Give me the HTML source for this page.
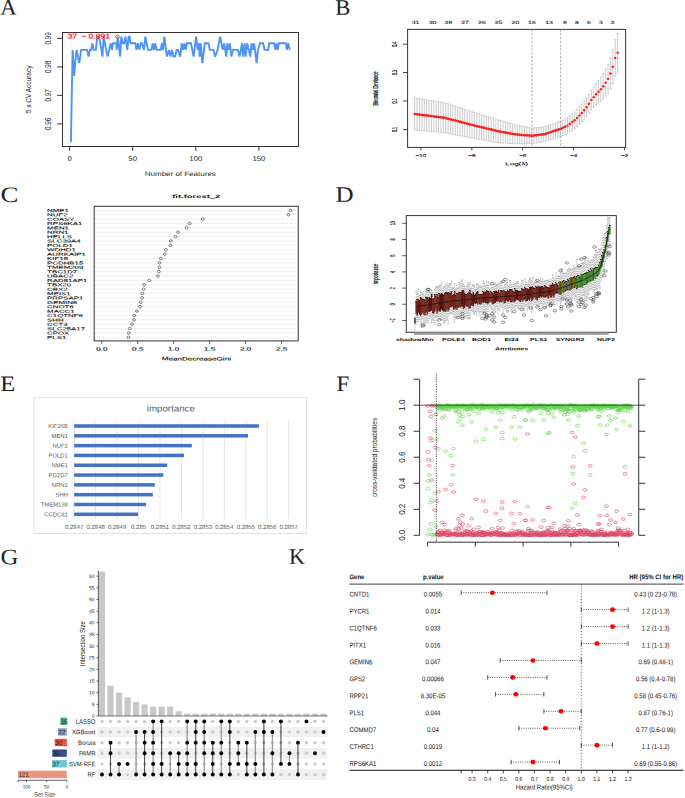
<!DOCTYPE html>
<html><head><meta charset="utf-8"><style>
html,body{margin:0;padding:0;background:#fff;}
svg{display:block;font-family:"Liberation Sans", sans-serif;}
</style></head><body>
<svg width="685" height="798" viewBox="0 0 685 798">
<rect width="685" height="798" fill="#fff"/>
<text transform="translate(0.2,14.6) rotate(0.05) scale(1.03,1)" font-family='"Liberation Serif", serif' font-size="22" fill="#222">A</text>
<text transform="translate(335.3,14.7) rotate(0.05) scale(1.03,1)" font-family='"Liberation Serif", serif' font-size="22" fill="#222">B</text>
<text transform="translate(0.6,202) rotate(0.05) scale(1.22,1)" font-family='"Liberation Serif", serif' font-size="22" fill="#222">C</text>
<text transform="translate(335.5,201.7) rotate(0.05) scale(1.14,1)" font-family='"Liberation Serif", serif' font-size="22" fill="#222">D</text>
<text transform="translate(0.3,391) rotate(0.05) scale(1.12,1)" font-family='"Liberation Serif", serif' font-size="22" fill="#222">E</text>
<text transform="translate(336.6,391.1) rotate(0.05) scale(1.05,1)" font-family='"Liberation Serif", serif' font-size="22" fill="#222">F</text>
<text transform="translate(0.5,564.3) rotate(0.05) scale(1.13,1)" font-family='"Liberation Serif", serif' font-size="22" fill="#222">G</text>
<text transform="translate(289,563.8) rotate(0.05) scale(1,1)" font-family='"Liberation Serif", serif' font-size="22" fill="#222">K</text>
<rect x="62.5" y="32.5" width="236" height="114" fill="none" stroke="#333" stroke-width="1"/>
<line x1="57.2" y1="38.4" x2="62.5" y2="38.4" stroke="#333" stroke-width="1"/>
<text transform="translate(51.1,38.4) rotate(-90) scale(1,1.55)" font-size="6.4" text-anchor="middle" fill="#222">0.99</text>
<line x1="57.2" y1="66.9" x2="62.5" y2="66.9" stroke="#333" stroke-width="1"/>
<text transform="translate(51.1,66.9) rotate(-90) scale(1,1.55)" font-size="6.4" text-anchor="middle" fill="#222">0.98</text>
<line x1="57.2" y1="95.4" x2="62.5" y2="95.4" stroke="#333" stroke-width="1"/>
<text transform="translate(51.1,95.4) rotate(-90) scale(1,1.55)" font-size="6.4" text-anchor="middle" fill="#222">0.97</text>
<line x1="57.2" y1="123.9" x2="62.5" y2="123.9" stroke="#333" stroke-width="1"/>
<text transform="translate(51.1,123.9) rotate(-90) scale(1,1.55)" font-size="6.4" text-anchor="middle" fill="#222">0.96</text>
<line x1="69.6" y1="146.5" x2="69.6" y2="150.8" stroke="#333" stroke-width="1"/>
<text transform="translate(69.6,160.7) rotate(0.05) scale(1.22,1)" font-size="6.4" text-anchor="middle" fill="#222">0</text>
<line x1="132.7" y1="146.5" x2="132.7" y2="150.8" stroke="#333" stroke-width="1"/>
<text transform="translate(132.7,160.7) rotate(0.05) scale(1.22,1)" font-size="6.4" text-anchor="middle" fill="#222">50</text>
<line x1="195.8" y1="146.5" x2="195.8" y2="150.8" stroke="#333" stroke-width="1"/>
<text transform="translate(195.8,160.7) rotate(0.05) scale(1.22,1)" font-size="6.4" text-anchor="middle" fill="#222">100</text>
<line x1="258.9" y1="146.5" x2="258.9" y2="150.8" stroke="#333" stroke-width="1"/>
<text transform="translate(258.9,160.7) rotate(0.05) scale(1.22,1)" font-size="6.4" text-anchor="middle" fill="#222">150</text>
<text transform="translate(180.3,175.9) rotate(0.05) scale(1.27,1)" font-size="6.3" text-anchor="middle" fill="#222">Number of Features</text>
<text transform="translate(31.4,89.4) rotate(-90) scale(1,1.25)" font-size="6.5" text-anchor="middle" fill="#222">5 x CV Accuracy</text>
<polyline points="70.9,142 72.6,49.9 74.2,76 75.3,62 76.6,49.9 79.2,63 81.2,49.9 87,49.9 88.6,56.6 89.8,49.9 91.1,49.9 92.3,43.3 93.7,49.9 95.9,49.9 97.3,36.6 98.8,36.6 100.3,43.3 102.4,56.6 103.7,36.6 104.9,43.3 107.5,56.6 109.2,49.9 110.5,43.3 112,49.9 113,43.3 116.2,43.3 116.7,49.9 117.7,36.6 120.2,56.6 121.3,36.6 122.8,43.3 124.1,43.3 125.4,36.6 127.3,49.9 128.6,36.6 129.6,36.6 130.6,43.3 135.2,43.3 136.4,49.9 137.8,43.3 139.3,49.9 140.8,43.3 141.9,43.3 143.9,49.9 145.4,36.6 148,49.9 151.6,49.9 152.6,43.3 154.1,49.9 155.1,43.3 156.7,49.9 160.8,49.9 161.8,43.3 163,49.9 164.3,36.6 166.9,56.6 168.9,49.9 170.5,56.6 172,49.9 173.5,56.6 175.1,56.6 176.6,49.9 178.1,49.9 180.2,56.6 181.7,43.3 183.2,49.9 184.3,43.3 185.8,49.9 186.8,43.3 190.4,43.3 191,43.3 193.6,56.6 196.1,36.6 197.7,49.9 198.7,43.3 199.7,56.6 200.7,43.3 202.3,63.2 204.8,43.3 208.4,43.3 209.9,49.9 213.5,49.9 215,56.6 217.6,49.9 220.1,36.6 222.7,49.9 224.2,43.3 226.3,56.6 227.3,43.3 228.8,49.9 229.9,43.3 231.4,56.6 232.9,49.9 238,49.9 239.6,56.6 242.1,43.3 243.1,56.6 244.7,43.3 245.7,56.6 247.2,43.3 248.8,49.9 250.3,56.6 251.5,43.3 252.9,49.9 254,43.3 255.1,49.9 256.6,63.2 258,49.9 259.9,43.3 263.1,43.3 264.6,49.9 268.2,49.9 269.3,43.3 274.1,43.3 275.5,49.9 276.6,43.3 277.7,49.9 278.8,43.3 284.3,43.3 285.8,43.3 286.9,49.9 288,43.3 289.8,49.9" fill="none" stroke="#4d94f5" stroke-width="1.9" stroke-linejoin="miter" stroke-miterlimit="3"/>
<text transform="translate(67.5,38.4) rotate(0.05) scale(1.25,1)" font-size="6.9" text-anchor="start" fill="#f22" stroke="#f22" stroke-width="0.25">37</text>
<text transform="translate(81.2,38.4) rotate(0.05) scale(1.25,1)" font-size="6.9" text-anchor="start" fill="#f22" stroke="#f22" stroke-width="0.25">&#8722;</text>
<text transform="translate(88.5,38.4) rotate(0.05) scale(1.25,1)" font-size="6.9" text-anchor="start" fill="#f22" stroke="#f22" stroke-width="0.25">0.991</text>
<ellipse cx="117.5" cy="36.6" rx="1.9" ry="1.6" fill="none" stroke="#f22" stroke-width="0.8"/>
<rect x="407.6" y="29.4" width="218" height="118" fill="none" stroke="#333" stroke-width="1"/>
<line x1="403" y1="129.6" x2="407.6" y2="129.6" stroke="#333" stroke-width="0.9"/>
<text transform="translate(396.9,129.6) rotate(-90) scale(1,2)" font-size="3.6" text-anchor="middle" fill="#111" stroke="#111" stroke-width="0.1">0.1</text>
<line x1="403" y1="101" x2="407.6" y2="101" stroke="#333" stroke-width="0.9"/>
<text transform="translate(396.9,101) rotate(-90) scale(1,2)" font-size="3.6" text-anchor="middle" fill="#111" stroke="#111" stroke-width="0.1">0.2</text>
<line x1="403" y1="72.5" x2="407.6" y2="72.5" stroke="#333" stroke-width="0.9"/>
<text transform="translate(396.9,72.5) rotate(-90) scale(1,2)" font-size="3.6" text-anchor="middle" fill="#111" stroke="#111" stroke-width="0.1">0.3</text>
<line x1="403" y1="44.2" x2="407.6" y2="44.2" stroke="#333" stroke-width="0.9"/>
<text transform="translate(396.9,44.2) rotate(-90) scale(1,2)" font-size="3.6" text-anchor="middle" fill="#111" stroke="#111" stroke-width="0.1">0.4</text>
<line x1="420.9" y1="147.4" x2="420.9" y2="150.4" stroke="#333" stroke-width="0.9"/>
<text transform="translate(420.9,156.8) rotate(0.05) scale(1.65,1)" font-size="3.8" text-anchor="middle" fill="#111" stroke="#111" stroke-width="0.12">&#8722;10</text>
<line x1="471.82" y1="147.4" x2="471.82" y2="150.4" stroke="#333" stroke-width="0.9"/>
<text transform="translate(471.82,156.8) rotate(0.05) scale(1.65,1)" font-size="3.8" text-anchor="middle" fill="#111" stroke="#111" stroke-width="0.12">&#8722;8</text>
<line x1="522.74" y1="147.4" x2="522.74" y2="150.4" stroke="#333" stroke-width="0.9"/>
<text transform="translate(522.74,156.8) rotate(0.05) scale(1.65,1)" font-size="3.8" text-anchor="middle" fill="#111" stroke="#111" stroke-width="0.12">&#8722;6</text>
<line x1="573.66" y1="147.4" x2="573.66" y2="150.4" stroke="#333" stroke-width="0.9"/>
<text transform="translate(573.66,156.8) rotate(0.05) scale(1.65,1)" font-size="3.8" text-anchor="middle" fill="#111" stroke="#111" stroke-width="0.12">&#8722;4</text>
<line x1="624.58" y1="147.4" x2="624.58" y2="150.4" stroke="#333" stroke-width="0.9"/>
<text transform="translate(624.58,156.8) rotate(0.05) scale(1.65,1)" font-size="3.8" text-anchor="middle" fill="#111" stroke="#111" stroke-width="0.12">&#8722;2</text>
<text transform="translate(516.6,165.3) rotate(0.05) scale(1.88,1)" font-size="4.3" text-anchor="middle" fill="#111" stroke="#111" stroke-width="0.12">Log(&#955;)</text>
<text transform="translate(377.5,88.5) rotate(-90) scale(1,1.6)" font-size="4.13" text-anchor="middle" fill="#111" stroke="#111" stroke-width="0.15">Binomial Deviance</text>
<text transform="translate(415.6,23.9) rotate(0.05) scale(1.5,1)" font-size="4.6" text-anchor="middle" fill="#222" stroke="#222" stroke-width="0.08">31</text>
<text transform="translate(432.5,23.9) rotate(0.05) scale(1.5,1)" font-size="4.6" text-anchor="middle" fill="#222" stroke="#222" stroke-width="0.08">30</text>
<text transform="translate(448.6,23.9) rotate(0.05) scale(1.5,1)" font-size="4.6" text-anchor="middle" fill="#222" stroke="#222" stroke-width="0.08">29</text>
<text transform="translate(465,23.9) rotate(0.05) scale(1.5,1)" font-size="4.6" text-anchor="middle" fill="#222" stroke="#222" stroke-width="0.08">27</text>
<text transform="translate(481.9,23.9) rotate(0.05) scale(1.5,1)" font-size="4.6" text-anchor="middle" fill="#222" stroke="#222" stroke-width="0.08">26</text>
<text transform="translate(498.5,23.9) rotate(0.05) scale(1.5,1)" font-size="4.6" text-anchor="middle" fill="#222" stroke="#222" stroke-width="0.08">25</text>
<text transform="translate(515.4,23.9) rotate(0.05) scale(1.5,1)" font-size="4.6" text-anchor="middle" fill="#222" stroke="#222" stroke-width="0.08">20</text>
<text transform="translate(531.9,23.9) rotate(0.05) scale(1.5,1)" font-size="4.6" text-anchor="middle" fill="#222" stroke="#222" stroke-width="0.08">16</text>
<text transform="translate(549,23.9) rotate(0.05) scale(1.5,1)" font-size="4.6" text-anchor="middle" fill="#222" stroke="#222" stroke-width="0.08">13</text>
<text transform="translate(564.9,23.9) rotate(0.05) scale(1.5,1)" font-size="4.6" text-anchor="middle" fill="#222" stroke="#222" stroke-width="0.08">9</text>
<text transform="translate(577,23.9) rotate(0.05) scale(1.5,1)" font-size="4.6" text-anchor="middle" fill="#222" stroke="#222" stroke-width="0.08">8</text>
<text transform="translate(589,23.9) rotate(0.05) scale(1.5,1)" font-size="4.6" text-anchor="middle" fill="#222" stroke="#222" stroke-width="0.08">6</text>
<text transform="translate(600.8,23.9) rotate(0.05) scale(1.5,1)" font-size="4.6" text-anchor="middle" fill="#222" stroke="#222" stroke-width="0.08">3</text>
<text transform="translate(612.7,23.9) rotate(0.05) scale(1.5,1)" font-size="4.6" text-anchor="middle" fill="#222" stroke="#222" stroke-width="0.08">2</text>
<line x1="532" y1="29.4" x2="532" y2="147.4" stroke="#888" stroke-width="0.7" stroke-dasharray="2.2,1.6"/>
<line x1="560.6" y1="29.4" x2="560.6" y2="147.4" stroke="#888" stroke-width="0.7" stroke-dasharray="2.2,1.6"/>
<path d="M414.7 98V130 M413.7 98H415.7 M413.7 130H415.7 M417.09 98.38V130.22 M416.09 98.38H418.09 M416.09 130.22H418.09 M419.47 98.76V130.43 M418.47 98.76H420.47 M418.47 130.43H420.47 M421.86 99.13V130.65 M420.86 99.13H422.86 M420.86 130.65H422.86 M424.25 99.51V130.87 M423.25 99.51H425.25 M423.25 130.87H425.25 M426.64 99.89V131.09 M425.64 99.89H427.64 M425.64 131.09H427.64 M429.02 100.27V131.3 M428.02 100.27H430.02 M428.02 131.3H430.02 M431.41 100.64V131.52 M430.41 100.64H432.41 M430.41 131.52H432.41 M433.8 101.02V131.74 M432.8 101.02H434.8 M432.8 131.74H434.8 M436.18 101.4V131.95 M435.18 101.4H437.18 M435.18 131.95H437.18 M438.57 101.78V132.17 M437.57 101.78H439.57 M437.57 132.17H439.57 M440.96 102.16V132.39 M439.96 102.16H441.96 M439.96 132.39H441.96 M443.34 102.53V132.6 M442.34 102.53H444.34 M442.34 132.6H444.34 M445.73 103.14V132.96 M444.73 103.14H446.73 M444.73 132.96H446.73 M448.12 103.92V133.42 M447.12 103.92H449.12 M447.12 133.42H449.12 M450.51 104.7V133.88 M449.51 104.7H451.51 M449.51 133.88H451.51 M452.89 105.48V134.34 M451.89 105.48H453.89 M451.89 134.34H453.89 M455.28 106.27V134.8 M454.28 106.27H456.28 M454.28 134.8H456.28 M457.67 107.05V135.25 M456.67 107.05H458.67 M456.67 135.25H458.67 M460.05 107.83V135.71 M459.05 107.83H461.05 M459.05 135.71H461.05 M462.44 108.61V136.17 M461.44 108.61H463.44 M461.44 136.17H463.44 M464.83 109.39V136.63 M463.83 109.39H465.83 M463.83 136.63H465.83 M467.22 110.18V137.09 M466.22 110.18H468.22 M466.22 137.09H468.22 M469.6 110.96V137.55 M468.6 110.96H470.6 M468.6 137.55H470.6 M471.99 111.74V138.01 M470.99 111.74H472.99 M470.99 138.01H472.99 M474.38 112.51V138.47 M473.38 112.51H475.38 M473.38 138.47H475.38 M476.76 113.24V138.89 M475.76 113.24H477.76 M475.76 138.89H477.76 M479.15 113.97V139.31 M478.15 113.97H480.15 M478.15 139.31H480.15 M481.54 114.69V139.73 M480.54 114.69H482.54 M480.54 139.73H482.54 M483.92 115.42V140.15 M482.92 115.42H484.92 M482.92 140.15H484.92 M486.31 116.14V140.57 M485.31 116.14H487.31 M485.31 140.57H487.31 M488.7 116.87V140.99 M487.7 116.87H489.7 M487.7 140.99H489.7 M491.09 117.59V141.41 M490.09 117.59H492.09 M490.09 141.41H492.09 M493.47 118.32V141.83 M492.47 118.32H494.47 M492.47 141.83H494.47 M495.86 119.05V142.25 M494.86 119.05H496.86 M494.86 142.25H496.86 M498.25 119.77V142.67 M497.25 119.77H499.25 M497.25 142.67H499.25 M500.63 120.49V142.9 M499.63 120.49H501.63 M499.63 142.9H501.63 M503.02 121.21V143.05 M502.02 121.21H504.02 M502.02 143.05H504.02 M505.41 121.92V143.2 M504.41 121.92H506.41 M504.41 143.2H506.41 M507.8 122.64V143.35 M506.8 122.64H508.8 M506.8 143.35H508.8 M510.18 123.35V143.5 M509.18 123.35H511.18 M509.18 143.5H511.18 M512.57 124.07V143.65 M511.57 124.07H513.57 M511.57 143.65H513.57 M514.96 124.79V143.8 M513.96 124.79H515.96 M513.96 143.8H515.96 M517.34 125.27V143.74 M516.34 125.27H518.34 M516.34 143.74H518.34 M519.73 125.75V143.69 M518.73 125.75H520.73 M518.73 143.69H520.73 M522.12 126.22V143.63 M521.12 126.22H523.12 M521.12 143.63H523.12 M524.5 126.7V143.58 M523.5 126.7H525.5 M523.5 143.58H525.5 M526.89 127.18V143.52 M525.89 127.18H527.89 M525.89 143.52H527.89 M529.28 127.66V143.46 M528.28 127.66H530.28 M528.28 143.46H530.28 M531.67 128.13V143.41 M530.67 128.13H532.67 M530.67 143.41H532.67 M534.05 127.95V143.08 M533.05 127.95H535.05 M533.05 143.08H535.05 M536.44 127.65V142.72 M535.44 127.65H537.44 M535.44 142.72H537.44 M538.83 127.36V142.35 M537.83 127.36H539.83 M537.83 142.35H539.83 M541.21 127.07V141.98 M540.21 127.07H542.21 M540.21 141.98H542.21 M543.6 126.77V141.62 M542.6 126.77H544.6 M542.6 141.62H544.6 M545.99 126.26V141.08 M544.99 126.26H546.99 M544.99 141.08H546.99 M548.38 125.45V140.3 M547.38 125.45H549.38 M547.38 140.3H549.38 M550.76 124.64V139.52 M549.76 124.64H551.76 M549.76 139.52H551.76 M553.15 123.83V138.74 M552.15 123.83H554.15 M552.15 138.74H554.15 M555.54 123.02V137.96 M554.54 123.02H556.54 M554.54 137.96H556.54 M557.92 122.21V137.17 M556.92 122.21H558.92 M556.92 137.17H558.92 M560.31 121.4V136.39 M559.31 121.4H561.31 M559.31 136.39H561.31 M562.7 120.25V135.43 M561.7 120.25H563.7 M561.7 135.43H563.7 M565.08 119.06V134.44 M564.08 119.06H566.08 M564.08 134.44H566.08 M567.47 117.86V133.45 M566.47 117.86H568.47 M566.47 133.45H568.47 M569.86 115.93V131.82 M568.86 115.93H570.86 M568.86 131.82H570.86 M572.25 113.95V130.16 M571.25 113.95H573.25 M571.25 130.16H573.25 M574.63 111.97V128.5 M573.63 111.97H575.63 M573.63 128.5H575.63 M577.02 109.42V126.38 M576.02 109.42H578.02 M576.02 126.38H578.02 M579.41 106.69V124.13 M578.41 106.69H580.41 M578.41 124.13H580.41 M581.79 103.96V121.88 M580.79 103.96H582.79 M580.79 121.88H582.79 M584.18 100.98V119.31 M583.18 100.98H585.18 M583.18 119.31H585.18 M586.57 97.95V116.68 M585.57 97.95H587.57 M585.57 116.68H587.57 M588.96 94.18V113.33 M587.96 94.18H589.96 M587.96 113.33H589.96 M591.34 90.26V109.83 M590.34 90.26H592.34 M590.34 109.83H592.34 M593.73 86.87V107.42 M592.73 86.87H594.73 M592.73 107.42H594.73 M596.12 83.52V105.08 M595.12 83.52H597.12 M595.12 105.08H597.12 M598.5 80.38V103.13 M597.5 80.38H599.5 M597.5 103.13H599.5 M600.89 77.24V101.19 M599.89 77.24H601.89 M599.89 101.19H601.89 M603.28 73.49V99.01 M602.28 73.49H604.28 M602.28 99.01H604.28 M605.66 69.16V96.14 M604.66 69.16H606.66 M604.66 96.14H606.66 M608.05 64.4V93.28 M607.05 64.4H609.05 M607.05 93.28H609.05 M610.44 58.13V89 M609.44 58.13H611.44 M609.44 89H611.44 M612.83 49.76V83.67 M611.83 49.76H613.83 M611.83 83.67H613.83 M615.21 39.77V76.18 M614.21 39.77H616.21 M614.21 76.18H616.21 M617.6 33.5V72.1 M616.6 33.5H618.6 M616.6 72.1H618.6" stroke="#aaa" stroke-width="0.6" fill="none"/>
<polyline points="414.7,114 417.09,114.3 419.47,114.59 421.86,114.89 424.25,115.19 426.64,115.49 429.02,115.78 431.41,116.08 433.8,116.38 436.18,116.68 438.57,116.97 440.96,117.27 443.34,117.57 445.73,118.05 448.12,118.67 450.51,119.29 452.89,119.91 455.28,120.53 457.67,121.15 460.05,121.77 462.44,122.39 464.83,123.01 467.22,123.64 469.6,124.26 471.99,124.88 474.38,125.49 476.76,126.06 479.15,126.64 481.54,127.21 483.92,127.78 486.31,128.35 488.7,128.93 491.09,129.5 493.47,130.07 495.86,130.65 498.25,131.22 500.63,131.7 503.02,132.13 505.41,132.56 507.8,132.99 510.18,133.43 512.57,133.86 514.96,134.29 517.34,134.51 519.73,134.72 522.12,134.93 524.5,135.14 526.89,135.35 529.28,135.56 531.67,135.77 534.05,135.52 536.44,135.19 538.83,134.85 541.21,134.52 543.6,134.19 545.99,133.67 548.38,132.87 550.76,132.08 553.15,131.28 555.54,130.49 557.92,129.69 560.31,128.9 562.7,127.84 565.08,126.75" fill="none" stroke="#f22" stroke-width="2.0"/>
<ellipse cx="414.7" cy="114" rx="1.3" ry="1.2" fill="#f22"/>
<ellipse cx="417.09" cy="114.3" rx="1.3" ry="1.2" fill="#f22"/>
<ellipse cx="419.47" cy="114.59" rx="1.3" ry="1.2" fill="#f22"/>
<ellipse cx="421.86" cy="114.89" rx="1.3" ry="1.2" fill="#f22"/>
<ellipse cx="424.25" cy="115.19" rx="1.3" ry="1.2" fill="#f22"/>
<ellipse cx="426.64" cy="115.49" rx="1.3" ry="1.2" fill="#f22"/>
<ellipse cx="429.02" cy="115.78" rx="1.3" ry="1.2" fill="#f22"/>
<ellipse cx="431.41" cy="116.08" rx="1.3" ry="1.2" fill="#f22"/>
<ellipse cx="433.8" cy="116.38" rx="1.3" ry="1.2" fill="#f22"/>
<ellipse cx="436.18" cy="116.68" rx="1.3" ry="1.2" fill="#f22"/>
<ellipse cx="438.57" cy="116.97" rx="1.3" ry="1.2" fill="#f22"/>
<ellipse cx="440.96" cy="117.27" rx="1.3" ry="1.2" fill="#f22"/>
<ellipse cx="443.34" cy="117.57" rx="1.3" ry="1.2" fill="#f22"/>
<ellipse cx="445.73" cy="118.05" rx="1.3" ry="1.2" fill="#f22"/>
<ellipse cx="448.12" cy="118.67" rx="1.3" ry="1.2" fill="#f22"/>
<ellipse cx="450.51" cy="119.29" rx="1.3" ry="1.2" fill="#f22"/>
<ellipse cx="452.89" cy="119.91" rx="1.3" ry="1.2" fill="#f22"/>
<ellipse cx="455.28" cy="120.53" rx="1.3" ry="1.2" fill="#f22"/>
<ellipse cx="457.67" cy="121.15" rx="1.3" ry="1.2" fill="#f22"/>
<ellipse cx="460.05" cy="121.77" rx="1.3" ry="1.2" fill="#f22"/>
<ellipse cx="462.44" cy="122.39" rx="1.3" ry="1.2" fill="#f22"/>
<ellipse cx="464.83" cy="123.01" rx="1.3" ry="1.2" fill="#f22"/>
<ellipse cx="467.22" cy="123.64" rx="1.3" ry="1.2" fill="#f22"/>
<ellipse cx="469.6" cy="124.26" rx="1.3" ry="1.2" fill="#f22"/>
<ellipse cx="471.99" cy="124.88" rx="1.3" ry="1.2" fill="#f22"/>
<ellipse cx="474.38" cy="125.49" rx="1.3" ry="1.2" fill="#f22"/>
<ellipse cx="476.76" cy="126.06" rx="1.3" ry="1.2" fill="#f22"/>
<ellipse cx="479.15" cy="126.64" rx="1.3" ry="1.2" fill="#f22"/>
<ellipse cx="481.54" cy="127.21" rx="1.3" ry="1.2" fill="#f22"/>
<ellipse cx="483.92" cy="127.78" rx="1.3" ry="1.2" fill="#f22"/>
<ellipse cx="486.31" cy="128.35" rx="1.3" ry="1.2" fill="#f22"/>
<ellipse cx="488.7" cy="128.93" rx="1.3" ry="1.2" fill="#f22"/>
<ellipse cx="491.09" cy="129.5" rx="1.3" ry="1.2" fill="#f22"/>
<ellipse cx="493.47" cy="130.07" rx="1.3" ry="1.2" fill="#f22"/>
<ellipse cx="495.86" cy="130.65" rx="1.3" ry="1.2" fill="#f22"/>
<ellipse cx="498.25" cy="131.22" rx="1.3" ry="1.2" fill="#f22"/>
<ellipse cx="500.63" cy="131.7" rx="1.3" ry="1.2" fill="#f22"/>
<ellipse cx="503.02" cy="132.13" rx="1.3" ry="1.2" fill="#f22"/>
<ellipse cx="505.41" cy="132.56" rx="1.3" ry="1.2" fill="#f22"/>
<ellipse cx="507.8" cy="132.99" rx="1.3" ry="1.2" fill="#f22"/>
<ellipse cx="510.18" cy="133.43" rx="1.3" ry="1.2" fill="#f22"/>
<ellipse cx="512.57" cy="133.86" rx="1.3" ry="1.2" fill="#f22"/>
<ellipse cx="514.96" cy="134.29" rx="1.3" ry="1.2" fill="#f22"/>
<ellipse cx="517.34" cy="134.51" rx="1.3" ry="1.2" fill="#f22"/>
<ellipse cx="519.73" cy="134.72" rx="1.3" ry="1.2" fill="#f22"/>
<ellipse cx="522.12" cy="134.93" rx="1.3" ry="1.2" fill="#f22"/>
<ellipse cx="524.5" cy="135.14" rx="1.3" ry="1.2" fill="#f22"/>
<ellipse cx="526.89" cy="135.35" rx="1.3" ry="1.2" fill="#f22"/>
<ellipse cx="529.28" cy="135.56" rx="1.3" ry="1.2" fill="#f22"/>
<ellipse cx="531.67" cy="135.77" rx="1.3" ry="1.2" fill="#f22"/>
<ellipse cx="534.05" cy="135.52" rx="1.3" ry="1.2" fill="#f22"/>
<ellipse cx="536.44" cy="135.19" rx="1.3" ry="1.2" fill="#f22"/>
<ellipse cx="538.83" cy="134.85" rx="1.3" ry="1.2" fill="#f22"/>
<ellipse cx="541.21" cy="134.52" rx="1.3" ry="1.2" fill="#f22"/>
<ellipse cx="543.6" cy="134.19" rx="1.3" ry="1.2" fill="#f22"/>
<ellipse cx="545.99" cy="133.67" rx="1.3" ry="1.2" fill="#f22"/>
<ellipse cx="548.38" cy="132.87" rx="1.3" ry="1.2" fill="#f22"/>
<ellipse cx="550.76" cy="132.08" rx="1.3" ry="1.2" fill="#f22"/>
<ellipse cx="553.15" cy="131.28" rx="1.3" ry="1.2" fill="#f22"/>
<ellipse cx="555.54" cy="130.49" rx="1.3" ry="1.2" fill="#f22"/>
<ellipse cx="557.92" cy="129.69" rx="1.3" ry="1.2" fill="#f22"/>
<ellipse cx="560.31" cy="128.9" rx="1.3" ry="1.2" fill="#f22"/>
<ellipse cx="562.7" cy="127.84" rx="1.3" ry="1.2" fill="#f22"/>
<ellipse cx="565.08" cy="126.75" rx="1.3" ry="1.2" fill="#f22"/>
<ellipse cx="567.47" cy="125.66" rx="1.3" ry="1.2" fill="#f22"/>
<ellipse cx="569.86" cy="123.88" rx="1.3" ry="1.2" fill="#f22"/>
<ellipse cx="572.25" cy="122.05" rx="1.3" ry="1.2" fill="#f22"/>
<ellipse cx="574.63" cy="120.23" rx="1.3" ry="1.2" fill="#f22"/>
<ellipse cx="577.02" cy="117.9" rx="1.3" ry="1.2" fill="#f22"/>
<ellipse cx="579.41" cy="115.41" rx="1.3" ry="1.2" fill="#f22"/>
<ellipse cx="581.79" cy="112.92" rx="1.3" ry="1.2" fill="#f22"/>
<ellipse cx="584.18" cy="110.15" rx="1.3" ry="1.2" fill="#f22"/>
<ellipse cx="586.57" cy="107.31" rx="1.3" ry="1.2" fill="#f22"/>
<ellipse cx="588.96" cy="103.76" rx="1.3" ry="1.2" fill="#f22"/>
<ellipse cx="591.34" cy="100.05" rx="1.3" ry="1.2" fill="#f22"/>
<ellipse cx="593.73" cy="97.14" rx="1.3" ry="1.2" fill="#f22"/>
<ellipse cx="596.12" cy="94.3" rx="1.3" ry="1.2" fill="#f22"/>
<ellipse cx="598.5" cy="91.75" rx="1.3" ry="1.2" fill="#f22"/>
<ellipse cx="600.89" cy="89.22" rx="1.3" ry="1.2" fill="#f22"/>
<ellipse cx="603.28" cy="86.25" rx="1.3" ry="1.2" fill="#f22"/>
<ellipse cx="605.66" cy="82.65" rx="1.3" ry="1.2" fill="#f22"/>
<ellipse cx="608.05" cy="78.84" rx="1.3" ry="1.2" fill="#f22"/>
<ellipse cx="610.44" cy="73.56" rx="1.3" ry="1.2" fill="#f22"/>
<ellipse cx="612.83" cy="66.72" rx="1.3" ry="1.2" fill="#f22"/>
<ellipse cx="615.21" cy="57.97" rx="1.3" ry="1.2" fill="#f22"/>
<ellipse cx="617.6" cy="52.8" rx="1.3" ry="1.2" fill="#f22"/>
<rect x="94.2" y="206.3" width="204" height="134.6" fill="none" stroke="#333" stroke-width="1"/>
<text transform="translate(196.2,198) rotate(0.05) scale(1.96,1)" font-size="4.8" text-anchor="middle" fill="#111" font-weight="bold">fit.forest_2</text>
<line x1="209.8" y1="198.4" x2="215.2" y2="198.4" stroke="#111" stroke-width="0.6"/>
<path d="M95.5 210.3H297 M95.5 214.68H297 M95.5 219.06H297 M95.5 223.44H297 M95.5 227.82H297 M95.5 232.2H297 M95.5 236.58H297 M95.5 240.96H297 M95.5 245.34H297 M95.5 249.72H297 M95.5 254.1H297 M95.5 258.48H297 M95.5 262.86H297 M95.5 267.24H297 M95.5 271.62H297 M95.5 276H297 M95.5 280.38H297 M95.5 284.76H297 M95.5 289.14H297 M95.5 293.52H297 M95.5 297.9H297 M95.5 302.28H297 M95.5 306.66H297 M95.5 311.04H297 M95.5 315.42H297 M95.5 319.8H297 M95.5 324.18H297 M95.5 328.56H297 M95.5 332.94H297 M95.5 337.32H297" stroke="#999" stroke-width="0.5" stroke-dasharray="0.6,1.4" fill="none"/>
<text transform="translate(47.1,211.9) rotate(0.05) scale(1.83,1)" font-size="4.3" text-anchor="start" fill="#111" stroke="#111" stroke-width="0.1">NME1</text>
<ellipse cx="290.6" cy="210.3" rx="1.45" ry="1.25" fill="none" stroke="#222" stroke-width="0.55"/>
<text transform="translate(47.1,216.28) rotate(0.05) scale(1.83,1)" font-size="4.3" text-anchor="start" fill="#111" stroke="#111" stroke-width="0.1">NUF2</text>
<ellipse cx="288.4" cy="214.68" rx="1.45" ry="1.25" fill="none" stroke="#222" stroke-width="0.55"/>
<text transform="translate(47.1,220.66) rotate(0.05) scale(1.83,1)" font-size="4.3" text-anchor="start" fill="#111" stroke="#111" stroke-width="0.1">COASY</text>
<ellipse cx="202.8" cy="219.06" rx="1.45" ry="1.25" fill="none" stroke="#222" stroke-width="0.55"/>
<text transform="translate(47.1,225.04) rotate(0.05) scale(1.83,1)" font-size="4.3" text-anchor="start" fill="#111" stroke="#111" stroke-width="0.1">RPS6KA1</text>
<ellipse cx="189.6" cy="223.44" rx="1.45" ry="1.25" fill="none" stroke="#222" stroke-width="0.55"/>
<text transform="translate(47.1,229.42) rotate(0.05) scale(1.83,1)" font-size="4.3" text-anchor="start" fill="#111" stroke="#111" stroke-width="0.1">MEN1</text>
<ellipse cx="186.6" cy="227.82" rx="1.45" ry="1.25" fill="none" stroke="#222" stroke-width="0.55"/>
<text transform="translate(47.1,233.8) rotate(0.05) scale(1.83,1)" font-size="4.3" text-anchor="start" fill="#111" stroke="#111" stroke-width="0.1">NRN1</text>
<ellipse cx="178" cy="232.2" rx="1.45" ry="1.25" fill="none" stroke="#222" stroke-width="0.55"/>
<text transform="translate(47.1,238.18) rotate(0.05) scale(1.83,1)" font-size="4.3" text-anchor="start" fill="#111" stroke="#111" stroke-width="0.1">HELLS</text>
<ellipse cx="175.5" cy="236.58" rx="1.45" ry="1.25" fill="none" stroke="#222" stroke-width="0.55"/>
<text transform="translate(47.1,242.56) rotate(0.05) scale(1.83,1)" font-size="4.3" text-anchor="start" fill="#111" stroke="#111" stroke-width="0.1">SLC39A4</text>
<ellipse cx="170.8" cy="240.96" rx="1.45" ry="1.25" fill="none" stroke="#222" stroke-width="0.55"/>
<text transform="translate(47.1,246.94) rotate(0.05) scale(1.83,1)" font-size="4.3" text-anchor="start" fill="#111" stroke="#111" stroke-width="0.1">POLD1</text>
<ellipse cx="170.3" cy="245.34" rx="1.45" ry="1.25" fill="none" stroke="#222" stroke-width="0.55"/>
<text transform="translate(47.1,251.32) rotate(0.05) scale(1.83,1)" font-size="4.3" text-anchor="start" fill="#111" stroke="#111" stroke-width="0.1">WDHD1</text>
<ellipse cx="165.8" cy="249.72" rx="1.45" ry="1.25" fill="none" stroke="#222" stroke-width="0.55"/>
<text transform="translate(47.1,255.7) rotate(0.05) scale(1.83,1)" font-size="4.3" text-anchor="start" fill="#111" stroke="#111" stroke-width="0.1">AURKAIP1</text>
<ellipse cx="164.8" cy="254.1" rx="1.45" ry="1.25" fill="none" stroke="#222" stroke-width="0.55"/>
<text transform="translate(47.1,260.08) rotate(0.05) scale(1.83,1)" font-size="4.3" text-anchor="start" fill="#111" stroke="#111" stroke-width="0.1">KIF15</text>
<ellipse cx="160.8" cy="258.48" rx="1.45" ry="1.25" fill="none" stroke="#222" stroke-width="0.55"/>
<text transform="translate(47.1,264.46) rotate(0.05) scale(1.83,1)" font-size="4.3" text-anchor="start" fill="#111" stroke="#111" stroke-width="0.1">PCDHB15</text>
<ellipse cx="159.6" cy="262.86" rx="1.45" ry="1.25" fill="none" stroke="#222" stroke-width="0.55"/>
<text transform="translate(47.1,268.84) rotate(0.05) scale(1.83,1)" font-size="4.3" text-anchor="start" fill="#111" stroke="#111" stroke-width="0.1">TMEM209</text>
<ellipse cx="159.4" cy="267.24" rx="1.45" ry="1.25" fill="none" stroke="#222" stroke-width="0.55"/>
<text transform="translate(47.1,273.22) rotate(0.05) scale(1.83,1)" font-size="4.3" text-anchor="start" fill="#111" stroke="#111" stroke-width="0.1">TBC1D7</text>
<ellipse cx="158.9" cy="271.62" rx="1.45" ry="1.25" fill="none" stroke="#222" stroke-width="0.55"/>
<text transform="translate(47.1,277.6) rotate(0.05) scale(1.83,1)" font-size="4.3" text-anchor="start" fill="#111" stroke="#111" stroke-width="0.1">UBAC2</text>
<ellipse cx="157.9" cy="276" rx="1.45" ry="1.25" fill="none" stroke="#222" stroke-width="0.55"/>
<text transform="translate(47.1,281.98) rotate(0.05) scale(1.83,1)" font-size="4.3" text-anchor="start" fill="#111" stroke="#111" stroke-width="0.1">RAD51AP1</text>
<ellipse cx="149.3" cy="280.38" rx="1.45" ry="1.25" fill="none" stroke="#222" stroke-width="0.55"/>
<text transform="translate(47.1,286.36) rotate(0.05) scale(1.83,1)" font-size="4.3" text-anchor="start" fill="#111" stroke="#111" stroke-width="0.1">TBX20</text>
<ellipse cx="144" cy="284.76" rx="1.45" ry="1.25" fill="none" stroke="#222" stroke-width="0.55"/>
<text transform="translate(47.1,290.74) rotate(0.05) scale(1.83,1)" font-size="4.3" text-anchor="start" fill="#111" stroke="#111" stroke-width="0.1">CBX2</text>
<ellipse cx="143.6" cy="289.14" rx="1.45" ry="1.25" fill="none" stroke="#222" stroke-width="0.55"/>
<text transform="translate(47.1,295.12) rotate(0.05) scale(1.83,1)" font-size="4.3" text-anchor="start" fill="#111" stroke="#111" stroke-width="0.1">MEIS1</text>
<ellipse cx="142.3" cy="293.52" rx="1.45" ry="1.25" fill="none" stroke="#222" stroke-width="0.55"/>
<text transform="translate(47.1,299.5) rotate(0.05) scale(1.83,1)" font-size="4.3" text-anchor="start" fill="#111" stroke="#111" stroke-width="0.1">PRPSAP1</text>
<ellipse cx="142" cy="297.9" rx="1.45" ry="1.25" fill="none" stroke="#222" stroke-width="0.55"/>
<text transform="translate(47.1,303.88) rotate(0.05) scale(1.83,1)" font-size="4.3" text-anchor="start" fill="#111" stroke="#111" stroke-width="0.1">GEMIN6</text>
<ellipse cx="140.7" cy="302.28" rx="1.45" ry="1.25" fill="none" stroke="#222" stroke-width="0.55"/>
<text transform="translate(47.1,308.26) rotate(0.05) scale(1.83,1)" font-size="4.3" text-anchor="start" fill="#111" stroke="#111" stroke-width="0.1">CNOT6</text>
<ellipse cx="140.1" cy="306.66" rx="1.45" ry="1.25" fill="none" stroke="#222" stroke-width="0.55"/>
<text transform="translate(47.1,312.64) rotate(0.05) scale(1.83,1)" font-size="4.3" text-anchor="start" fill="#111" stroke="#111" stroke-width="0.1">MACC1</text>
<ellipse cx="136.9" cy="311.04" rx="1.45" ry="1.25" fill="none" stroke="#222" stroke-width="0.55"/>
<text transform="translate(47.1,317.02) rotate(0.05) scale(1.83,1)" font-size="4.3" text-anchor="start" fill="#111" stroke="#111" stroke-width="0.1">C1QTNF6</text>
<ellipse cx="134.3" cy="315.42" rx="1.45" ry="1.25" fill="none" stroke="#222" stroke-width="0.55"/>
<text transform="translate(47.1,321.4) rotate(0.05) scale(1.83,1)" font-size="4.3" text-anchor="start" fill="#111" stroke="#111" stroke-width="0.1">SHH</text>
<ellipse cx="134" cy="319.8" rx="1.45" ry="1.25" fill="none" stroke="#222" stroke-width="0.55"/>
<text transform="translate(47.1,325.78) rotate(0.05) scale(1.83,1)" font-size="4.3" text-anchor="start" fill="#111" stroke="#111" stroke-width="0.1">CCT3</text>
<ellipse cx="132" cy="324.18" rx="1.45" ry="1.25" fill="none" stroke="#222" stroke-width="0.55"/>
<text transform="translate(47.1,330.16) rotate(0.05) scale(1.83,1)" font-size="4.3" text-anchor="start" fill="#111" stroke="#111" stroke-width="0.1">SLC25A17</text>
<ellipse cx="129.8" cy="328.56" rx="1.45" ry="1.25" fill="none" stroke="#222" stroke-width="0.55"/>
<text transform="translate(47.1,334.54) rotate(0.05) scale(1.83,1)" font-size="4.3" text-anchor="start" fill="#111" stroke="#111" stroke-width="0.1">CPOX</text>
<ellipse cx="128.9" cy="332.94" rx="1.45" ry="1.25" fill="none" stroke="#222" stroke-width="0.55"/>
<text transform="translate(47.1,338.92) rotate(0.05) scale(1.83,1)" font-size="4.3" text-anchor="start" fill="#111" stroke="#111" stroke-width="0.1">PLS1</text>
<ellipse cx="128.5" cy="337.32" rx="1.45" ry="1.25" fill="none" stroke="#222" stroke-width="0.55"/>
<line x1="101.8" y1="340.9" x2="101.8" y2="343.8" stroke="#333" stroke-width="0.8"/>
<text transform="translate(101.8,350.6) rotate(0.05) scale(1.71,1)" font-size="4.75" text-anchor="middle" fill="#111" stroke="#111" stroke-width="0.12">0.0</text>
<line x1="137.75" y1="340.9" x2="137.75" y2="343.8" stroke="#333" stroke-width="0.8"/>
<text transform="translate(137.75,350.6) rotate(0.05) scale(1.71,1)" font-size="4.75" text-anchor="middle" fill="#111" stroke="#111" stroke-width="0.12">0.5</text>
<line x1="173.7" y1="340.9" x2="173.7" y2="343.8" stroke="#333" stroke-width="0.8"/>
<text transform="translate(173.7,350.6) rotate(0.05) scale(1.71,1)" font-size="4.75" text-anchor="middle" fill="#111" stroke="#111" stroke-width="0.12">1.0</text>
<line x1="209.65" y1="340.9" x2="209.65" y2="343.8" stroke="#333" stroke-width="0.8"/>
<text transform="translate(209.65,350.6) rotate(0.05) scale(1.71,1)" font-size="4.75" text-anchor="middle" fill="#111" stroke="#111" stroke-width="0.12">1.5</text>
<line x1="245.6" y1="340.9" x2="245.6" y2="343.8" stroke="#333" stroke-width="0.8"/>
<text transform="translate(245.6,350.6) rotate(0.05) scale(1.71,1)" font-size="4.75" text-anchor="middle" fill="#111" stroke="#111" stroke-width="0.12">2.0</text>
<line x1="281.55" y1="340.9" x2="281.55" y2="343.8" stroke="#333" stroke-width="0.8"/>
<text transform="translate(281.55,350.6) rotate(0.05) scale(1.71,1)" font-size="4.75" text-anchor="middle" fill="#111" stroke="#111" stroke-width="0.12">2.5</text>
<text transform="translate(196.3,360.4) rotate(0.05) scale(1.59,1)" font-size="5.1" text-anchor="middle" fill="#111" stroke="#111" stroke-width="0.12">MeanDecreaseGini</text>
<rect x="33.9" y="397.8" width="272.4" height="135.8" fill="#fff" stroke="#d9d9d9" stroke-width="0.8"/>
<text transform="translate(170.8,411.4) rotate(0.05) scale(1.08,1)" font-size="9" text-anchor="middle" fill="#595959">importance</text>
<path d="M74.2 420.8V519 M95.65 420.8V519 M117.1 420.8V519 M138.55 420.8V519 M160 420.8V519 M181.45 420.8V519 M202.9 420.8V519 M224.35 420.8V519 M245.8 420.8V519 M267.25 420.8V519 M288.7 420.8V519" stroke="#d9d9d9" stroke-width="0.7" fill="none"/>
<rect x="74.2" y="424.25" width="184.7" height="3.5" fill="#4472c4" stroke="none" stroke-width="1"/>
<text transform="translate(67.9,428.1) rotate(0.05)" font-size="5.9" text-anchor="end" fill="#595959">KIF26B</text>
<rect x="74.2" y="434.06" width="173.8" height="3.5" fill="#4472c4" stroke="none" stroke-width="1"/>
<text transform="translate(67.9,437.91) rotate(0.05)" font-size="5.9" text-anchor="end" fill="#595959">MEN1</text>
<rect x="74.2" y="443.87" width="117.6" height="3.5" fill="#4472c4" stroke="none" stroke-width="1"/>
<text transform="translate(67.9,447.72) rotate(0.05)" font-size="5.9" text-anchor="end" fill="#595959">NUF2</text>
<rect x="74.2" y="453.68" width="109.8" height="3.5" fill="#4472c4" stroke="none" stroke-width="1"/>
<text transform="translate(67.9,457.53) rotate(0.05)" font-size="5.9" text-anchor="end" fill="#595959">POLD1</text>
<rect x="74.2" y="463.49" width="93" height="3.5" fill="#4472c4" stroke="none" stroke-width="1"/>
<text transform="translate(67.9,467.34) rotate(0.05)" font-size="5.9" text-anchor="end" fill="#595959">NME1</text>
<rect x="74.2" y="473.3" width="89.1" height="3.5" fill="#4472c4" stroke="none" stroke-width="1"/>
<text transform="translate(67.9,477.15) rotate(0.05)" font-size="5.9" text-anchor="end" fill="#595959">PDZD7</text>
<rect x="74.2" y="483.11" width="80.6" height="3.5" fill="#4472c4" stroke="none" stroke-width="1"/>
<text transform="translate(67.9,486.96) rotate(0.05)" font-size="5.9" text-anchor="end" fill="#595959">NRN1</text>
<rect x="74.2" y="492.92" width="78.6" height="3.5" fill="#4472c4" stroke="none" stroke-width="1"/>
<text transform="translate(67.9,496.77) rotate(0.05)" font-size="5.9" text-anchor="end" fill="#595959">SHH</text>
<rect x="74.2" y="502.73" width="71.9" height="3.5" fill="#4472c4" stroke="none" stroke-width="1"/>
<text transform="translate(67.9,506.58) rotate(0.05)" font-size="5.9" text-anchor="end" fill="#595959">TMEM138</text>
<rect x="74.2" y="512.54" width="63.8" height="3.5" fill="#4472c4" stroke="none" stroke-width="1"/>
<text transform="translate(67.9,516.39) rotate(0.05)" font-size="5.9" text-anchor="end" fill="#595959">CCDC81</text>
<text transform="translate(74.2,529.1) rotate(0.05)" font-size="6" text-anchor="middle" fill="#595959">0.2847</text>
<text transform="translate(95.65,529.1) rotate(0.05)" font-size="6" text-anchor="middle" fill="#595959">0.2848</text>
<text transform="translate(117.1,529.1) rotate(0.05)" font-size="6" text-anchor="middle" fill="#595959">0.2849</text>
<text transform="translate(138.55,529.1) rotate(0.05)" font-size="6" text-anchor="middle" fill="#595959">0.285</text>
<text transform="translate(160,529.1) rotate(0.05)" font-size="6" text-anchor="middle" fill="#595959">0.2851</text>
<text transform="translate(181.45,529.1) rotate(0.05)" font-size="6" text-anchor="middle" fill="#595959">0.2852</text>
<text transform="translate(202.9,529.1) rotate(0.05)" font-size="6" text-anchor="middle" fill="#595959">0.2853</text>
<text transform="translate(224.35,529.1) rotate(0.05)" font-size="6" text-anchor="middle" fill="#595959">0.2854</text>
<text transform="translate(245.8,529.1) rotate(0.05)" font-size="6" text-anchor="middle" fill="#595959">0.2855</text>
<text transform="translate(267.25,529.1) rotate(0.05)" font-size="6" text-anchor="middle" fill="#595959">0.2856</text>
<text transform="translate(288.7,529.1) rotate(0.05)" font-size="6" text-anchor="middle" fill="#595959">0.2857</text>
<rect x="406.3" y="215.6" width="210" height="116.7" fill="none" stroke="#333" stroke-width="1"/>
<line x1="402.2" y1="223.3" x2="406.3" y2="223.3" stroke="#333" stroke-width="0.8"/>
<text transform="translate(395.1,223.3) rotate(-90) scale(1,1.85)" font-size="3.7" text-anchor="middle" fill="#111" stroke="#111" stroke-width="0.1">10</text>
<line x1="402.2" y1="239.5" x2="406.3" y2="239.5" stroke="#333" stroke-width="0.8"/>
<text transform="translate(395.1,239.5) rotate(-90) scale(1,1.85)" font-size="3.7" text-anchor="middle" fill="#111" stroke="#111" stroke-width="0.1">8</text>
<line x1="402.2" y1="255.7" x2="406.3" y2="255.7" stroke="#333" stroke-width="0.8"/>
<text transform="translate(395.1,255.7) rotate(-90) scale(1,1.85)" font-size="3.7" text-anchor="middle" fill="#111" stroke="#111" stroke-width="0.1">6</text>
<line x1="402.2" y1="271.9" x2="406.3" y2="271.9" stroke="#333" stroke-width="0.8"/>
<text transform="translate(395.1,271.9) rotate(-90) scale(1,1.85)" font-size="3.7" text-anchor="middle" fill="#111" stroke="#111" stroke-width="0.1">4</text>
<line x1="402.2" y1="288.1" x2="406.3" y2="288.1" stroke="#333" stroke-width="0.8"/>
<text transform="translate(395.1,288.1) rotate(-90) scale(1,1.85)" font-size="3.7" text-anchor="middle" fill="#111" stroke="#111" stroke-width="0.1">2</text>
<line x1="402.2" y1="304.3" x2="406.3" y2="304.3" stroke="#333" stroke-width="0.8"/>
<text transform="translate(395.1,304.3) rotate(-90) scale(1,1.85)" font-size="3.7" text-anchor="middle" fill="#111" stroke="#111" stroke-width="0.1">0</text>
<line x1="402.2" y1="320.5" x2="406.3" y2="320.5" stroke="#333" stroke-width="0.8"/>
<text transform="translate(395.1,320.5) rotate(-90) scale(1,1.85)" font-size="3.7" text-anchor="middle" fill="#111" stroke="#111" stroke-width="0.1">&#8722;2</text>
<text transform="translate(378.1,274) rotate(-90) scale(1,1.7)" font-size="4.08" text-anchor="middle" fill="#111" stroke="#111" stroke-width="0.12">Importance</text>
<rect x="414" y="332.6" width="194.5" height="2.4" fill="#b0b0b0"/>
<path d="M414.5 332.5V334.8 M416.7 332.5V334.8 M418.9 332.5V334.8 M421.1 332.5V334.8 M423.3 332.5V334.8 M425.5 332.5V334.8 M427.7 332.5V334.8 M429.9 332.5V334.8 M432.1 332.5V334.8 M434.3 332.5V334.8 M436.5 332.5V334.8 M438.7 332.5V334.8 M440.9 332.5V334.8 M443.1 332.5V334.8 M445.3 332.5V334.8 M447.5 332.5V334.8 M449.7 332.5V334.8 M451.9 332.5V334.8 M454.1 332.5V334.8 M456.3 332.5V334.8 M458.5 332.5V334.8 M460.7 332.5V334.8 M462.9 332.5V334.8 M465.1 332.5V334.8 M467.3 332.5V334.8 M469.5 332.5V334.8 M471.7 332.5V334.8 M473.9 332.5V334.8 M476.1 332.5V334.8 M478.3 332.5V334.8 M480.5 332.5V334.8 M482.7 332.5V334.8 M484.9 332.5V334.8 M487.1 332.5V334.8 M489.3 332.5V334.8 M491.5 332.5V334.8 M493.7 332.5V334.8 M495.9 332.5V334.8 M498.1 332.5V334.8 M500.3 332.5V334.8 M502.5 332.5V334.8 M504.7 332.5V334.8 M506.9 332.5V334.8 M509.1 332.5V334.8 M511.3 332.5V334.8 M513.5 332.5V334.8 M515.7 332.5V334.8 M517.9 332.5V334.8 M520.1 332.5V334.8 M522.3 332.5V334.8 M524.5 332.5V334.8 M526.7 332.5V334.8 M528.9 332.5V334.8 M531.1 332.5V334.8 M533.3 332.5V334.8 M535.5 332.5V334.8 M537.7 332.5V334.8 M539.9 332.5V334.8 M542.1 332.5V334.8 M544.3 332.5V334.8 M546.5 332.5V334.8 M548.7 332.5V334.8 M550.9 332.5V334.8 M553.1 332.5V334.8 M555.3 332.5V334.8 M557.5 332.5V334.8 M559.7 332.5V334.8 M561.9 332.5V334.8 M564.1 332.5V334.8 M566.3 332.5V334.8 M568.5 332.5V334.8 M570.7 332.5V334.8 M572.9 332.5V334.8 M575.1 332.5V334.8 M577.3 332.5V334.8 M579.5 332.5V334.8 M581.7 332.5V334.8 M583.9 332.5V334.8 M586.1 332.5V334.8 M588.3 332.5V334.8 M590.5 332.5V334.8 M592.7 332.5V334.8 M594.9 332.5V334.8 M597.1 332.5V334.8 M599.3 332.5V334.8 M601.5 332.5V334.8 M603.7 332.5V334.8 M605.9 332.5V334.8 M608.1 332.5V334.8" stroke="#777" stroke-width="0.5" fill="none"/>
<text transform="translate(414.8,341) rotate(0.05) scale(1.62,1)" font-size="4.3" text-anchor="middle" fill="#111" font-weight="bold">shadowMin</text>
<text transform="translate(453.4,341) rotate(0.05) scale(1.62,1)" font-size="4.3" text-anchor="middle" fill="#111" font-weight="bold">POLE4</text>
<text transform="translate(481.6,341) rotate(0.05) scale(1.62,1)" font-size="4.3" text-anchor="middle" fill="#111" font-weight="bold">BOD1</text>
<text transform="translate(511.6,341) rotate(0.05) scale(1.62,1)" font-size="4.3" text-anchor="middle" fill="#111" font-weight="bold">EI24</text>
<text transform="translate(538.7,341) rotate(0.05) scale(1.62,1)" font-size="4.3" text-anchor="middle" fill="#111" font-weight="bold">PLS1</text>
<text transform="translate(570,341) rotate(0.05) scale(1.62,1)" font-size="4.3" text-anchor="middle" fill="#111" font-weight="bold">SYNGR2</text>
<text transform="translate(606,341) rotate(0.05) scale(1.62,1)" font-size="4.3" text-anchor="middle" fill="#111" font-weight="bold">NUF2</text>
<text transform="translate(511.5,350.2) rotate(0.05) scale(1.64,1)" font-size="4.3" text-anchor="middle" fill="#111" font-weight="bold">Attributes</text>
<path d="M415.05 317V318.5 M415.05 323.5V330 M416.15 290.8V301.41 M416.15 313.88V324.07 M417.25 292.88V299.54 M417.25 315.74V321.56 M418.35 289.14V299.21 M418.35 312.16V320.28 M419.45 295.52V300.41 M419.45 314.19V319.21 M420.55 291.93V297.09 M420.55 315.76V322.09 M421.65 292.68V298.11 M421.65 314.19V326.72 M422.75 294V299.16 M422.75 312.46V318.63 M423.85 291.59V298.96 M423.85 314.6V322.13 M424.96 295.91V300.07 M424.96 315.23V326.23 M426.06 290.83V297.46 M426.06 312.3V324.03 M427.16 292.11V296.94 M427.16 314.83V321.8 M428.26 290.52V298.19 M428.26 311.68V322.89 M429.36 292.16V297.2 M429.36 311.57V318.78 M430.46 292.81V298.05 M430.46 311.2V316.82 M431.56 290.11V294.44 M431.56 310.24V323.13 M432.66 292.68V299.08 M432.66 312.94V319.95 M433.76 294.55V298.78 M433.76 313.63V322.58 M434.86 289.03V293.96 M434.86 311.69V323.86 M435.96 286.59V296.51 M435.96 309.43V316.78 M437.06 287.06V294.23 M437.06 313.37V322.28 M438.16 286.62V296.94 M438.16 310.66V316.56 M439.26 285.82V293.32 M439.26 311.25V318.96 M440.36 285.14V294.46 M440.36 311.25V319.16 M441.46 282.7V293.57 M441.46 309.07V319.8 M442.56 290.23V294.31 M442.56 310.46V319.84 M443.66 286.52V295.06 M443.66 311.45V322.83 M444.77 287.04V293.49 M444.77 311.32V323.07 M445.87 284.49V292.12 M445.87 311.78V321.01 M446.97 283.28V292.12 M446.97 309.2V319.95 M448.07 285.92V293.54 M448.07 311.3V323.79 M449.17 283.52V292.56 M449.17 309.62V314.84 M450.27 283.81V293.13 M450.27 307.15V313.6 M451.37 280.98V291.22 M451.37 306.95V312.83 M452.47 287.78V295.04 M452.47 306.19V314.23 M453.57 288.26V294.88 M453.57 309.49V317.29 M454.67 283.63V291.46 M454.67 309.23V321.95 M455.77 288.83V295.2 M455.77 308.4V318.05 M456.87 284.98V293.47 M456.87 309.63V317.59 M457.97 288.15V293.54 M457.97 307.84V313.91 M459.07 282.52V292.65 M459.07 306.97V316.49 M460.17 283.81V292.77 M460.17 307.64V315.71 M461.27 281.28V292.15 M461.27 306.43V315.4 M462.37 279.78V290.29 M462.37 306.56V312.7 M463.48 284.51V290.23 M463.48 308.82V315.96 M464.58 286.01V293.33 M464.58 307.84V318 M465.68 288.63V294.61 M465.68 305.32V315.98 M466.78 285.67V294.44 M466.78 306.33V317.83 M467.88 282.79V293.21 M467.88 306.75V318.85 M468.98 284.04V292.21 M468.98 308.39V318.91 M470.08 282.62V289.95 M470.08 308.45V318.91 M471.18 288.08V293.86 M471.18 305.47V310.21 M472.28 284.6V294.4 M472.28 305.44V311.24 M473.38 284.79V292.12 M473.38 306.02V313.95 M474.48 285.77V294.96 M474.48 303.24V313.93 M475.58 289.67V293.9 M475.58 303.84V311.62 M476.68 283.91V291.96 M476.68 302.98V314.89 M477.78 284.63V291.3 M477.78 304.62V310.72 M478.88 287.08V294.52 M478.88 302.73V312.44 M479.98 285.77V294.45 M479.98 303.93V315.28 M481.08 287.22V294.23 M481.08 304.23V311.62 M482.18 286.45V293.98 M482.18 302.74V312.58 M483.29 281.18V291.4 M483.29 302.62V313.44 M484.39 283.18V291.67 M484.39 302.17V311.83 M485.49 285.78V292.61 M485.49 302.85V314.84 M486.59 281.74V290.76 M486.59 302.91V313.29 M487.69 285.27V291.54 M487.69 304.15V314.33 M488.79 281.7V291.11 M488.79 302.76V311.39 M489.89 288.96V293.15 M489.89 301.77V306.77 M490.99 284.87V291.46 M490.99 302.3V309.29 M492.09 287.56V292.6 M492.09 302.63V312.28 M493.19 287.51V293.56 M493.19 304.11V314.51 M494.29 284.23V291.13 M494.29 303.23V315.09 M495.39 282.84V290.95 M495.39 302.79V312.18 M496.49 284.83V290.99 M496.49 301.31V306.53 M497.59 284.56V292.78 M497.59 301.43V313.25 M498.69 283.84V290.67 M498.69 301.46V309.6 M499.79 282.73V293.04 M499.79 302.38V311.02 M500.89 281.46V290.55 M500.89 301.18V306.59 M501.99 281.79V290.73 M501.99 302.04V307.12 M503.1 287.84V291.86 M503.1 300.35V312.41 M504.2 285.54V290.73 M504.2 303.17V308.02 M505.3 284.05V291.28 M505.3 302.77V308.49 M506.4 282.72V291.6 M506.4 300.24V311.15 M507.5 282.33V290.71 M507.5 301.54V312.3 M508.6 286.15V291.57 M508.6 301.54V311.57 M509.7 280.44V289.3 M509.7 299.95V307.53 M510.8 280.38V289.18 M510.8 301.96V311.02 M511.9 284.16V289.71 M511.9 302.05V312.9 M513 286.41V291.09 M513 300.55V309.03 M514.1 284.48V291.94 M514.1 302.12V307.04 M515.2 283.37V288.67 M515.2 301.49V309.45 M516.3 282.85V290.72 M516.3 299.8V305.75 M517.4 281.56V290.02 M517.4 299.74V307.83 M518.5 281.6V291.42 M518.5 300.19V308.39 M519.6 286.76V291.59 M519.6 301.37V309.67 M520.7 284.76V291.31 M520.7 301.81V306.93 M521.81 279.83V288.26 M521.81 299.58V306.98 M522.91 280.56V289.53 M522.91 301.34V308.83 M524.01 284.29V289.01 M524.01 299.88V310.88 M525.11 278.81V287.85 M525.11 299.01V306.18 M526.21 282.44V288.7 M526.21 301.03V305.82 M527.31 284.64V288.56 M527.31 300.93V310.77 M528.41 280.85V289.27 M528.41 299.57V307.3 M529.51 278.97V287.18 M529.51 300.2V308.97 M530.61 278.04V286.91 M530.61 297.63V303.91 M531.71 280.6V287.11 M531.71 300.8V312.83 M532.81 277.52V286.84 M532.81 299.74V310.04 M533.91 283.6V288.18 M533.91 297.45V304.75 M535.01 282V288.36 M535.01 296.98V303.05 M536.11 280.02V286.35 M536.11 299.03V304.58 M537.21 281.58V287 M537.21 300.22V305.7 M538.31 282.38V286.57 M538.31 297.34V306.33 M539.41 279.98V286.56 M539.41 297.89V306.6 M540.51 277.88V287.53 M540.51 296.54V303.76 M541.62 280.93V286.86 M541.62 297.65V303.15 M542.72 279.14V286.12 M542.72 296.17V307.19 M543.82 281.6V287.92 M543.82 297.48V309.01 M544.92 280.98V285.42 M544.92 297.37V303.55 M546.02 280.33V286.23 M546.02 297.09V307.62 M547.12 280.61V287.41 M547.12 296.71V306.56 M548.22 280.27V287.13 M548.22 298.6V303.36 M549.32 281.09V287.39 M549.32 295.08V302.38 M550.42 279.25V284.98 M550.42 297.51V303.12 M551.52 280.71V285.07 M551.52 297.34V302.89 M552.62 274.94V283.48 M552.62 295.2V301.02 M553.72 277.6V284.95 M553.72 297.41V305.05 M554.82 280.35V284.68 M554.82 293.98V304.87 M555.92 272.63V282.83 M555.92 293.44V299.62 M557.02 278.28V283.9 M557.02 293.1V305.03 M558.12 276.29V285.16 M558.12 293.01V301.51 M559.22 276.26V282.55 M559.22 294.39V300.58 M560.32 272.23V281.69 M560.32 294.6V307.79 M561.43 268.56V282.51 M561.43 294.69V302.43 M562.53 269.65V281.15 M562.53 291.65V297.94 M563.63 273.1V280.19 M563.63 292.87V300.76 M564.73 273.19V282.62 M564.73 291.27V299.4 M565.83 273.01V281.36 M565.83 291V304.17 M566.93 270.59V281.74 M566.93 290.34V299.34 M568.03 269.56V279.4 M568.03 290V301.65 M569.13 268.05V280.48 M569.13 290.11V298.02 M570.23 268.93V278.45 M570.23 290.45V297.27 M571.33 270.07V277.41 M571.33 289.28V302.73 M572.43 268.66V277.47 M572.43 288.37V298.33 M573.53 265.91V277.85 M573.53 287.68V294.61 M574.63 268.03V276.24 M574.63 287.93V300.2 M575.73 267.46V277.98 M575.73 286.81V296.47 M576.83 259.41V276.56 M576.83 288.97V305.33 M577.93 266.01V275.24 M577.93 287.01V299.57 M579.03 267.27V275.53 M579.03 287.5V299.61 M580.14 265.99V277.03 M580.14 287.3V300.55 M581.24 263.16V273.89 M581.24 286.8V298.85 M582.34 263.25V274.4 M582.34 287.2V301.31 M583.44 262.71V274.66 M583.44 285.53V295.49 M584.54 259.78V273.51 M584.54 284.92V302.04 M585.64 257.15V273 M585.64 284.24V300.6 M586.74 264.02V272.88 M586.74 284.47V300.6 M587.84 258.37V272.69 M587.84 282.01V298.45 M588.94 261.01V270.73 M588.94 282.69V294.04 M590.04 262.24V271.19 M590.04 281.41V290.05 M591.14 260.12V268.78 M591.14 281V289.69 M592.24 260.56V270.83 M592.24 280.39V288.66 M593.34 257.24V268.48 M593.34 280.48V292.1 M594.44 254.86V268.37 M594.44 278.5V296.23 M595.54 250.61V267.79 M595.54 278.84V290.1 M596.64 250.38V267.77 M596.64 276.35V289.01 M597.74 252.09V267.04 M597.74 276.05V291.34 M598.84 248.93V264.95 M598.84 274.24V287.05 M599.95 249.25V262.14 M599.95 271.75V288.49 M601.05 248.91V259.86 M601.05 268.35V280.05 M602.15 238.4V255.83 M602.15 266.23V277.36 M603.25 236.99V252.31 M603.25 262.32V275.37 M604.35 233.63V249.34 M604.35 257.81V274.18 M605.45 233.03V245.02 M605.45 252.69V261.71 M606.55 225.32V237.67 M606.55 247.63V258.69 M607.65 217.5V231.75 M607.65 241.37V258.29 M608.75 217.96V227.03 M608.75 234.35V246.93 M609.85 217.5V225.05 M609.85 234.16V245.56" stroke="#444" stroke-width="0.5" stroke-dasharray="0.8,0.9" fill="none"/>
<path d="M414.4 317H415.7 M414.4 330H415.7 M415.5 290.8H416.8 M415.5 324.07H416.8 M416.6 292.88H417.9 M416.6 321.56H417.9 M417.7 289.14H419 M417.7 320.28H419 M418.8 295.52H420.1 M418.8 319.21H420.1 M419.9 291.93H421.2 M419.9 322.09H421.2 M421 292.68H422.3 M421 326.72H422.3 M422.1 294H423.4 M422.1 318.63H423.4 M423.2 291.59H424.51 M423.2 322.13H424.51 M424.31 295.91H425.61 M424.31 326.23H425.61 M425.41 290.83H426.71 M425.41 324.03H426.71 M426.51 292.11H427.81 M426.51 321.8H427.81 M427.61 290.52H428.91 M427.61 322.89H428.91 M428.71 292.16H430.01 M428.71 318.78H430.01 M429.81 292.81H431.11 M429.81 316.82H431.11 M430.91 290.11H432.21 M430.91 323.13H432.21 M432.01 292.68H433.31 M432.01 319.95H433.31 M433.11 294.55H434.41 M433.11 322.58H434.41 M434.21 289.03H435.51 M434.21 323.86H435.51 M435.31 286.59H436.61 M435.31 316.78H436.61 M436.41 287.06H437.71 M436.41 322.28H437.71 M437.51 286.62H438.81 M437.51 316.56H438.81 M438.61 285.82H439.91 M438.61 318.96H439.91 M439.71 285.14H441.01 M439.71 319.16H441.01 M440.81 282.7H442.11 M440.81 319.8H442.11 M441.91 290.23H443.21 M441.91 319.84H443.21 M443.01 286.52H444.32 M443.01 322.83H444.32 M444.12 287.04H445.42 M444.12 323.07H445.42 M445.22 284.49H446.52 M445.22 321.01H446.52 M446.32 283.28H447.62 M446.32 319.95H447.62 M447.42 285.92H448.72 M447.42 323.79H448.72 M448.52 283.52H449.82 M448.52 314.84H449.82 M449.62 283.81H450.92 M449.62 313.6H450.92 M450.72 280.98H452.02 M450.72 312.83H452.02 M451.82 287.78H453.12 M451.82 314.23H453.12 M452.92 288.26H454.22 M452.92 317.29H454.22 M454.02 283.63H455.32 M454.02 321.95H455.32 M455.12 288.83H456.42 M455.12 318.05H456.42 M456.22 284.98H457.52 M456.22 317.59H457.52 M457.32 288.15H458.62 M457.32 313.91H458.62 M458.42 282.52H459.72 M458.42 316.49H459.72 M459.52 283.81H460.82 M459.52 315.71H460.82 M460.62 281.28H461.92 M460.62 315.4H461.92 M461.72 279.78H463.02 M461.72 312.7H463.02 M462.82 284.51H464.13 M462.82 315.96H464.13 M463.93 286.01H465.23 M463.93 318H465.23 M465.03 288.63H466.33 M465.03 315.98H466.33 M466.13 285.67H467.43 M466.13 317.83H467.43 M467.23 282.79H468.53 M467.23 318.85H468.53 M468.33 284.04H469.63 M468.33 318.91H469.63 M469.43 282.62H470.73 M469.43 318.91H470.73 M470.53 288.08H471.83 M470.53 310.21H471.83 M471.63 284.6H472.93 M471.63 311.24H472.93 M472.73 284.79H474.03 M472.73 313.95H474.03 M473.83 285.77H475.13 M473.83 313.93H475.13 M474.93 289.67H476.23 M474.93 311.62H476.23 M476.03 283.91H477.33 M476.03 314.89H477.33 M477.13 284.63H478.43 M477.13 310.72H478.43 M478.23 287.08H479.53 M478.23 312.44H479.53 M479.33 285.77H480.63 M479.33 315.28H480.63 M480.43 287.22H481.73 M480.43 311.62H481.73 M481.53 286.45H482.84 M481.53 312.58H482.84 M482.64 281.18H483.94 M482.64 313.44H483.94 M483.74 283.18H485.04 M483.74 311.83H485.04 M484.84 285.78H486.14 M484.84 314.84H486.14 M485.94 281.74H487.24 M485.94 313.29H487.24 M487.04 285.27H488.34 M487.04 314.33H488.34 M488.14 281.7H489.44 M488.14 311.39H489.44 M489.24 288.96H490.54 M489.24 306.77H490.54 M490.34 284.87H491.64 M490.34 309.29H491.64 M491.44 287.56H492.74 M491.44 312.28H492.74 M492.54 287.51H493.84 M492.54 314.51H493.84 M493.64 284.23H494.94 M493.64 315.09H494.94 M494.74 282.84H496.04 M494.74 312.18H496.04 M495.84 284.83H497.14 M495.84 306.53H497.14 M496.94 284.56H498.24 M496.94 313.25H498.24 M498.04 283.84H499.34 M498.04 309.6H499.34 M499.14 282.73H500.44 M499.14 311.02H500.44 M500.24 281.46H501.54 M500.24 306.59H501.54 M501.34 281.79H502.65 M501.34 307.12H502.65 M502.45 287.84H503.75 M502.45 312.41H503.75 M503.55 285.54H504.85 M503.55 308.02H504.85 M504.65 284.05H505.95 M504.65 308.49H505.95 M505.75 282.72H507.05 M505.75 311.15H507.05 M506.85 282.33H508.15 M506.85 312.3H508.15 M507.95 286.15H509.25 M507.95 311.57H509.25 M509.05 280.44H510.35 M509.05 307.53H510.35 M510.15 280.38H511.45 M510.15 311.02H511.45 M511.25 284.16H512.55 M511.25 312.9H512.55 M512.35 286.41H513.65 M512.35 309.03H513.65 M513.45 284.48H514.75 M513.45 307.04H514.75 M514.55 283.37H515.85 M514.55 309.45H515.85 M515.65 282.85H516.95 M515.65 305.75H516.95 M516.75 281.56H518.05 M516.75 307.83H518.05 M517.85 281.6H519.15 M517.85 308.39H519.15 M518.95 286.76H520.25 M518.95 309.67H520.25 M520.05 284.76H521.35 M520.05 306.93H521.35 M521.15 279.83H522.46 M521.15 306.98H522.46 M522.26 280.56H523.56 M522.26 308.83H523.56 M523.36 284.29H524.66 M523.36 310.88H524.66 M524.46 278.81H525.76 M524.46 306.18H525.76 M525.56 282.44H526.86 M525.56 305.82H526.86 M526.66 284.64H527.96 M526.66 310.77H527.96 M527.76 280.85H529.06 M527.76 307.3H529.06 M528.86 278.97H530.16 M528.86 308.97H530.16 M529.96 278.04H531.26 M529.96 303.91H531.26 M531.06 280.6H532.36 M531.06 312.83H532.36 M532.16 277.52H533.46 M532.16 310.04H533.46 M533.26 283.6H534.56 M533.26 304.75H534.56 M534.36 282H535.66 M534.36 303.05H535.66 M535.46 280.02H536.76 M535.46 304.58H536.76 M536.56 281.58H537.86 M536.56 305.7H537.86 M537.66 282.38H538.96 M537.66 306.33H538.96 M538.76 279.98H540.06 M538.76 306.6H540.06 M539.86 277.88H541.16 M539.86 303.76H541.16 M540.96 280.93H542.27 M540.96 303.15H542.27 M542.07 279.14H543.37 M542.07 307.19H543.37 M543.17 281.6H544.47 M543.17 309.01H544.47 M544.27 280.98H545.57 M544.27 303.55H545.57 M545.37 280.33H546.67 M545.37 307.62H546.67 M546.47 280.61H547.77 M546.47 306.56H547.77 M547.57 280.27H548.87 M547.57 303.36H548.87 M548.67 281.09H549.97 M548.67 302.38H549.97 M549.77 279.25H551.07 M549.77 303.12H551.07 M550.87 280.71H552.17 M550.87 302.89H552.17 M551.97 274.94H553.27 M551.97 301.02H553.27 M553.07 277.6H554.37 M553.07 305.05H554.37 M554.17 280.35H555.47 M554.17 304.87H555.47 M555.27 272.63H556.57 M555.27 299.62H556.57 M556.37 278.28H557.67 M556.37 305.03H557.67 M557.47 276.29H558.77 M557.47 301.51H558.77 M558.57 276.26H559.87 M558.57 300.58H559.87 M559.67 272.23H560.98 M559.67 307.79H560.98 M560.78 268.56H562.08 M560.78 302.43H562.08 M561.88 269.65H563.18 M561.88 297.94H563.18 M562.98 273.1H564.28 M562.98 300.76H564.28 M564.08 273.19H565.38 M564.08 299.4H565.38 M565.18 273.01H566.48 M565.18 304.17H566.48 M566.28 270.59H567.58 M566.28 299.34H567.58 M567.38 269.56H568.68 M567.38 301.65H568.68 M568.48 268.05H569.78 M568.48 298.02H569.78 M569.58 268.93H570.88 M569.58 297.27H570.88 M570.68 270.07H571.98 M570.68 302.73H571.98 M571.78 268.66H573.08 M571.78 298.33H573.08 M572.88 265.91H574.18 M572.88 294.61H574.18 M573.98 268.03H575.28 M573.98 300.2H575.28 M575.08 267.46H576.38 M575.08 296.47H576.38 M576.18 259.41H577.48 M576.18 305.33H577.48 M577.28 266.01H578.58 M577.28 299.57H578.58 M578.38 267.27H579.68 M578.38 299.61H579.68 M579.48 265.99H580.79 M579.48 300.55H580.79 M580.59 263.16H581.89 M580.59 298.85H581.89 M581.69 263.25H582.99 M581.69 301.31H582.99 M582.79 262.71H584.09 M582.79 295.49H584.09 M583.89 259.78H585.19 M583.89 302.04H585.19 M584.99 257.15H586.29 M584.99 300.6H586.29 M586.09 264.02H587.39 M586.09 300.6H587.39 M587.19 258.37H588.49 M587.19 298.45H588.49 M588.29 261.01H589.59 M588.29 294.04H589.59 M589.39 262.24H590.69 M589.39 290.05H590.69 M590.49 260.12H591.79 M590.49 289.69H591.79 M591.59 260.56H592.89 M591.59 288.66H592.89 M592.69 257.24H593.99 M592.69 292.1H593.99 M593.79 254.86H595.09 M593.79 296.23H595.09 M594.89 250.61H596.19 M594.89 290.1H596.19 M595.99 250.38H597.29 M595.99 289.01H597.29 M597.09 252.09H598.39 M597.09 291.34H598.39 M598.19 248.93H599.49 M598.19 287.05H599.49 M599.29 249.25H600.6 M599.29 288.49H600.6 M600.4 248.91H601.7 M600.4 280.05H601.7 M601.5 238.4H602.8 M601.5 277.36H602.8 M602.6 236.99H603.9 M602.6 275.37H603.9 M603.7 233.63H605 M603.7 274.18H605 M604.8 233.03H606.1 M604.8 261.71H606.1 M605.9 225.32H607.2 M605.9 258.69H607.2 M607 217.5H608.3 M607 258.29H608.3 M608.1 217.96H609.4 M608.1 246.93H609.4 M609.2 217.5H610.5 M609.2 245.56H610.5" stroke="#8a8a8a" stroke-width="0.5" fill="none"/>
<rect x="414.5" y="318.5" width="1.15" height="5" fill="#1a237e" stroke="#1a0502" stroke-width="0.22"/>
<rect x="415.6" y="301.41" width="1.15" height="12.47" fill="#84180f" stroke="#1a0502" stroke-width="0.22"/>
<rect x="416.7" y="299.54" width="1.15" height="16.2" fill="#7d1a12" stroke="#1a0502" stroke-width="0.22"/>
<rect x="417.8" y="299.21" width="1.15" height="12.95" fill="#8b1d14" stroke="#1a0502" stroke-width="0.22"/>
<rect x="418.9" y="300.41" width="1.15" height="13.78" fill="#7d1a12" stroke="#1a0502" stroke-width="0.22"/>
<rect x="420" y="297.09" width="1.15" height="18.67" fill="#8b1d14" stroke="#1a0502" stroke-width="0.22"/>
<rect x="421.1" y="298.11" width="1.15" height="16.09" fill="#8b1d14" stroke="#1a0502" stroke-width="0.22"/>
<rect x="422.2" y="299.16" width="1.15" height="13.3" fill="#9a2418" stroke="#1a0502" stroke-width="0.22"/>
<rect x="423.3" y="298.96" width="1.15" height="15.64" fill="#7d1a12" stroke="#1a0502" stroke-width="0.22"/>
<rect x="424.41" y="300.07" width="1.15" height="15.16" fill="#8b1d14" stroke="#1a0502" stroke-width="0.22"/>
<rect x="425.51" y="297.46" width="1.15" height="14.84" fill="#7d1a12" stroke="#1a0502" stroke-width="0.22"/>
<rect x="426.61" y="296.94" width="1.15" height="17.89" fill="#8b1d14" stroke="#1a0502" stroke-width="0.22"/>
<rect x="427.71" y="298.19" width="1.15" height="13.5" fill="#9a2418" stroke="#1a0502" stroke-width="0.22"/>
<rect x="428.81" y="297.2" width="1.15" height="14.38" fill="#6e120c" stroke="#1a0502" stroke-width="0.22"/>
<rect x="429.91" y="298.05" width="1.15" height="13.15" fill="#7d1a12" stroke="#1a0502" stroke-width="0.22"/>
<rect x="431.01" y="294.44" width="1.15" height="15.79" fill="#6e120c" stroke="#1a0502" stroke-width="0.22"/>
<rect x="432.11" y="299.08" width="1.15" height="13.86" fill="#9a2418" stroke="#1a0502" stroke-width="0.22"/>
<rect x="433.21" y="298.78" width="1.15" height="14.86" fill="#8b1d14" stroke="#1a0502" stroke-width="0.22"/>
<rect x="434.31" y="293.96" width="1.15" height="17.73" fill="#8b1d14" stroke="#1a0502" stroke-width="0.22"/>
<rect x="435.41" y="296.51" width="1.15" height="12.92" fill="#8b1d14" stroke="#1a0502" stroke-width="0.22"/>
<rect x="436.51" y="294.23" width="1.15" height="19.14" fill="#84180f" stroke="#1a0502" stroke-width="0.22"/>
<rect x="437.61" y="296.94" width="1.15" height="13.72" fill="#9a2418" stroke="#1a0502" stroke-width="0.22"/>
<rect x="438.71" y="293.32" width="1.15" height="17.93" fill="#84180f" stroke="#1a0502" stroke-width="0.22"/>
<rect x="439.81" y="294.46" width="1.15" height="16.79" fill="#6e120c" stroke="#1a0502" stroke-width="0.22"/>
<rect x="440.91" y="293.57" width="1.15" height="15.5" fill="#6e120c" stroke="#1a0502" stroke-width="0.22"/>
<rect x="442.01" y="294.31" width="1.15" height="16.15" fill="#6e120c" stroke="#1a0502" stroke-width="0.22"/>
<rect x="443.11" y="295.06" width="1.15" height="16.4" fill="#6e120c" stroke="#1a0502" stroke-width="0.22"/>
<rect x="444.22" y="293.49" width="1.15" height="17.83" fill="#6e120c" stroke="#1a0502" stroke-width="0.22"/>
<rect x="445.32" y="292.12" width="1.15" height="19.66" fill="#9a2418" stroke="#1a0502" stroke-width="0.22"/>
<rect x="446.42" y="292.12" width="1.15" height="17.07" fill="#6e120c" stroke="#1a0502" stroke-width="0.22"/>
<rect x="447.52" y="293.54" width="1.15" height="17.77" fill="#8b1d14" stroke="#1a0502" stroke-width="0.22"/>
<rect x="448.62" y="292.56" width="1.15" height="17.06" fill="#84180f" stroke="#1a0502" stroke-width="0.22"/>
<rect x="449.72" y="293.13" width="1.15" height="14.02" fill="#9a2418" stroke="#1a0502" stroke-width="0.22"/>
<rect x="450.82" y="291.22" width="1.15" height="15.73" fill="#9a2418" stroke="#1a0502" stroke-width="0.22"/>
<rect x="451.92" y="295.04" width="1.15" height="11.15" fill="#9a2418" stroke="#1a0502" stroke-width="0.22"/>
<rect x="453.02" y="294.88" width="1.15" height="14.61" fill="#84180f" stroke="#1a0502" stroke-width="0.22"/>
<rect x="454.12" y="291.46" width="1.15" height="17.78" fill="#9a2418" stroke="#1a0502" stroke-width="0.22"/>
<rect x="455.22" y="295.2" width="1.15" height="13.2" fill="#6e120c" stroke="#1a0502" stroke-width="0.22"/>
<rect x="456.32" y="293.47" width="1.15" height="16.16" fill="#8b1d14" stroke="#1a0502" stroke-width="0.22"/>
<rect x="457.42" y="293.54" width="1.15" height="14.3" fill="#84180f" stroke="#1a0502" stroke-width="0.22"/>
<rect x="458.52" y="292.65" width="1.15" height="14.32" fill="#84180f" stroke="#1a0502" stroke-width="0.22"/>
<rect x="459.62" y="292.77" width="1.15" height="14.86" fill="#8b1d14" stroke="#1a0502" stroke-width="0.22"/>
<rect x="460.72" y="292.15" width="1.15" height="14.28" fill="#8b1d14" stroke="#1a0502" stroke-width="0.22"/>
<rect x="461.82" y="290.29" width="1.15" height="16.26" fill="#6e120c" stroke="#1a0502" stroke-width="0.22"/>
<rect x="462.92" y="290.23" width="1.15" height="18.59" fill="#8b1d14" stroke="#1a0502" stroke-width="0.22"/>
<rect x="464.03" y="293.33" width="1.15" height="14.51" fill="#6e120c" stroke="#1a0502" stroke-width="0.22"/>
<rect x="465.13" y="294.61" width="1.15" height="10.71" fill="#7d1a12" stroke="#1a0502" stroke-width="0.22"/>
<rect x="466.23" y="294.44" width="1.15" height="11.88" fill="#84180f" stroke="#1a0502" stroke-width="0.22"/>
<rect x="467.33" y="293.21" width="1.15" height="13.54" fill="#7d1a12" stroke="#1a0502" stroke-width="0.22"/>
<rect x="468.43" y="292.21" width="1.15" height="16.19" fill="#7d1a12" stroke="#1a0502" stroke-width="0.22"/>
<rect x="469.53" y="289.95" width="1.15" height="18.5" fill="#9a2418" stroke="#1a0502" stroke-width="0.22"/>
<rect x="470.63" y="293.86" width="1.15" height="11.6" fill="#6e120c" stroke="#1a0502" stroke-width="0.22"/>
<rect x="471.73" y="294.4" width="1.15" height="11.04" fill="#84180f" stroke="#1a0502" stroke-width="0.22"/>
<rect x="472.83" y="292.12" width="1.15" height="13.9" fill="#84180f" stroke="#1a0502" stroke-width="0.22"/>
<rect x="473.93" y="294.96" width="1.15" height="8.27" fill="#7d1a12" stroke="#1a0502" stroke-width="0.22"/>
<rect x="475.03" y="293.9" width="1.15" height="9.94" fill="#7d1a12" stroke="#1a0502" stroke-width="0.22"/>
<rect x="476.13" y="291.96" width="1.15" height="11.02" fill="#7d1a12" stroke="#1a0502" stroke-width="0.22"/>
<rect x="477.23" y="291.3" width="1.15" height="13.32" fill="#8b1d14" stroke="#1a0502" stroke-width="0.22"/>
<rect x="478.33" y="294.52" width="1.15" height="8.21" fill="#8b1d14" stroke="#1a0502" stroke-width="0.22"/>
<rect x="479.43" y="294.45" width="1.15" height="9.48" fill="#6e120c" stroke="#1a0502" stroke-width="0.22"/>
<rect x="480.53" y="294.23" width="1.15" height="10" fill="#9a2418" stroke="#1a0502" stroke-width="0.22"/>
<rect x="481.63" y="293.98" width="1.15" height="8.76" fill="#7d1a12" stroke="#1a0502" stroke-width="0.22"/>
<rect x="482.74" y="291.4" width="1.15" height="11.22" fill="#6e120c" stroke="#1a0502" stroke-width="0.22"/>
<rect x="483.84" y="291.67" width="1.15" height="10.5" fill="#9a2418" stroke="#1a0502" stroke-width="0.22"/>
<rect x="484.94" y="292.61" width="1.15" height="10.24" fill="#84180f" stroke="#1a0502" stroke-width="0.22"/>
<rect x="486.04" y="290.76" width="1.15" height="12.15" fill="#8b1d14" stroke="#1a0502" stroke-width="0.22"/>
<rect x="487.14" y="291.54" width="1.15" height="12.6" fill="#84180f" stroke="#1a0502" stroke-width="0.22"/>
<rect x="488.24" y="291.11" width="1.15" height="11.66" fill="#6e120c" stroke="#1a0502" stroke-width="0.22"/>
<rect x="489.34" y="293.15" width="1.15" height="8.62" fill="#84180f" stroke="#1a0502" stroke-width="0.22"/>
<rect x="490.44" y="291.46" width="1.15" height="10.84" fill="#9a2418" stroke="#1a0502" stroke-width="0.22"/>
<rect x="491.54" y="292.6" width="1.15" height="10.03" fill="#9a2418" stroke="#1a0502" stroke-width="0.22"/>
<rect x="492.64" y="293.56" width="1.15" height="10.55" fill="#8b1d14" stroke="#1a0502" stroke-width="0.22"/>
<rect x="493.74" y="291.13" width="1.15" height="12.1" fill="#7d1a12" stroke="#1a0502" stroke-width="0.22"/>
<rect x="494.84" y="290.95" width="1.15" height="11.84" fill="#8b1d14" stroke="#1a0502" stroke-width="0.22"/>
<rect x="495.94" y="290.99" width="1.15" height="10.31" fill="#6e120c" stroke="#1a0502" stroke-width="0.22"/>
<rect x="497.04" y="292.78" width="1.15" height="8.65" fill="#9a2418" stroke="#1a0502" stroke-width="0.22"/>
<rect x="498.14" y="290.67" width="1.15" height="10.79" fill="#9a2418" stroke="#1a0502" stroke-width="0.22"/>
<rect x="499.24" y="293.04" width="1.15" height="9.34" fill="#8b1d14" stroke="#1a0502" stroke-width="0.22"/>
<rect x="500.34" y="290.55" width="1.15" height="10.63" fill="#7d1a12" stroke="#1a0502" stroke-width="0.22"/>
<rect x="501.44" y="290.73" width="1.15" height="11.31" fill="#8b1d14" stroke="#1a0502" stroke-width="0.22"/>
<rect x="502.55" y="291.86" width="1.15" height="8.49" fill="#9a2418" stroke="#1a0502" stroke-width="0.22"/>
<rect x="503.65" y="290.73" width="1.15" height="12.44" fill="#8b1d14" stroke="#1a0502" stroke-width="0.22"/>
<rect x="504.75" y="291.28" width="1.15" height="11.49" fill="#9a2418" stroke="#1a0502" stroke-width="0.22"/>
<rect x="505.85" y="291.6" width="1.15" height="8.64" fill="#8b1d14" stroke="#1a0502" stroke-width="0.22"/>
<rect x="506.95" y="290.71" width="1.15" height="10.83" fill="#8b1d14" stroke="#1a0502" stroke-width="0.22"/>
<rect x="508.05" y="291.57" width="1.15" height="9.97" fill="#8b1d14" stroke="#1a0502" stroke-width="0.22"/>
<rect x="509.15" y="289.3" width="1.15" height="10.65" fill="#6e120c" stroke="#1a0502" stroke-width="0.22"/>
<rect x="510.25" y="289.18" width="1.15" height="12.78" fill="#7d1a12" stroke="#1a0502" stroke-width="0.22"/>
<rect x="511.35" y="289.71" width="1.15" height="12.35" fill="#7d1a12" stroke="#1a0502" stroke-width="0.22"/>
<rect x="512.45" y="291.09" width="1.15" height="9.46" fill="#8b1d14" stroke="#1a0502" stroke-width="0.22"/>
<rect x="513.55" y="291.94" width="1.15" height="10.18" fill="#7d1a12" stroke="#1a0502" stroke-width="0.22"/>
<rect x="514.65" y="288.67" width="1.15" height="12.82" fill="#6e120c" stroke="#1a0502" stroke-width="0.22"/>
<rect x="515.75" y="290.72" width="1.15" height="9.08" fill="#6e120c" stroke="#1a0502" stroke-width="0.22"/>
<rect x="516.85" y="290.02" width="1.15" height="9.73" fill="#6e120c" stroke="#1a0502" stroke-width="0.22"/>
<rect x="517.95" y="291.42" width="1.15" height="8.77" fill="#9a2418" stroke="#1a0502" stroke-width="0.22"/>
<rect x="519.05" y="291.59" width="1.15" height="9.78" fill="#9a2418" stroke="#1a0502" stroke-width="0.22"/>
<rect x="520.15" y="291.31" width="1.15" height="10.5" fill="#7d1a12" stroke="#1a0502" stroke-width="0.22"/>
<rect x="521.25" y="288.26" width="1.15" height="11.32" fill="#7d1a12" stroke="#1a0502" stroke-width="0.22"/>
<rect x="522.36" y="289.53" width="1.15" height="11.81" fill="#84180f" stroke="#1a0502" stroke-width="0.22"/>
<rect x="523.46" y="289.01" width="1.15" height="10.87" fill="#7d1a12" stroke="#1a0502" stroke-width="0.22"/>
<rect x="524.56" y="287.85" width="1.15" height="11.16" fill="#6e120c" stroke="#1a0502" stroke-width="0.22"/>
<rect x="525.66" y="288.7" width="1.15" height="12.32" fill="#84180f" stroke="#1a0502" stroke-width="0.22"/>
<rect x="526.76" y="288.56" width="1.15" height="12.36" fill="#84180f" stroke="#1a0502" stroke-width="0.22"/>
<rect x="527.86" y="289.27" width="1.15" height="10.29" fill="#84180f" stroke="#1a0502" stroke-width="0.22"/>
<rect x="528.96" y="287.18" width="1.15" height="13.02" fill="#84180f" stroke="#1a0502" stroke-width="0.22"/>
<rect x="530.06" y="286.91" width="1.15" height="10.72" fill="#6e120c" stroke="#1a0502" stroke-width="0.22"/>
<rect x="531.16" y="287.11" width="1.15" height="13.69" fill="#84180f" stroke="#1a0502" stroke-width="0.22"/>
<rect x="532.26" y="286.84" width="1.15" height="12.91" fill="#6e120c" stroke="#1a0502" stroke-width="0.22"/>
<rect x="533.36" y="288.18" width="1.15" height="9.27" fill="#8b1d14" stroke="#1a0502" stroke-width="0.22"/>
<rect x="534.46" y="288.36" width="1.15" height="8.63" fill="#9a2418" stroke="#1a0502" stroke-width="0.22"/>
<rect x="535.56" y="286.35" width="1.15" height="12.69" fill="#8b1d14" stroke="#1a0502" stroke-width="0.22"/>
<rect x="536.66" y="287" width="1.15" height="13.22" fill="#84180f" stroke="#1a0502" stroke-width="0.22"/>
<rect x="537.76" y="286.57" width="1.15" height="10.77" fill="#9a2418" stroke="#1a0502" stroke-width="0.22"/>
<rect x="538.86" y="286.56" width="1.15" height="11.32" fill="#84180f" stroke="#1a0502" stroke-width="0.22"/>
<rect x="539.96" y="287.53" width="1.15" height="9.01" fill="#6e120c" stroke="#1a0502" stroke-width="0.22"/>
<rect x="541.06" y="286.86" width="1.15" height="10.79" fill="#84180f" stroke="#1a0502" stroke-width="0.22"/>
<rect x="542.17" y="286.12" width="1.15" height="10.05" fill="#6e120c" stroke="#1a0502" stroke-width="0.22"/>
<rect x="543.27" y="287.92" width="1.15" height="9.57" fill="#6e120c" stroke="#1a0502" stroke-width="0.22"/>
<rect x="544.37" y="285.42" width="1.15" height="11.94" fill="#84180f" stroke="#1a0502" stroke-width="0.22"/>
<rect x="545.47" y="286.23" width="1.15" height="10.86" fill="#7d1a12" stroke="#1a0502" stroke-width="0.22"/>
<rect x="546.57" y="287.41" width="1.15" height="9.29" fill="#8b1d14" stroke="#1a0502" stroke-width="0.22"/>
<rect x="547.67" y="287.13" width="1.15" height="11.47" fill="#7d1a12" stroke="#1a0502" stroke-width="0.22"/>
<rect x="548.77" y="287.39" width="1.15" height="7.69" fill="#6e120c" stroke="#1a0502" stroke-width="0.22"/>
<rect x="549.87" y="284.98" width="1.15" height="12.53" fill="#9a2418" stroke="#1a0502" stroke-width="0.22"/>
<rect x="550.97" y="285.07" width="1.15" height="12.27" fill="#9a2418" stroke="#1a0502" stroke-width="0.22"/>
<rect x="552.07" y="283.48" width="1.15" height="11.73" fill="#9a2418" stroke="#1a0502" stroke-width="0.22"/>
<rect x="553.17" y="284.95" width="1.15" height="12.46" fill="#84180f" stroke="#1a0502" stroke-width="0.22"/>
<rect x="554.27" y="284.68" width="1.15" height="9.29" fill="#7d1a12" stroke="#1a0502" stroke-width="0.22"/>
<rect x="555.37" y="282.83" width="1.15" height="10.61" fill="#9a2418" stroke="#1a0502" stroke-width="0.22"/>
<rect x="556.47" y="283.9" width="1.15" height="9.21" fill="#7d1a12" stroke="#1a0502" stroke-width="0.22"/>
<rect x="557.57" y="285.16" width="1.15" height="7.86" fill="#84180f" stroke="#1a0502" stroke-width="0.22"/>
<rect x="558.67" y="282.55" width="1.15" height="11.84" fill="#959522" stroke="#1a0502" stroke-width="0.22"/>
<rect x="559.77" y="281.69" width="1.15" height="12.91" fill="#7a7a10" stroke="#1a0502" stroke-width="0.22"/>
<rect x="560.88" y="282.51" width="1.15" height="12.18" fill="#86861a" stroke="#1a0502" stroke-width="0.22"/>
<rect x="561.98" y="281.15" width="1.15" height="10.5" fill="#86861a" stroke="#1a0502" stroke-width="0.22"/>
<rect x="563.08" y="280.19" width="1.15" height="12.68" fill="#7a7a10" stroke="#1a0502" stroke-width="0.22"/>
<rect x="564.18" y="282.62" width="1.15" height="8.65" fill="#959522" stroke="#1a0502" stroke-width="0.22"/>
<rect x="565.28" y="281.36" width="1.15" height="9.65" fill="#7a7a10" stroke="#1a0502" stroke-width="0.22"/>
<rect x="566.38" y="281.74" width="1.15" height="8.6" fill="#959522" stroke="#1a0502" stroke-width="0.22"/>
<rect x="567.48" y="279.4" width="1.15" height="10.6" fill="#86861a" stroke="#1a0502" stroke-width="0.22"/>
<rect x="568.58" y="280.48" width="1.15" height="9.63" fill="#959522" stroke="#1a0502" stroke-width="0.22"/>
<rect x="569.68" y="278.45" width="1.15" height="12" fill="#7a7a10" stroke="#1a0502" stroke-width="0.22"/>
<rect x="570.78" y="277.41" width="1.15" height="11.87" fill="#7a7a10" stroke="#1a0502" stroke-width="0.22"/>
<rect x="571.88" y="277.47" width="1.15" height="10.9" fill="#7a7a10" stroke="#1a0502" stroke-width="0.22"/>
<rect x="572.98" y="277.85" width="1.15" height="9.83" fill="#86861a" stroke="#1a0502" stroke-width="0.22"/>
<rect x="574.08" y="276.24" width="1.15" height="11.69" fill="#7a7a10" stroke="#1a0502" stroke-width="0.22"/>
<rect x="575.18" y="277.98" width="1.15" height="8.83" fill="#2e9420" stroke="#1a0502" stroke-width="0.22"/>
<rect x="576.28" y="276.56" width="1.15" height="12.4" fill="#2e9420" stroke="#1a0502" stroke-width="0.22"/>
<rect x="577.38" y="275.24" width="1.15" height="11.77" fill="#3aa82a" stroke="#1a0502" stroke-width="0.22"/>
<rect x="578.48" y="275.53" width="1.15" height="11.97" fill="#55c640" stroke="#1a0502" stroke-width="0.22"/>
<rect x="579.58" y="277.03" width="1.15" height="10.27" fill="#3aa82a" stroke="#1a0502" stroke-width="0.22"/>
<rect x="580.69" y="273.89" width="1.15" height="12.91" fill="#3aa82a" stroke="#1a0502" stroke-width="0.22"/>
<rect x="581.79" y="274.4" width="1.15" height="12.8" fill="#48bb35" stroke="#1a0502" stroke-width="0.22"/>
<rect x="582.89" y="274.66" width="1.15" height="10.87" fill="#55c640" stroke="#1a0502" stroke-width="0.22"/>
<rect x="583.99" y="273.51" width="1.15" height="11.4" fill="#48bb35" stroke="#1a0502" stroke-width="0.22"/>
<rect x="585.09" y="273" width="1.15" height="11.25" fill="#48bb35" stroke="#1a0502" stroke-width="0.22"/>
<rect x="586.19" y="272.88" width="1.15" height="11.59" fill="#2e9420" stroke="#1a0502" stroke-width="0.22"/>
<rect x="587.29" y="272.69" width="1.15" height="9.32" fill="#3aa82a" stroke="#1a0502" stroke-width="0.22"/>
<rect x="588.39" y="270.73" width="1.15" height="11.96" fill="#3aa82a" stroke="#1a0502" stroke-width="0.22"/>
<rect x="589.49" y="271.19" width="1.15" height="10.21" fill="#3aa82a" stroke="#1a0502" stroke-width="0.22"/>
<rect x="590.59" y="268.78" width="1.15" height="12.22" fill="#55c640" stroke="#1a0502" stroke-width="0.22"/>
<rect x="591.69" y="270.83" width="1.15" height="9.56" fill="#55c640" stroke="#1a0502" stroke-width="0.22"/>
<rect x="592.79" y="268.48" width="1.15" height="12" fill="#2e9420" stroke="#1a0502" stroke-width="0.22"/>
<rect x="593.89" y="268.37" width="1.15" height="10.13" fill="#55c640" stroke="#1a0502" stroke-width="0.22"/>
<rect x="594.99" y="267.79" width="1.15" height="11.05" fill="#48bb35" stroke="#1a0502" stroke-width="0.22"/>
<rect x="596.09" y="267.77" width="1.15" height="8.58" fill="#3aa82a" stroke="#1a0502" stroke-width="0.22"/>
<rect x="597.19" y="267.04" width="1.15" height="9.01" fill="#3aa82a" stroke="#1a0502" stroke-width="0.22"/>
<rect x="598.29" y="264.95" width="1.15" height="9.29" fill="#3aa82a" stroke="#1a0502" stroke-width="0.22"/>
<rect x="599.39" y="262.14" width="1.15" height="9.61" fill="#48bb35" stroke="#1a0502" stroke-width="0.22"/>
<rect x="600.5" y="259.86" width="1.15" height="8.49" fill="#2e9420" stroke="#1a0502" stroke-width="0.22"/>
<rect x="601.6" y="255.83" width="1.15" height="10.4" fill="#2e9420" stroke="#1a0502" stroke-width="0.22"/>
<rect x="602.7" y="252.31" width="1.15" height="10.01" fill="#2e9420" stroke="#1a0502" stroke-width="0.22"/>
<rect x="603.8" y="249.34" width="1.15" height="8.47" fill="#3aa82a" stroke="#1a0502" stroke-width="0.22"/>
<rect x="604.9" y="245.02" width="1.15" height="7.67" fill="#48bb35" stroke="#1a0502" stroke-width="0.22"/>
<rect x="606" y="237.67" width="1.15" height="9.96" fill="#48bb35" stroke="#1a0502" stroke-width="0.22"/>
<rect x="607.1" y="231.75" width="1.15" height="9.63" fill="#2e9420" stroke="#1a0502" stroke-width="0.22"/>
<rect x="608.2" y="227.03" width="1.15" height="7.32" fill="#3aa82a" stroke="#1a0502" stroke-width="0.22"/>
<rect x="609.3" y="225.05" width="1.15" height="9.11" fill="#48bb35" stroke="#1a0502" stroke-width="0.22"/>
<polyline points="416.15,306.55 417.25,306.4 418.35,306.25 419.45,306.1 420.55,305.95 421.65,305.81 422.75,305.66 423.85,305.51 424.96,305.36 426.06,305.21 427.16,305.06 428.26,304.91 429.36,304.76 430.46,304.61 431.56,304.43 432.66,304.24 433.76,304.05 434.86,303.87 435.96,303.68 437.06,303.49 438.16,303.31 439.26,303.12 440.36,302.93 441.46,302.74 442.56,302.56 443.66,302.37 444.77,302.18 445.87,302 446.97,301.81 448.07,301.62 449.17,301.44 450.27,301.25 451.37,301.12 452.47,301.01 453.57,300.9 454.67,300.79 455.77,300.68 456.87,300.57 457.97,300.46 459.07,300.35 460.17,300.24 461.27,300.13 462.37,300.02 463.48,299.91 464.58,299.8 465.68,299.69 466.78,299.58 467.88,299.47 468.98,299.36 470.08,299.25 471.18,299.14 472.28,299.03 473.38,298.92 474.48,298.81 475.58,298.7 476.68,298.59 477.78,298.48 478.88,298.37 479.98,298.26 481.08,298.16 482.18,298.08 483.29,298 484.39,297.92 485.49,297.84 486.59,297.76 487.69,297.68 488.79,297.6 489.89,297.52 490.99,297.44 492.09,297.36 493.19,297.28 494.29,297.2 495.39,297.12 496.49,297.04 497.59,296.96 498.69,296.88 499.79,296.8 500.89,296.73 501.99,296.65 503.1,296.57 504.2,296.49 505.3,296.41 506.4,296.33 507.5,296.25 508.6,296.17 509.7,296.09 510.8,296.01 511.9,295.93 513,295.85 514.1,295.77 515.2,295.69 516.3,295.61 517.4,295.53 518.5,295.45 519.6,295.37 520.7,295.28 521.81,295.13 522.91,294.99 524.01,294.84 525.11,294.69 526.21,294.55 527.31,294.4 528.41,294.25 529.51,294.11 530.61,293.96 531.71,293.81 532.81,293.67 533.91,293.52 535.01,293.37 536.11,293.23 537.21,293.08 538.31,292.93 539.41,292.78 540.51,292.64 541.62,292.49 542.72,292.34 543.82,292.2 544.92,292.05 546.02,291.9 547.12,291.76 548.22,291.61 549.32,291.46 550.42,291.32 551.52,290.98 552.62,290.63 553.72,290.27 554.82,289.91 555.92,289.55 557.02,289.2 558.12,288.84 559.22,288.48 560.32,288.13 561.43,287.78 562.53,287.42 563.63,287.07 564.73,286.71 565.83,286.36 566.93,286.01 568.03,285.6 569.13,285.19 570.23,284.78 571.33,284.37 572.43,283.96 573.53,283.55 574.63,283.14 575.73,282.73 576.83,282.34 577.93,281.95 579.03,281.55 580.14,281.16 581.24,280.76 582.34,280.37 583.44,279.97 584.54,279.58 585.64,278.98 586.74,278.34 587.84,277.7 588.94,277.06 590.04,276.42 591.14,275.78 592.24,275.14 593.34,274.43 594.44,273.69 595.54,272.94 596.64,272.19 597.74,271.45 598.84,270.18 599.95,267.49 601.05,264.8 602.15,260.9 603.25,256.78 604.35,253.15 605.45,248.85 606.55,242.75 607.65,236.57 608.75,230.8 609.85,228.5" fill="none" stroke="#111" stroke-width="0.8"/>
<path d="M566.4 283.4V288.7" stroke="#1a2fd0" stroke-width="1"/>
<path d="M420.95 324.7a1.8 1.2 0 1 0 3.6 0a1.8 1.2 0 1 0 -3.6 0 M420.95 325.85a1.8 1.2 0 1 0 3.6 0a1.8 1.2 0 1 0 -3.6 0 M426.46 289.74a1.8 1.2 0 1 0 3.6 0a1.8 1.2 0 1 0 -3.6 0 M426.46 289.33a1.8 1.2 0 1 0 3.6 0a1.8 1.2 0 1 0 -3.6 0 M437.46 324.67a1.8 1.2 0 1 0 3.6 0a1.8 1.2 0 1 0 -3.6 0 M437.46 320.06a1.8 1.2 0 1 0 3.6 0a1.8 1.2 0 1 0 -3.6 0 M456.17 317.5a1.8 1.2 0 1 0 3.6 0a1.8 1.2 0 1 0 -3.6 0 M460.57 313.58a1.8 1.2 0 1 0 3.6 0a1.8 1.2 0 1 0 -3.6 0 M460.57 316.93a1.8 1.2 0 1 0 3.6 0a1.8 1.2 0 1 0 -3.6 0 M460.57 318.52a1.8 1.2 0 1 0 3.6 0a1.8 1.2 0 1 0 -3.6 0 M480.38 318.32a1.8 1.2 0 1 0 3.6 0a1.8 1.2 0 1 0 -3.6 0 M482.59 313.52a1.8 1.2 0 1 0 3.6 0a1.8 1.2 0 1 0 -3.6 0 M483.69 318.99a1.8 1.2 0 1 0 3.6 0a1.8 1.2 0 1 0 -3.6 0 M484.79 315.12a1.8 1.2 0 1 0 3.6 0a1.8 1.2 0 1 0 -3.6 0 M484.79 317.15a1.8 1.2 0 1 0 3.6 0a1.8 1.2 0 1 0 -3.6 0 M484.79 316.95a1.8 1.2 0 1 0 3.6 0a1.8 1.2 0 1 0 -3.6 0 M488.09 315.72a1.8 1.2 0 1 0 3.6 0a1.8 1.2 0 1 0 -3.6 0 M490.29 283.54a1.8 1.2 0 1 0 3.6 0a1.8 1.2 0 1 0 -3.6 0 M490.29 313.83a1.8 1.2 0 1 0 3.6 0a1.8 1.2 0 1 0 -3.6 0 M490.29 319.91a1.8 1.2 0 1 0 3.6 0a1.8 1.2 0 1 0 -3.6 0 M492.49 322a1.8 1.2 0 1 0 3.6 0a1.8 1.2 0 1 0 -3.6 0 M492.49 317.14a1.8 1.2 0 1 0 3.6 0a1.8 1.2 0 1 0 -3.6 0 M501.3 315.13a1.8 1.2 0 1 0 3.6 0a1.8 1.2 0 1 0 -3.6 0 M501.3 281.41a1.8 1.2 0 1 0 3.6 0a1.8 1.2 0 1 0 -3.6 0 M501.3 322.27a1.8 1.2 0 1 0 3.6 0a1.8 1.2 0 1 0 -3.6 0 M503.5 317.46a1.8 1.2 0 1 0 3.6 0a1.8 1.2 0 1 0 -3.6 0 M503.5 279.4a1.8 1.2 0 1 0 3.6 0a1.8 1.2 0 1 0 -3.6 0 M512.3 311.69a1.8 1.2 0 1 0 3.6 0a1.8 1.2 0 1 0 -3.6 0 M520.01 309.39a1.8 1.2 0 1 0 3.6 0a1.8 1.2 0 1 0 -3.6 0 M522.21 315.15a1.8 1.2 0 1 0 3.6 0a1.8 1.2 0 1 0 -3.6 0 M528.81 307.79a1.8 1.2 0 1 0 3.6 0a1.8 1.2 0 1 0 -3.6 0 M529.91 320.49a1.8 1.2 0 1 0 3.6 0a1.8 1.2 0 1 0 -3.6 0 M535.41 306.94a1.8 1.2 0 1 0 3.6 0a1.8 1.2 0 1 0 -3.6 0 M535.41 280.5a1.8 1.2 0 1 0 3.6 0a1.8 1.2 0 1 0 -3.6 0 M538.71 309.6a1.8 1.2 0 1 0 3.6 0a1.8 1.2 0 1 0 -3.6 0 M543.12 307.54a1.8 1.2 0 1 0 3.6 0a1.8 1.2 0 1 0 -3.6 0 M544.22 315.86a1.8 1.2 0 1 0 3.6 0a1.8 1.2 0 1 0 -3.6 0 M548.62 305.47a1.8 1.2 0 1 0 3.6 0a1.8 1.2 0 1 0 -3.6 0 M548.62 304.96a1.8 1.2 0 1 0 3.6 0a1.8 1.2 0 1 0 -3.6 0 M549.72 303.87a1.8 1.2 0 1 0 3.6 0a1.8 1.2 0 1 0 -3.6 0 M553.02 310.72a1.8 1.2 0 1 0 3.6 0a1.8 1.2 0 1 0 -3.6 0 M558.52 270.62a1.8 1.2 0 1 0 3.6 0a1.8 1.2 0 1 0 -3.6 0 M559.63 306.38a1.8 1.2 0 1 0 3.6 0a1.8 1.2 0 1 0 -3.6 0 M559.63 308.94a1.8 1.2 0 1 0 3.6 0a1.8 1.2 0 1 0 -3.6 0 M560.73 298.62a1.8 1.2 0 1 0 3.6 0a1.8 1.2 0 1 0 -3.6 0 M565.13 304.05a1.8 1.2 0 1 0 3.6 0a1.8 1.2 0 1 0 -3.6 0 M565.13 262.85a1.8 1.2 0 1 0 3.6 0a1.8 1.2 0 1 0 -3.6 0 M565.13 300.01a1.8 1.2 0 1 0 3.6 0a1.8 1.2 0 1 0 -3.6 0 M566.23 306.94a1.8 1.2 0 1 0 3.6 0a1.8 1.2 0 1 0 -3.6 0 M568.43 300.39a1.8 1.2 0 1 0 3.6 0a1.8 1.2 0 1 0 -3.6 0 M568.43 303.42a1.8 1.2 0 1 0 3.6 0a1.8 1.2 0 1 0 -3.6 0 M569.53 305.25a1.8 1.2 0 1 0 3.6 0a1.8 1.2 0 1 0 -3.6 0 M569.53 304.17a1.8 1.2 0 1 0 3.6 0a1.8 1.2 0 1 0 -3.6 0 M569.53 311a1.8 1.2 0 1 0 3.6 0a1.8 1.2 0 1 0 -3.6 0 M577.23 302.22a1.8 1.2 0 1 0 3.6 0a1.8 1.2 0 1 0 -3.6 0 M577.23 265.94a1.8 1.2 0 1 0 3.6 0a1.8 1.2 0 1 0 -3.6 0 M577.23 306.61a1.8 1.2 0 1 0 3.6 0a1.8 1.2 0 1 0 -3.6 0 M579.44 299.37a1.8 1.2 0 1 0 3.6 0a1.8 1.2 0 1 0 -3.6 0 M579.44 304.25a1.8 1.2 0 1 0 3.6 0a1.8 1.2 0 1 0 -3.6 0 M579.44 259.17a1.8 1.2 0 1 0 3.6 0a1.8 1.2 0 1 0 -3.6 0 M580.54 302.56a1.8 1.2 0 1 0 3.6 0a1.8 1.2 0 1 0 -3.6 0 M582.74 307.31a1.8 1.2 0 1 0 3.6 0a1.8 1.2 0 1 0 -3.6 0 M582.74 257.66a1.8 1.2 0 1 0 3.6 0a1.8 1.2 0 1 0 -3.6 0 M583.84 305.14a1.8 1.2 0 1 0 3.6 0a1.8 1.2 0 1 0 -3.6 0 M589.34 298.71a1.8 1.2 0 1 0 3.6 0a1.8 1.2 0 1 0 -3.6 0 M591.54 299.9a1.8 1.2 0 1 0 3.6 0a1.8 1.2 0 1 0 -3.6 0 M591.54 297.7a1.8 1.2 0 1 0 3.6 0a1.8 1.2 0 1 0 -3.6 0 M591.54 301.98a1.8 1.2 0 1 0 3.6 0a1.8 1.2 0 1 0 -3.6 0 M592.64 247a1.8 1.2 0 1 0 3.6 0a1.8 1.2 0 1 0 -3.6 0 M594.84 296.58a1.8 1.2 0 1 0 3.6 0a1.8 1.2 0 1 0 -3.6 0 M594.84 293.98a1.8 1.2 0 1 0 3.6 0a1.8 1.2 0 1 0 -3.6 0 M595.94 293.44a1.8 1.2 0 1 0 3.6 0a1.8 1.2 0 1 0 -3.6 0 M597.04 294.18a1.8 1.2 0 1 0 3.6 0a1.8 1.2 0 1 0 -3.6 0 M597.04 292.83a1.8 1.2 0 1 0 3.6 0a1.8 1.2 0 1 0 -3.6 0 M602.55 275.82a1.8 1.2 0 1 0 3.6 0a1.8 1.2 0 1 0 -3.6 0 M603.65 270.95a1.8 1.2 0 1 0 3.6 0a1.8 1.2 0 1 0 -3.6 0 M606.95 252.39a1.8 1.2 0 1 0 3.6 0a1.8 1.2 0 1 0 -3.6 0 M606.95 254.98a1.8 1.2 0 1 0 3.6 0a1.8 1.2 0 1 0 -3.6 0 M606.95 253.35a1.8 1.2 0 1 0 3.6 0a1.8 1.2 0 1 0 -3.6 0 M608.05 246.37a1.8 1.2 0 1 0 3.6 0a1.8 1.2 0 1 0 -3.6 0" fill="none" stroke="#333" stroke-width="0.5"/>
<line x1="419.6" y1="379.4" x2="419.6" y2="535.3" stroke="#333" stroke-width="1"/>
<line x1="413.6" y1="535.3" x2="419.6" y2="535.3" stroke="#333" stroke-width="1"/>
<line x1="413.6" y1="509.28" x2="419.6" y2="509.28" stroke="#333" stroke-width="1"/>
<line x1="413.6" y1="483.26" x2="419.6" y2="483.26" stroke="#333" stroke-width="1"/>
<line x1="413.6" y1="457.24" x2="419.6" y2="457.24" stroke="#333" stroke-width="1"/>
<line x1="413.6" y1="431.22" x2="419.6" y2="431.22" stroke="#333" stroke-width="1"/>
<line x1="413.6" y1="405.2" x2="419.6" y2="405.2" stroke="#333" stroke-width="1"/>
<line x1="413.6" y1="379.18" x2="419.6" y2="379.18" stroke="#333" stroke-width="1"/>
<text transform="translate(405,535.3) rotate(-90) scale(1,1.12)" font-size="8" text-anchor="middle" fill="#222">0.0</text>
<text transform="translate(405,509.28) rotate(-90) scale(1,1.12)" font-size="8" text-anchor="middle" fill="#222">0.2</text>
<text transform="translate(405,483.26) rotate(-90) scale(1,1.12)" font-size="8" text-anchor="middle" fill="#222">0.4</text>
<text transform="translate(405,457.24) rotate(-90) scale(1,1.12)" font-size="8" text-anchor="middle" fill="#222">0.6</text>
<text transform="translate(405,431.22) rotate(-90) scale(1,1.12)" font-size="8" text-anchor="middle" fill="#222">0.8</text>
<text transform="translate(405,405.2) rotate(-90) scale(1,1.12)" font-size="8" text-anchor="middle" fill="#222">1.0</text>
<line x1="638.7" y1="379.4" x2="638.7" y2="535.3" stroke="#333" stroke-width="1"/>
<line x1="638.7" y1="535.3" x2="645.3" y2="535.3" stroke="#333" stroke-width="1"/>
<line x1="638.7" y1="509.28" x2="645.3" y2="509.28" stroke="#333" stroke-width="1"/>
<line x1="638.7" y1="483.26" x2="645.3" y2="483.26" stroke="#333" stroke-width="1"/>
<line x1="638.7" y1="457.24" x2="645.3" y2="457.24" stroke="#333" stroke-width="1"/>
<line x1="638.7" y1="431.22" x2="645.3" y2="431.22" stroke="#333" stroke-width="1"/>
<line x1="638.7" y1="405.2" x2="645.3" y2="405.2" stroke="#333" stroke-width="1"/>
<line x1="638.7" y1="379.18" x2="645.3" y2="379.18" stroke="#333" stroke-width="1"/>
<line x1="427.6" y1="542.2" x2="618.6" y2="542.2" stroke="#333" stroke-width="1"/>
<line x1="427.6" y1="542.2" x2="427.6" y2="546.5" stroke="#333" stroke-width="1"/>
<line x1="475.35" y1="542.2" x2="475.35" y2="546.5" stroke="#333" stroke-width="1"/>
<line x1="523.1" y1="542.2" x2="523.1" y2="546.5" stroke="#333" stroke-width="1"/>
<line x1="570.85" y1="542.2" x2="570.85" y2="546.5" stroke="#333" stroke-width="1"/>
<line x1="618.6" y1="542.2" x2="618.6" y2="546.5" stroke="#333" stroke-width="1"/>
<text transform="translate(377.3,457.5) rotate(-90) scale(0.99,1.13)" font-size="6.5" text-anchor="middle" fill="#222">cross-validated probabilities</text>
<path d="M438.15 530.5a2.05 1.3 0 1 0 4.1 0a2.05 1.3 0 1 0 -4.1 0 M442.35 524.6a2.05 1.3 0 1 0 4.1 0a2.05 1.3 0 1 0 -4.1 0 M439.85 522.4a2.05 1.3 0 1 0 4.1 0a2.05 1.3 0 1 0 -4.1 0 M454.05 528.8a2.05 1.3 0 1 0 4.1 0a2.05 1.3 0 1 0 -4.1 0 M456.55 528.8a2.05 1.3 0 1 0 4.1 0a2.05 1.3 0 1 0 -4.1 0 M459.15 528a2.05 1.3 0 1 0 4.1 0a2.05 1.3 0 1 0 -4.1 0 M457.45 525.5a2.05 1.3 0 1 0 4.1 0a2.05 1.3 0 1 0 -4.1 0 M460.75 524.1a2.05 1.3 0 1 0 4.1 0a2.05 1.3 0 1 0 -4.1 0 M458.25 522.1a2.05 1.3 0 1 0 4.1 0a2.05 1.3 0 1 0 -4.1 0 M456.25 518.7a2.05 1.3 0 1 0 4.1 0a2.05 1.3 0 1 0 -4.1 0 M460.25 515.4a2.05 1.3 0 1 0 4.1 0a2.05 1.3 0 1 0 -4.1 0 M466.65 525.8a2.05 1.3 0 1 0 4.1 0a2.05 1.3 0 1 0 -4.1 0 M469.65 518.7a2.05 1.3 0 1 0 4.1 0a2.05 1.3 0 1 0 -4.1 0 M471.75 529.3a2.05 1.3 0 1 0 4.1 0a2.05 1.3 0 1 0 -4.1 0 M476.45 527.5a2.05 1.3 0 1 0 4.1 0a2.05 1.3 0 1 0 -4.1 0 M490.15 528.8a2.05 1.3 0 1 0 4.1 0a2.05 1.3 0 1 0 -4.1 0 M496.05 527.5a2.05 1.3 0 1 0 4.1 0a2.05 1.3 0 1 0 -4.1 0 M500.55 528a2.05 1.3 0 1 0 4.1 0a2.05 1.3 0 1 0 -4.1 0 M498.25 520.4a2.05 1.3 0 1 0 4.1 0a2.05 1.3 0 1 0 -4.1 0 M511.95 523.8a2.05 1.3 0 1 0 4.1 0a2.05 1.3 0 1 0 -4.1 0 M522.95 520.4a2.05 1.3 0 1 0 4.1 0a2.05 1.3 0 1 0 -4.1 0 M483.75 511.2a2.05 1.3 0 1 0 4.1 0a2.05 1.3 0 1 0 -4.1 0 M493.85 513.4a2.05 1.3 0 1 0 4.1 0a2.05 1.3 0 1 0 -4.1 0 M509.45 513.4a2.05 1.3 0 1 0 4.1 0a2.05 1.3 0 1 0 -4.1 0 M517.85 513.7a2.05 1.3 0 1 0 4.1 0a2.05 1.3 0 1 0 -4.1 0 M499.95 508.2a2.05 1.3 0 1 0 4.1 0a2.05 1.3 0 1 0 -4.1 0 M432.75 510a2.05 1.3 0 1 0 4.1 0a2.05 1.3 0 1 0 -4.1 0 M434.75 501.1a2.05 1.3 0 1 0 4.1 0a2.05 1.3 0 1 0 -4.1 0 M481.45 501.1a2.05 1.3 0 1 0 4.1 0a2.05 1.3 0 1 0 -4.1 0 M473.75 499.4a2.05 1.3 0 1 0 4.1 0a2.05 1.3 0 1 0 -4.1 0 M500.25 502a2.05 1.3 0 1 0 4.1 0a2.05 1.3 0 1 0 -4.1 0 M512.85 501.6a2.05 1.3 0 1 0 4.1 0a2.05 1.3 0 1 0 -4.1 0 M436.15 491.9a2.05 1.3 0 1 0 4.1 0a2.05 1.3 0 1 0 -4.1 0 M443.65 489.4a2.05 1.3 0 1 0 4.1 0a2.05 1.3 0 1 0 -4.1 0 M451.55 491.9a2.05 1.3 0 1 0 4.1 0a2.05 1.3 0 1 0 -4.1 0 M449.05 484.8a2.05 1.3 0 1 0 4.1 0a2.05 1.3 0 1 0 -4.1 0 M429.75 480.1a2.05 1.3 0 1 0 4.1 0a2.05 1.3 0 1 0 -4.1 0 M429.75 405.6a2.05 1.3 0 1 0 4.1 0a2.05 1.3 0 1 0 -4.1 0 M425.55 406a2.05 1.3 0 1 0 4.1 0a2.05 1.3 0 1 0 -4.1 0 M428.05 411.4a2.05 1.3 0 1 0 4.1 0a2.05 1.3 0 1 0 -4.1 0 M428.95 416.6a2.05 1.3 0 1 0 4.1 0a2.05 1.3 0 1 0 -4.1 0 M433.95 414.4a2.05 1.3 0 1 0 4.1 0a2.05 1.3 0 1 0 -4.1 0 M428.35 437.9a2.05 1.3 0 1 0 4.1 0a2.05 1.3 0 1 0 -4.1 0 M429.75 440.4a2.05 1.3 0 1 0 4.1 0a2.05 1.3 0 1 0 -4.1 0 M433.05 447.5a2.05 1.3 0 1 0 4.1 0a2.05 1.3 0 1 0 -4.1 0 M426.05 451.8a2.05 1.3 0 1 0 4.1 0a2.05 1.3 0 1 0 -4.1 0 M426.35 459.7a2.05 1.3 0 1 0 4.1 0a2.05 1.3 0 1 0 -4.1 0 M427.25 465.6a2.05 1.3 0 1 0 4.1 0a2.05 1.3 0 1 0 -4.1 0 M450.75 465.6a2.05 1.3 0 1 0 4.1 0a2.05 1.3 0 1 0 -4.1 0 M525.45 434.1a2.05 1.3 0 1 0 4.1 0a2.05 1.3 0 1 0 -4.1 0 M526.35 528.8a2.05 1.3 0 1 0 4.1 0a2.05 1.3 0 1 0 -4.1 0 M538.95 527.1a2.05 1.3 0 1 0 4.1 0a2.05 1.3 0 1 0 -4.1 0 M546.45 527.5a2.05 1.3 0 1 0 4.1 0a2.05 1.3 0 1 0 -4.1 0 M549.85 527.5a2.05 1.3 0 1 0 4.1 0a2.05 1.3 0 1 0 -4.1 0 M558.25 529.1a2.05 1.3 0 1 0 4.1 0a2.05 1.3 0 1 0 -4.1 0 M563.25 528.8a2.05 1.3 0 1 0 4.1 0a2.05 1.3 0 1 0 -4.1 0 M567.45 528.8a2.05 1.3 0 1 0 4.1 0a2.05 1.3 0 1 0 -4.1 0 M571.65 528.8a2.05 1.3 0 1 0 4.1 0a2.05 1.3 0 1 0 -4.1 0 M562.35 525.8a2.05 1.3 0 1 0 4.1 0a2.05 1.3 0 1 0 -4.1 0 M565.75 526.3a2.05 1.3 0 1 0 4.1 0a2.05 1.3 0 1 0 -4.1 0 M582.55 529.6a2.05 1.3 0 1 0 4.1 0a2.05 1.3 0 1 0 -4.1 0 M599.35 529.3a2.05 1.3 0 1 0 4.1 0a2.05 1.3 0 1 0 -4.1 0 M616.15 528a2.05 1.3 0 1 0 4.1 0a2.05 1.3 0 1 0 -4.1 0 M625.65 529.3a2.05 1.3 0 1 0 4.1 0a2.05 1.3 0 1 0 -4.1 0 M523.75 520.4a2.05 1.3 0 1 0 4.1 0a2.05 1.3 0 1 0 -4.1 0 M530.55 519.9a2.05 1.3 0 1 0 4.1 0a2.05 1.3 0 1 0 -4.1 0 M541.75 520.4a2.05 1.3 0 1 0 4.1 0a2.05 1.3 0 1 0 -4.1 0 M551.85 523.3a2.05 1.3 0 1 0 4.1 0a2.05 1.3 0 1 0 -4.1 0 M566.25 520.8a2.05 1.3 0 1 0 4.1 0a2.05 1.3 0 1 0 -4.1 0 M576.95 524.6a2.05 1.3 0 1 0 4.1 0a2.05 1.3 0 1 0 -4.1 0 M595.95 523.8a2.05 1.3 0 1 0 4.1 0a2.05 1.3 0 1 0 -4.1 0 M597.15 524.1a2.05 1.3 0 1 0 4.1 0a2.05 1.3 0 1 0 -4.1 0 M607.25 524.6a2.05 1.3 0 1 0 4.1 0a2.05 1.3 0 1 0 -4.1 0 M613.55 522.4a2.05 1.3 0 1 0 4.1 0a2.05 1.3 0 1 0 -4.1 0 M608.55 520.1a2.05 1.3 0 1 0 4.1 0a2.05 1.3 0 1 0 -4.1 0 M621.15 519.1a2.05 1.3 0 1 0 4.1 0a2.05 1.3 0 1 0 -4.1 0 M575.35 514.9a2.05 1.3 0 1 0 4.1 0a2.05 1.3 0 1 0 -4.1 0 M598.15 515.7a2.05 1.3 0 1 0 4.1 0a2.05 1.3 0 1 0 -4.1 0 M604.85 515.4a2.05 1.3 0 1 0 4.1 0a2.05 1.3 0 1 0 -4.1 0 M627.85 514.5a2.05 1.3 0 1 0 4.1 0a2.05 1.3 0 1 0 -4.1 0 M614.45 511.2a2.05 1.3 0 1 0 4.1 0a2.05 1.3 0 1 0 -4.1 0 M545.65 507.3a2.05 1.3 0 1 0 4.1 0a2.05 1.3 0 1 0 -4.1 0 M547.25 507.8a2.05 1.3 0 1 0 4.1 0a2.05 1.3 0 1 0 -4.1 0 M604.35 506.2a2.05 1.3 0 1 0 4.1 0a2.05 1.3 0 1 0 -4.1 0 M581.35 497.4a2.05 1.3 0 1 0 4.1 0a2.05 1.3 0 1 0 -4.1 0 M583.05 489.9a2.05 1.3 0 1 0 4.1 0a2.05 1.3 0 1 0 -4.1 0 M571.65 484a2.05 1.3 0 1 0 4.1 0a2.05 1.3 0 1 0 -4.1 0 M622.85 473.8a2.05 1.3 0 1 0 4.1 0a2.05 1.3 0 1 0 -4.1 0 M569.95 432.4a2.05 1.3 0 1 0 4.1 0a2.05 1.3 0 1 0 -4.1 0 M573.35 437.1a2.05 1.3 0 1 0 4.1 0a2.05 1.3 0 1 0 -4.1 0 M570.75 466.9a2.05 1.3 0 1 0 4.1 0a2.05 1.3 0 1 0 -4.1 0 M588.05 465.9a2.05 1.3 0 1 0 4.1 0a2.05 1.3 0 1 0 -4.1 0 M430.55 405.9a2.05 1.3 0 1 0 4.1 0a2.05 1.3 0 1 0 -4.1 0 M433.05 405.6a2.05 1.3 0 1 0 4.1 0a2.05 1.3 0 1 0 -4.1 0 M434.9 534.07a2.05 1.3 0 1 0 4.1 0a2.05 1.3 0 1 0 -4.1 0 M435.24 533.74a2.05 1.3 0 1 0 4.1 0a2.05 1.3 0 1 0 -4.1 0 M435.79 532.33a2.05 1.3 0 1 0 4.1 0a2.05 1.3 0 1 0 -4.1 0 M436.08 534.95a2.05 1.3 0 1 0 4.1 0a2.05 1.3 0 1 0 -4.1 0 M436.34 532.34a2.05 1.3 0 1 0 4.1 0a2.05 1.3 0 1 0 -4.1 0 M436.87 535.12a2.05 1.3 0 1 0 4.1 0a2.05 1.3 0 1 0 -4.1 0 M437.38 534.15a2.05 1.3 0 1 0 4.1 0a2.05 1.3 0 1 0 -4.1 0 M437.86 535.29a2.05 1.3 0 1 0 4.1 0a2.05 1.3 0 1 0 -4.1 0 M438.03 534.79a2.05 1.3 0 1 0 4.1 0a2.05 1.3 0 1 0 -4.1 0 M438.77 534.32a2.05 1.3 0 1 0 4.1 0a2.05 1.3 0 1 0 -4.1 0 M439.32 533.28a2.05 1.3 0 1 0 4.1 0a2.05 1.3 0 1 0 -4.1 0 M439.6 532.67a2.05 1.3 0 1 0 4.1 0a2.05 1.3 0 1 0 -4.1 0 M439.93 531.83a2.05 1.3 0 1 0 4.1 0a2.05 1.3 0 1 0 -4.1 0 M440.74 534.99a2.05 1.3 0 1 0 4.1 0a2.05 1.3 0 1 0 -4.1 0 M440.6 534.43a2.05 1.3 0 1 0 4.1 0a2.05 1.3 0 1 0 -4.1 0 M440.98 534.2a2.05 1.3 0 1 0 4.1 0a2.05 1.3 0 1 0 -4.1 0 M441.52 533.91a2.05 1.3 0 1 0 4.1 0a2.05 1.3 0 1 0 -4.1 0 M442.13 533.46a2.05 1.3 0 1 0 4.1 0a2.05 1.3 0 1 0 -4.1 0 M442.49 530.46a2.05 1.3 0 1 0 4.1 0a2.05 1.3 0 1 0 -4.1 0 M443.07 532.07a2.05 1.3 0 1 0 4.1 0a2.05 1.3 0 1 0 -4.1 0 M443.44 533.98a2.05 1.3 0 1 0 4.1 0a2.05 1.3 0 1 0 -4.1 0 M443.85 532.39a2.05 1.3 0 1 0 4.1 0a2.05 1.3 0 1 0 -4.1 0 M444.43 535.29a2.05 1.3 0 1 0 4.1 0a2.05 1.3 0 1 0 -4.1 0 M444.88 535.24a2.05 1.3 0 1 0 4.1 0a2.05 1.3 0 1 0 -4.1 0 M445.14 535.12a2.05 1.3 0 1 0 4.1 0a2.05 1.3 0 1 0 -4.1 0 M445.51 531.91a2.05 1.3 0 1 0 4.1 0a2.05 1.3 0 1 0 -4.1 0 M446.25 535.32a2.05 1.3 0 1 0 4.1 0a2.05 1.3 0 1 0 -4.1 0 M446.82 531.8a2.05 1.3 0 1 0 4.1 0a2.05 1.3 0 1 0 -4.1 0 M447.02 530.46a2.05 1.3 0 1 0 4.1 0a2.05 1.3 0 1 0 -4.1 0 M447.37 533.85a2.05 1.3 0 1 0 4.1 0a2.05 1.3 0 1 0 -4.1 0 M447.52 535.03a2.05 1.3 0 1 0 4.1 0a2.05 1.3 0 1 0 -4.1 0 M447.84 535.11a2.05 1.3 0 1 0 4.1 0a2.05 1.3 0 1 0 -4.1 0 M448.68 534.76a2.05 1.3 0 1 0 4.1 0a2.05 1.3 0 1 0 -4.1 0 M448.94 534.6a2.05 1.3 0 1 0 4.1 0a2.05 1.3 0 1 0 -4.1 0 M449.47 533.65a2.05 1.3 0 1 0 4.1 0a2.05 1.3 0 1 0 -4.1 0 M450.07 533.76a2.05 1.3 0 1 0 4.1 0a2.05 1.3 0 1 0 -4.1 0 M450.45 534.45a2.05 1.3 0 1 0 4.1 0a2.05 1.3 0 1 0 -4.1 0 M451.02 534.79a2.05 1.3 0 1 0 4.1 0a2.05 1.3 0 1 0 -4.1 0 M451.1 534.06a2.05 1.3 0 1 0 4.1 0a2.05 1.3 0 1 0 -4.1 0 M451.57 533.93a2.05 1.3 0 1 0 4.1 0a2.05 1.3 0 1 0 -4.1 0 M452.05 533.71a2.05 1.3 0 1 0 4.1 0a2.05 1.3 0 1 0 -4.1 0 M452.77 534.34a2.05 1.3 0 1 0 4.1 0a2.05 1.3 0 1 0 -4.1 0 M453.26 533.32a2.05 1.3 0 1 0 4.1 0a2.05 1.3 0 1 0 -4.1 0 M453.7 535.29a2.05 1.3 0 1 0 4.1 0a2.05 1.3 0 1 0 -4.1 0 M453.53 530.46a2.05 1.3 0 1 0 4.1 0a2.05 1.3 0 1 0 -4.1 0 M454.03 533.88a2.05 1.3 0 1 0 4.1 0a2.05 1.3 0 1 0 -4.1 0 M454.51 534.77a2.05 1.3 0 1 0 4.1 0a2.05 1.3 0 1 0 -4.1 0 M454.98 534.8a2.05 1.3 0 1 0 4.1 0a2.05 1.3 0 1 0 -4.1 0 M455.53 535.35a2.05 1.3 0 1 0 4.1 0a2.05 1.3 0 1 0 -4.1 0 M455.85 534.77a2.05 1.3 0 1 0 4.1 0a2.05 1.3 0 1 0 -4.1 0 M456.31 534.94a2.05 1.3 0 1 0 4.1 0a2.05 1.3 0 1 0 -4.1 0 M456.74 533.37a2.05 1.3 0 1 0 4.1 0a2.05 1.3 0 1 0 -4.1 0 M457.5 534.71a2.05 1.3 0 1 0 4.1 0a2.05 1.3 0 1 0 -4.1 0 M457.7 532.13a2.05 1.3 0 1 0 4.1 0a2.05 1.3 0 1 0 -4.1 0 M458.45 533.62a2.05 1.3 0 1 0 4.1 0a2.05 1.3 0 1 0 -4.1 0 M458.62 534.97a2.05 1.3 0 1 0 4.1 0a2.05 1.3 0 1 0 -4.1 0 M459.36 535.04a2.05 1.3 0 1 0 4.1 0a2.05 1.3 0 1 0 -4.1 0 M459.61 535.06a2.05 1.3 0 1 0 4.1 0a2.05 1.3 0 1 0 -4.1 0 M460.29 533.66a2.05 1.3 0 1 0 4.1 0a2.05 1.3 0 1 0 -4.1 0 M460.55 535.17a2.05 1.3 0 1 0 4.1 0a2.05 1.3 0 1 0 -4.1 0 M461.04 534.87a2.05 1.3 0 1 0 4.1 0a2.05 1.3 0 1 0 -4.1 0 M461.53 534.48a2.05 1.3 0 1 0 4.1 0a2.05 1.3 0 1 0 -4.1 0 M461.84 535.11a2.05 1.3 0 1 0 4.1 0a2.05 1.3 0 1 0 -4.1 0 M462.7 531.81a2.05 1.3 0 1 0 4.1 0a2.05 1.3 0 1 0 -4.1 0 M463.14 530.46a2.05 1.3 0 1 0 4.1 0a2.05 1.3 0 1 0 -4.1 0 M463.57 533.09a2.05 1.3 0 1 0 4.1 0a2.05 1.3 0 1 0 -4.1 0 M463.82 534.16a2.05 1.3 0 1 0 4.1 0a2.05 1.3 0 1 0 -4.1 0 M464.2 534.96a2.05 1.3 0 1 0 4.1 0a2.05 1.3 0 1 0 -4.1 0 M464.96 534.83a2.05 1.3 0 1 0 4.1 0a2.05 1.3 0 1 0 -4.1 0 M465.38 531.44a2.05 1.3 0 1 0 4.1 0a2.05 1.3 0 1 0 -4.1 0 M465.46 531.04a2.05 1.3 0 1 0 4.1 0a2.05 1.3 0 1 0 -4.1 0 M465.58 533.95a2.05 1.3 0 1 0 4.1 0a2.05 1.3 0 1 0 -4.1 0 M466.16 535.08a2.05 1.3 0 1 0 4.1 0a2.05 1.3 0 1 0 -4.1 0 M466.67 534.14a2.05 1.3 0 1 0 4.1 0a2.05 1.3 0 1 0 -4.1 0 M467.11 533.8a2.05 1.3 0 1 0 4.1 0a2.05 1.3 0 1 0 -4.1 0 M467.63 532.05a2.05 1.3 0 1 0 4.1 0a2.05 1.3 0 1 0 -4.1 0 M467.99 534.67a2.05 1.3 0 1 0 4.1 0a2.05 1.3 0 1 0 -4.1 0 M468.44 532.53a2.05 1.3 0 1 0 4.1 0a2.05 1.3 0 1 0 -4.1 0 M469.16 531.09a2.05 1.3 0 1 0 4.1 0a2.05 1.3 0 1 0 -4.1 0 M469.56 535.39a2.05 1.3 0 1 0 4.1 0a2.05 1.3 0 1 0 -4.1 0 M469.88 535.31a2.05 1.3 0 1 0 4.1 0a2.05 1.3 0 1 0 -4.1 0 M470.41 534.13a2.05 1.3 0 1 0 4.1 0a2.05 1.3 0 1 0 -4.1 0 M470.71 532.87a2.05 1.3 0 1 0 4.1 0a2.05 1.3 0 1 0 -4.1 0 M471.23 535.17a2.05 1.3 0 1 0 4.1 0a2.05 1.3 0 1 0 -4.1 0 M471.57 535.28a2.05 1.3 0 1 0 4.1 0a2.05 1.3 0 1 0 -4.1 0 M471.84 535.25a2.05 1.3 0 1 0 4.1 0a2.05 1.3 0 1 0 -4.1 0 M472.25 534.76a2.05 1.3 0 1 0 4.1 0a2.05 1.3 0 1 0 -4.1 0 M472.72 533.91a2.05 1.3 0 1 0 4.1 0a2.05 1.3 0 1 0 -4.1 0 M473.09 534.73a2.05 1.3 0 1 0 4.1 0a2.05 1.3 0 1 0 -4.1 0 M473.66 533.27a2.05 1.3 0 1 0 4.1 0a2.05 1.3 0 1 0 -4.1 0 M474.13 535.07a2.05 1.3 0 1 0 4.1 0a2.05 1.3 0 1 0 -4.1 0 M474.29 533.83a2.05 1.3 0 1 0 4.1 0a2.05 1.3 0 1 0 -4.1 0 M474.69 532.67a2.05 1.3 0 1 0 4.1 0a2.05 1.3 0 1 0 -4.1 0 M475.11 534.61a2.05 1.3 0 1 0 4.1 0a2.05 1.3 0 1 0 -4.1 0 M475.66 534.48a2.05 1.3 0 1 0 4.1 0a2.05 1.3 0 1 0 -4.1 0 M476.06 534.92a2.05 1.3 0 1 0 4.1 0a2.05 1.3 0 1 0 -4.1 0 M476.48 535.27a2.05 1.3 0 1 0 4.1 0a2.05 1.3 0 1 0 -4.1 0 M477.15 531.82a2.05 1.3 0 1 0 4.1 0a2.05 1.3 0 1 0 -4.1 0 M477.56 531.54a2.05 1.3 0 1 0 4.1 0a2.05 1.3 0 1 0 -4.1 0 M477.76 534.34a2.05 1.3 0 1 0 4.1 0a2.05 1.3 0 1 0 -4.1 0 M478.54 533.56a2.05 1.3 0 1 0 4.1 0a2.05 1.3 0 1 0 -4.1 0 M478.94 533.54a2.05 1.3 0 1 0 4.1 0a2.05 1.3 0 1 0 -4.1 0 M479.35 535.22a2.05 1.3 0 1 0 4.1 0a2.05 1.3 0 1 0 -4.1 0 M479.89 535.14a2.05 1.3 0 1 0 4.1 0a2.05 1.3 0 1 0 -4.1 0 M479.62 535.32a2.05 1.3 0 1 0 4.1 0a2.05 1.3 0 1 0 -4.1 0 M480.12 531.81a2.05 1.3 0 1 0 4.1 0a2.05 1.3 0 1 0 -4.1 0 M480.39 535.36a2.05 1.3 0 1 0 4.1 0a2.05 1.3 0 1 0 -4.1 0 M480.79 532.26a2.05 1.3 0 1 0 4.1 0a2.05 1.3 0 1 0 -4.1 0 M480.9 532.34a2.05 1.3 0 1 0 4.1 0a2.05 1.3 0 1 0 -4.1 0 M481 532.69a2.05 1.3 0 1 0 4.1 0a2.05 1.3 0 1 0 -4.1 0 M481.74 534.19a2.05 1.3 0 1 0 4.1 0a2.05 1.3 0 1 0 -4.1 0 M482.29 533.06a2.05 1.3 0 1 0 4.1 0a2.05 1.3 0 1 0 -4.1 0 M482.05 535.29a2.05 1.3 0 1 0 4.1 0a2.05 1.3 0 1 0 -4.1 0 M482.48 532.42a2.05 1.3 0 1 0 4.1 0a2.05 1.3 0 1 0 -4.1 0 M483.1 534.91a2.05 1.3 0 1 0 4.1 0a2.05 1.3 0 1 0 -4.1 0 M483.46 534.55a2.05 1.3 0 1 0 4.1 0a2.05 1.3 0 1 0 -4.1 0 M483.95 534.67a2.05 1.3 0 1 0 4.1 0a2.05 1.3 0 1 0 -4.1 0 M484.64 534.23a2.05 1.3 0 1 0 4.1 0a2.05 1.3 0 1 0 -4.1 0 M484.55 534.5a2.05 1.3 0 1 0 4.1 0a2.05 1.3 0 1 0 -4.1 0 M485.02 533.41a2.05 1.3 0 1 0 4.1 0a2.05 1.3 0 1 0 -4.1 0 M485.38 534.17a2.05 1.3 0 1 0 4.1 0a2.05 1.3 0 1 0 -4.1 0 M485.71 531.55a2.05 1.3 0 1 0 4.1 0a2.05 1.3 0 1 0 -4.1 0 M486.49 533.07a2.05 1.3 0 1 0 4.1 0a2.05 1.3 0 1 0 -4.1 0 M486.3 534.17a2.05 1.3 0 1 0 4.1 0a2.05 1.3 0 1 0 -4.1 0 M486.69 535.05a2.05 1.3 0 1 0 4.1 0a2.05 1.3 0 1 0 -4.1 0 M487.18 533.91a2.05 1.3 0 1 0 4.1 0a2.05 1.3 0 1 0 -4.1 0 M487.9 533.41a2.05 1.3 0 1 0 4.1 0a2.05 1.3 0 1 0 -4.1 0 M488.15 533.33a2.05 1.3 0 1 0 4.1 0a2.05 1.3 0 1 0 -4.1 0 M488.56 533.91a2.05 1.3 0 1 0 4.1 0a2.05 1.3 0 1 0 -4.1 0 M489.11 535.36a2.05 1.3 0 1 0 4.1 0a2.05 1.3 0 1 0 -4.1 0 M489.53 535.08a2.05 1.3 0 1 0 4.1 0a2.05 1.3 0 1 0 -4.1 0 M489.91 532.88a2.05 1.3 0 1 0 4.1 0a2.05 1.3 0 1 0 -4.1 0 M490.56 534.3a2.05 1.3 0 1 0 4.1 0a2.05 1.3 0 1 0 -4.1 0 M491.12 532.36a2.05 1.3 0 1 0 4.1 0a2.05 1.3 0 1 0 -4.1 0 M491.55 534.29a2.05 1.3 0 1 0 4.1 0a2.05 1.3 0 1 0 -4.1 0 M492.02 534.54a2.05 1.3 0 1 0 4.1 0a2.05 1.3 0 1 0 -4.1 0 M492.28 534.33a2.05 1.3 0 1 0 4.1 0a2.05 1.3 0 1 0 -4.1 0 M492.93 533.26a2.05 1.3 0 1 0 4.1 0a2.05 1.3 0 1 0 -4.1 0 M493.22 532.15a2.05 1.3 0 1 0 4.1 0a2.05 1.3 0 1 0 -4.1 0 M493.67 534.89a2.05 1.3 0 1 0 4.1 0a2.05 1.3 0 1 0 -4.1 0 M494.42 532.09a2.05 1.3 0 1 0 4.1 0a2.05 1.3 0 1 0 -4.1 0 M494.65 532.01a2.05 1.3 0 1 0 4.1 0a2.05 1.3 0 1 0 -4.1 0 M495.03 533.19a2.05 1.3 0 1 0 4.1 0a2.05 1.3 0 1 0 -4.1 0 M495.58 532.36a2.05 1.3 0 1 0 4.1 0a2.05 1.3 0 1 0 -4.1 0 M495.69 534.65a2.05 1.3 0 1 0 4.1 0a2.05 1.3 0 1 0 -4.1 0 M496.06 535.39a2.05 1.3 0 1 0 4.1 0a2.05 1.3 0 1 0 -4.1 0 M496.48 534.27a2.05 1.3 0 1 0 4.1 0a2.05 1.3 0 1 0 -4.1 0 M497.02 530.46a2.05 1.3 0 1 0 4.1 0a2.05 1.3 0 1 0 -4.1 0 M497.44 535.19a2.05 1.3 0 1 0 4.1 0a2.05 1.3 0 1 0 -4.1 0 M498.15 535.2a2.05 1.3 0 1 0 4.1 0a2.05 1.3 0 1 0 -4.1 0 M498.64 535.23a2.05 1.3 0 1 0 4.1 0a2.05 1.3 0 1 0 -4.1 0 M499.03 532.9a2.05 1.3 0 1 0 4.1 0a2.05 1.3 0 1 0 -4.1 0 M499.46 533.49a2.05 1.3 0 1 0 4.1 0a2.05 1.3 0 1 0 -4.1 0 M499.96 534.88a2.05 1.3 0 1 0 4.1 0a2.05 1.3 0 1 0 -4.1 0 M500.34 533.51a2.05 1.3 0 1 0 4.1 0a2.05 1.3 0 1 0 -4.1 0 M500.74 534.25a2.05 1.3 0 1 0 4.1 0a2.05 1.3 0 1 0 -4.1 0 M500.87 533.26a2.05 1.3 0 1 0 4.1 0a2.05 1.3 0 1 0 -4.1 0 M501.32 535.06a2.05 1.3 0 1 0 4.1 0a2.05 1.3 0 1 0 -4.1 0 M501.89 535.07a2.05 1.3 0 1 0 4.1 0a2.05 1.3 0 1 0 -4.1 0 M502.37 535.18a2.05 1.3 0 1 0 4.1 0a2.05 1.3 0 1 0 -4.1 0 M502.75 534.72a2.05 1.3 0 1 0 4.1 0a2.05 1.3 0 1 0 -4.1 0 M502.69 533.86a2.05 1.3 0 1 0 4.1 0a2.05 1.3 0 1 0 -4.1 0 M503.06 534.37a2.05 1.3 0 1 0 4.1 0a2.05 1.3 0 1 0 -4.1 0 M503.69 535.28a2.05 1.3 0 1 0 4.1 0a2.05 1.3 0 1 0 -4.1 0 M504.16 534.08a2.05 1.3 0 1 0 4.1 0a2.05 1.3 0 1 0 -4.1 0 M504.49 534.88a2.05 1.3 0 1 0 4.1 0a2.05 1.3 0 1 0 -4.1 0 M505 535.33a2.05 1.3 0 1 0 4.1 0a2.05 1.3 0 1 0 -4.1 0 M505.41 532.92a2.05 1.3 0 1 0 4.1 0a2.05 1.3 0 1 0 -4.1 0 M505.95 534.53a2.05 1.3 0 1 0 4.1 0a2.05 1.3 0 1 0 -4.1 0 M506.54 534.66a2.05 1.3 0 1 0 4.1 0a2.05 1.3 0 1 0 -4.1 0 M506.71 534.87a2.05 1.3 0 1 0 4.1 0a2.05 1.3 0 1 0 -4.1 0 M506.98 535.2a2.05 1.3 0 1 0 4.1 0a2.05 1.3 0 1 0 -4.1 0 M507.21 535.05a2.05 1.3 0 1 0 4.1 0a2.05 1.3 0 1 0 -4.1 0 M507.93 533.1a2.05 1.3 0 1 0 4.1 0a2.05 1.3 0 1 0 -4.1 0 M508.13 533.88a2.05 1.3 0 1 0 4.1 0a2.05 1.3 0 1 0 -4.1 0 M508.75 535.04a2.05 1.3 0 1 0 4.1 0a2.05 1.3 0 1 0 -4.1 0 M509.1 535.02a2.05 1.3 0 1 0 4.1 0a2.05 1.3 0 1 0 -4.1 0 M509.79 535.35a2.05 1.3 0 1 0 4.1 0a2.05 1.3 0 1 0 -4.1 0 M510.09 530.46a2.05 1.3 0 1 0 4.1 0a2.05 1.3 0 1 0 -4.1 0 M510.66 533.92a2.05 1.3 0 1 0 4.1 0a2.05 1.3 0 1 0 -4.1 0 M510.99 533.44a2.05 1.3 0 1 0 4.1 0a2.05 1.3 0 1 0 -4.1 0 M511.58 534.28a2.05 1.3 0 1 0 4.1 0a2.05 1.3 0 1 0 -4.1 0 M512.11 535.4a2.05 1.3 0 1 0 4.1 0a2.05 1.3 0 1 0 -4.1 0 M512.48 534.25a2.05 1.3 0 1 0 4.1 0a2.05 1.3 0 1 0 -4.1 0 M512.95 535.04a2.05 1.3 0 1 0 4.1 0a2.05 1.3 0 1 0 -4.1 0 M513.46 534.23a2.05 1.3 0 1 0 4.1 0a2.05 1.3 0 1 0 -4.1 0 M513.43 534.41a2.05 1.3 0 1 0 4.1 0a2.05 1.3 0 1 0 -4.1 0 M513.73 531.64a2.05 1.3 0 1 0 4.1 0a2.05 1.3 0 1 0 -4.1 0 M514.16 533.75a2.05 1.3 0 1 0 4.1 0a2.05 1.3 0 1 0 -4.1 0 M514.64 534.95a2.05 1.3 0 1 0 4.1 0a2.05 1.3 0 1 0 -4.1 0 M515.2 530.91a2.05 1.3 0 1 0 4.1 0a2.05 1.3 0 1 0 -4.1 0 M515.59 533.39a2.05 1.3 0 1 0 4.1 0a2.05 1.3 0 1 0 -4.1 0 M516.38 533.85a2.05 1.3 0 1 0 4.1 0a2.05 1.3 0 1 0 -4.1 0 M516.61 533.12a2.05 1.3 0 1 0 4.1 0a2.05 1.3 0 1 0 -4.1 0 M517.29 530.86a2.05 1.3 0 1 0 4.1 0a2.05 1.3 0 1 0 -4.1 0 M517.6 533.01a2.05 1.3 0 1 0 4.1 0a2.05 1.3 0 1 0 -4.1 0 M517.91 535.33a2.05 1.3 0 1 0 4.1 0a2.05 1.3 0 1 0 -4.1 0 M517.94 535.02a2.05 1.3 0 1 0 4.1 0a2.05 1.3 0 1 0 -4.1 0 M518.56 533.37a2.05 1.3 0 1 0 4.1 0a2.05 1.3 0 1 0 -4.1 0 M518.93 533.63a2.05 1.3 0 1 0 4.1 0a2.05 1.3 0 1 0 -4.1 0 M519.44 533.01a2.05 1.3 0 1 0 4.1 0a2.05 1.3 0 1 0 -4.1 0 M520.03 531.52a2.05 1.3 0 1 0 4.1 0a2.05 1.3 0 1 0 -4.1 0 M520.42 534.62a2.05 1.3 0 1 0 4.1 0a2.05 1.3 0 1 0 -4.1 0 M520.68 534.97a2.05 1.3 0 1 0 4.1 0a2.05 1.3 0 1 0 -4.1 0 M521.2 532.81a2.05 1.3 0 1 0 4.1 0a2.05 1.3 0 1 0 -4.1 0 M521.7 535.03a2.05 1.3 0 1 0 4.1 0a2.05 1.3 0 1 0 -4.1 0 M522.15 534.53a2.05 1.3 0 1 0 4.1 0a2.05 1.3 0 1 0 -4.1 0 M522.61 535.2a2.05 1.3 0 1 0 4.1 0a2.05 1.3 0 1 0 -4.1 0 M522.57 534.26a2.05 1.3 0 1 0 4.1 0a2.05 1.3 0 1 0 -4.1 0 M523.18 534.39a2.05 1.3 0 1 0 4.1 0a2.05 1.3 0 1 0 -4.1 0 M523.03 533.34a2.05 1.3 0 1 0 4.1 0a2.05 1.3 0 1 0 -4.1 0 M523.49 534.55a2.05 1.3 0 1 0 4.1 0a2.05 1.3 0 1 0 -4.1 0 M523.98 534.98a2.05 1.3 0 1 0 4.1 0a2.05 1.3 0 1 0 -4.1 0 M524.66 535.1a2.05 1.3 0 1 0 4.1 0a2.05 1.3 0 1 0 -4.1 0 M524.9 535.18a2.05 1.3 0 1 0 4.1 0a2.05 1.3 0 1 0 -4.1 0 M525.66 534.86a2.05 1.3 0 1 0 4.1 0a2.05 1.3 0 1 0 -4.1 0 M525.94 530.83a2.05 1.3 0 1 0 4.1 0a2.05 1.3 0 1 0 -4.1 0 M526.61 534.88a2.05 1.3 0 1 0 4.1 0a2.05 1.3 0 1 0 -4.1 0 M526.79 534.69a2.05 1.3 0 1 0 4.1 0a2.05 1.3 0 1 0 -4.1 0 M527.45 530.46a2.05 1.3 0 1 0 4.1 0a2.05 1.3 0 1 0 -4.1 0 M527.72 535.35a2.05 1.3 0 1 0 4.1 0a2.05 1.3 0 1 0 -4.1 0 M527.7 535.08a2.05 1.3 0 1 0 4.1 0a2.05 1.3 0 1 0 -4.1 0 M528.51 533.6a2.05 1.3 0 1 0 4.1 0a2.05 1.3 0 1 0 -4.1 0 M528.54 535.02a2.05 1.3 0 1 0 4.1 0a2.05 1.3 0 1 0 -4.1 0 M528.98 532.65a2.05 1.3 0 1 0 4.1 0a2.05 1.3 0 1 0 -4.1 0 M529.21 535.34a2.05 1.3 0 1 0 4.1 0a2.05 1.3 0 1 0 -4.1 0 M529.59 530.46a2.05 1.3 0 1 0 4.1 0a2.05 1.3 0 1 0 -4.1 0 M530.06 532.19a2.05 1.3 0 1 0 4.1 0a2.05 1.3 0 1 0 -4.1 0 M530.76 534.71a2.05 1.3 0 1 0 4.1 0a2.05 1.3 0 1 0 -4.1 0 M531.25 535.08a2.05 1.3 0 1 0 4.1 0a2.05 1.3 0 1 0 -4.1 0 M531.64 532.35a2.05 1.3 0 1 0 4.1 0a2.05 1.3 0 1 0 -4.1 0 M532.05 534.64a2.05 1.3 0 1 0 4.1 0a2.05 1.3 0 1 0 -4.1 0 M532.55 532.84a2.05 1.3 0 1 0 4.1 0a2.05 1.3 0 1 0 -4.1 0 M533.11 535.09a2.05 1.3 0 1 0 4.1 0a2.05 1.3 0 1 0 -4.1 0 M533.44 533.3a2.05 1.3 0 1 0 4.1 0a2.05 1.3 0 1 0 -4.1 0 M534.04 535.12a2.05 1.3 0 1 0 4.1 0a2.05 1.3 0 1 0 -4.1 0 M534.52 534.34a2.05 1.3 0 1 0 4.1 0a2.05 1.3 0 1 0 -4.1 0 M534.26 533.49a2.05 1.3 0 1 0 4.1 0a2.05 1.3 0 1 0 -4.1 0 M534.94 532.26a2.05 1.3 0 1 0 4.1 0a2.05 1.3 0 1 0 -4.1 0 M535.33 531.92a2.05 1.3 0 1 0 4.1 0a2.05 1.3 0 1 0 -4.1 0 M535.76 533.17a2.05 1.3 0 1 0 4.1 0a2.05 1.3 0 1 0 -4.1 0 M536.25 535.27a2.05 1.3 0 1 0 4.1 0a2.05 1.3 0 1 0 -4.1 0 M536.78 535.21a2.05 1.3 0 1 0 4.1 0a2.05 1.3 0 1 0 -4.1 0 M537.28 535.26a2.05 1.3 0 1 0 4.1 0a2.05 1.3 0 1 0 -4.1 0 M537.04 534.93a2.05 1.3 0 1 0 4.1 0a2.05 1.3 0 1 0 -4.1 0 M537.72 533.65a2.05 1.3 0 1 0 4.1 0a2.05 1.3 0 1 0 -4.1 0 M538.34 534.96a2.05 1.3 0 1 0 4.1 0a2.05 1.3 0 1 0 -4.1 0 M538.18 534.98a2.05 1.3 0 1 0 4.1 0a2.05 1.3 0 1 0 -4.1 0 M538.67 532.83a2.05 1.3 0 1 0 4.1 0a2.05 1.3 0 1 0 -4.1 0 M538.97 534.1a2.05 1.3 0 1 0 4.1 0a2.05 1.3 0 1 0 -4.1 0 M539.69 535.26a2.05 1.3 0 1 0 4.1 0a2.05 1.3 0 1 0 -4.1 0 M540.21 535.36a2.05 1.3 0 1 0 4.1 0a2.05 1.3 0 1 0 -4.1 0 M540.18 535.02a2.05 1.3 0 1 0 4.1 0a2.05 1.3 0 1 0 -4.1 0 M540.38 534.34a2.05 1.3 0 1 0 4.1 0a2.05 1.3 0 1 0 -4.1 0 M540.54 532.41a2.05 1.3 0 1 0 4.1 0a2.05 1.3 0 1 0 -4.1 0 M541.11 532.98a2.05 1.3 0 1 0 4.1 0a2.05 1.3 0 1 0 -4.1 0 M541.4 533.84a2.05 1.3 0 1 0 4.1 0a2.05 1.3 0 1 0 -4.1 0 M541.93 532.35a2.05 1.3 0 1 0 4.1 0a2.05 1.3 0 1 0 -4.1 0 M541.78 532.55a2.05 1.3 0 1 0 4.1 0a2.05 1.3 0 1 0 -4.1 0 M542.45 534.34a2.05 1.3 0 1 0 4.1 0a2.05 1.3 0 1 0 -4.1 0 M542.82 534.68a2.05 1.3 0 1 0 4.1 0a2.05 1.3 0 1 0 -4.1 0 M542.85 535.27a2.05 1.3 0 1 0 4.1 0a2.05 1.3 0 1 0 -4.1 0 M543.35 534.47a2.05 1.3 0 1 0 4.1 0a2.05 1.3 0 1 0 -4.1 0 M543.7 534.99a2.05 1.3 0 1 0 4.1 0a2.05 1.3 0 1 0 -4.1 0 M544.2 534.71a2.05 1.3 0 1 0 4.1 0a2.05 1.3 0 1 0 -4.1 0 M544.56 534.98a2.05 1.3 0 1 0 4.1 0a2.05 1.3 0 1 0 -4.1 0 M544.79 530.88a2.05 1.3 0 1 0 4.1 0a2.05 1.3 0 1 0 -4.1 0 M545.21 530.46a2.05 1.3 0 1 0 4.1 0a2.05 1.3 0 1 0 -4.1 0 M545.6 534.1a2.05 1.3 0 1 0 4.1 0a2.05 1.3 0 1 0 -4.1 0 M546.28 531.45a2.05 1.3 0 1 0 4.1 0a2.05 1.3 0 1 0 -4.1 0 M546.53 532.89a2.05 1.3 0 1 0 4.1 0a2.05 1.3 0 1 0 -4.1 0 M546.95 531.12a2.05 1.3 0 1 0 4.1 0a2.05 1.3 0 1 0 -4.1 0 M547.34 535.05a2.05 1.3 0 1 0 4.1 0a2.05 1.3 0 1 0 -4.1 0 M547.97 534.81a2.05 1.3 0 1 0 4.1 0a2.05 1.3 0 1 0 -4.1 0 M548.53 535.33a2.05 1.3 0 1 0 4.1 0a2.05 1.3 0 1 0 -4.1 0 M548.84 534.44a2.05 1.3 0 1 0 4.1 0a2.05 1.3 0 1 0 -4.1 0 M549.28 533.08a2.05 1.3 0 1 0 4.1 0a2.05 1.3 0 1 0 -4.1 0 M549.8 534.8a2.05 1.3 0 1 0 4.1 0a2.05 1.3 0 1 0 -4.1 0 M549.69 535.26a2.05 1.3 0 1 0 4.1 0a2.05 1.3 0 1 0 -4.1 0 M550.49 533.36a2.05 1.3 0 1 0 4.1 0a2.05 1.3 0 1 0 -4.1 0 M550.72 531.87a2.05 1.3 0 1 0 4.1 0a2.05 1.3 0 1 0 -4.1 0 M551.22 534.77a2.05 1.3 0 1 0 4.1 0a2.05 1.3 0 1 0 -4.1 0 M551.64 534.08a2.05 1.3 0 1 0 4.1 0a2.05 1.3 0 1 0 -4.1 0 M552.15 534.83a2.05 1.3 0 1 0 4.1 0a2.05 1.3 0 1 0 -4.1 0 M552.55 532.62a2.05 1.3 0 1 0 4.1 0a2.05 1.3 0 1 0 -4.1 0 M552.91 532.62a2.05 1.3 0 1 0 4.1 0a2.05 1.3 0 1 0 -4.1 0 M553.58 534.12a2.05 1.3 0 1 0 4.1 0a2.05 1.3 0 1 0 -4.1 0 M553.39 535.09a2.05 1.3 0 1 0 4.1 0a2.05 1.3 0 1 0 -4.1 0 M554.02 532.91a2.05 1.3 0 1 0 4.1 0a2.05 1.3 0 1 0 -4.1 0 M554.69 532.8a2.05 1.3 0 1 0 4.1 0a2.05 1.3 0 1 0 -4.1 0 M554.77 535.05a2.05 1.3 0 1 0 4.1 0a2.05 1.3 0 1 0 -4.1 0 M554.9 534.44a2.05 1.3 0 1 0 4.1 0a2.05 1.3 0 1 0 -4.1 0 M555.27 534.06a2.05 1.3 0 1 0 4.1 0a2.05 1.3 0 1 0 -4.1 0 M555.33 534.77a2.05 1.3 0 1 0 4.1 0a2.05 1.3 0 1 0 -4.1 0 M555.81 534.48a2.05 1.3 0 1 0 4.1 0a2.05 1.3 0 1 0 -4.1 0 M556.42 534.45a2.05 1.3 0 1 0 4.1 0a2.05 1.3 0 1 0 -4.1 0 M556.54 533.5a2.05 1.3 0 1 0 4.1 0a2.05 1.3 0 1 0 -4.1 0 M556.69 534.92a2.05 1.3 0 1 0 4.1 0a2.05 1.3 0 1 0 -4.1 0 M557.31 532.76a2.05 1.3 0 1 0 4.1 0a2.05 1.3 0 1 0 -4.1 0 M557.68 534.04a2.05 1.3 0 1 0 4.1 0a2.05 1.3 0 1 0 -4.1 0 M558.3 535.37a2.05 1.3 0 1 0 4.1 0a2.05 1.3 0 1 0 -4.1 0 M558.69 531.4a2.05 1.3 0 1 0 4.1 0a2.05 1.3 0 1 0 -4.1 0 M559.3 530.94a2.05 1.3 0 1 0 4.1 0a2.05 1.3 0 1 0 -4.1 0 M559.65 534.49a2.05 1.3 0 1 0 4.1 0a2.05 1.3 0 1 0 -4.1 0 M560.18 535.06a2.05 1.3 0 1 0 4.1 0a2.05 1.3 0 1 0 -4.1 0 M560.54 534.06a2.05 1.3 0 1 0 4.1 0a2.05 1.3 0 1 0 -4.1 0 M561.16 534.37a2.05 1.3 0 1 0 4.1 0a2.05 1.3 0 1 0 -4.1 0 M561.37 530.46a2.05 1.3 0 1 0 4.1 0a2.05 1.3 0 1 0 -4.1 0 M561.94 534.15a2.05 1.3 0 1 0 4.1 0a2.05 1.3 0 1 0 -4.1 0 M562.61 532.43a2.05 1.3 0 1 0 4.1 0a2.05 1.3 0 1 0 -4.1 0 M562.94 535.35a2.05 1.3 0 1 0 4.1 0a2.05 1.3 0 1 0 -4.1 0 M563.29 534.27a2.05 1.3 0 1 0 4.1 0a2.05 1.3 0 1 0 -4.1 0 M563.68 531.3a2.05 1.3 0 1 0 4.1 0a2.05 1.3 0 1 0 -4.1 0 M564.31 534.62a2.05 1.3 0 1 0 4.1 0a2.05 1.3 0 1 0 -4.1 0 M564.83 530.46a2.05 1.3 0 1 0 4.1 0a2.05 1.3 0 1 0 -4.1 0 M565.12 531.11a2.05 1.3 0 1 0 4.1 0a2.05 1.3 0 1 0 -4.1 0 M565.64 532.42a2.05 1.3 0 1 0 4.1 0a2.05 1.3 0 1 0 -4.1 0 M566.35 530.46a2.05 1.3 0 1 0 4.1 0a2.05 1.3 0 1 0 -4.1 0 M566.56 534.56a2.05 1.3 0 1 0 4.1 0a2.05 1.3 0 1 0 -4.1 0 M567.3 534.91a2.05 1.3 0 1 0 4.1 0a2.05 1.3 0 1 0 -4.1 0 M567 535.26a2.05 1.3 0 1 0 4.1 0a2.05 1.3 0 1 0 -4.1 0 M567.59 535.26a2.05 1.3 0 1 0 4.1 0a2.05 1.3 0 1 0 -4.1 0 M568.1 532.32a2.05 1.3 0 1 0 4.1 0a2.05 1.3 0 1 0 -4.1 0 M568.42 535.39a2.05 1.3 0 1 0 4.1 0a2.05 1.3 0 1 0 -4.1 0 M568.89 535.28a2.05 1.3 0 1 0 4.1 0a2.05 1.3 0 1 0 -4.1 0 M569.46 534.87a2.05 1.3 0 1 0 4.1 0a2.05 1.3 0 1 0 -4.1 0 M570.1 534.94a2.05 1.3 0 1 0 4.1 0a2.05 1.3 0 1 0 -4.1 0 M570.08 535.14a2.05 1.3 0 1 0 4.1 0a2.05 1.3 0 1 0 -4.1 0 M570.45 530.46a2.05 1.3 0 1 0 4.1 0a2.05 1.3 0 1 0 -4.1 0 M570.67 535.14a2.05 1.3 0 1 0 4.1 0a2.05 1.3 0 1 0 -4.1 0 M571.19 535.07a2.05 1.3 0 1 0 4.1 0a2.05 1.3 0 1 0 -4.1 0 M571.6 531.89a2.05 1.3 0 1 0 4.1 0a2.05 1.3 0 1 0 -4.1 0 M572.2 534.11a2.05 1.3 0 1 0 4.1 0a2.05 1.3 0 1 0 -4.1 0 M572.91 534.56a2.05 1.3 0 1 0 4.1 0a2.05 1.3 0 1 0 -4.1 0 M572.57 534.84a2.05 1.3 0 1 0 4.1 0a2.05 1.3 0 1 0 -4.1 0 M573.12 535.17a2.05 1.3 0 1 0 4.1 0a2.05 1.3 0 1 0 -4.1 0 M573.01 531.23a2.05 1.3 0 1 0 4.1 0a2.05 1.3 0 1 0 -4.1 0 M573.85 530.66a2.05 1.3 0 1 0 4.1 0a2.05 1.3 0 1 0 -4.1 0 M574.06 534.92a2.05 1.3 0 1 0 4.1 0a2.05 1.3 0 1 0 -4.1 0 M574.66 534.28a2.05 1.3 0 1 0 4.1 0a2.05 1.3 0 1 0 -4.1 0 M574.99 535.36a2.05 1.3 0 1 0 4.1 0a2.05 1.3 0 1 0 -4.1 0 M575.54 532.82a2.05 1.3 0 1 0 4.1 0a2.05 1.3 0 1 0 -4.1 0 M575.96 534.09a2.05 1.3 0 1 0 4.1 0a2.05 1.3 0 1 0 -4.1 0 M576.33 532.37a2.05 1.3 0 1 0 4.1 0a2.05 1.3 0 1 0 -4.1 0 M577.06 530.83a2.05 1.3 0 1 0 4.1 0a2.05 1.3 0 1 0 -4.1 0 M577.52 530.46a2.05 1.3 0 1 0 4.1 0a2.05 1.3 0 1 0 -4.1 0 M577.73 534.88a2.05 1.3 0 1 0 4.1 0a2.05 1.3 0 1 0 -4.1 0 M578.28 530.46a2.05 1.3 0 1 0 4.1 0a2.05 1.3 0 1 0 -4.1 0 M578.16 531.91a2.05 1.3 0 1 0 4.1 0a2.05 1.3 0 1 0 -4.1 0 M578.9 531.95a2.05 1.3 0 1 0 4.1 0a2.05 1.3 0 1 0 -4.1 0 M578.86 530.46a2.05 1.3 0 1 0 4.1 0a2.05 1.3 0 1 0 -4.1 0 M579.09 532.94a2.05 1.3 0 1 0 4.1 0a2.05 1.3 0 1 0 -4.1 0 M579.58 534.42a2.05 1.3 0 1 0 4.1 0a2.05 1.3 0 1 0 -4.1 0 M580.19 534.74a2.05 1.3 0 1 0 4.1 0a2.05 1.3 0 1 0 -4.1 0 M580.6 534.75a2.05 1.3 0 1 0 4.1 0a2.05 1.3 0 1 0 -4.1 0 M581.3 530.46a2.05 1.3 0 1 0 4.1 0a2.05 1.3 0 1 0 -4.1 0 M581.5 532.35a2.05 1.3 0 1 0 4.1 0a2.05 1.3 0 1 0 -4.1 0 M581.9 534.87a2.05 1.3 0 1 0 4.1 0a2.05 1.3 0 1 0 -4.1 0 M582.46 533.17a2.05 1.3 0 1 0 4.1 0a2.05 1.3 0 1 0 -4.1 0 M583.18 534.84a2.05 1.3 0 1 0 4.1 0a2.05 1.3 0 1 0 -4.1 0 M583.47 534.3a2.05 1.3 0 1 0 4.1 0a2.05 1.3 0 1 0 -4.1 0 M583.93 530.46a2.05 1.3 0 1 0 4.1 0a2.05 1.3 0 1 0 -4.1 0 M584.22 533.77a2.05 1.3 0 1 0 4.1 0a2.05 1.3 0 1 0 -4.1 0 M584.97 532.22a2.05 1.3 0 1 0 4.1 0a2.05 1.3 0 1 0 -4.1 0 M585.28 532.14a2.05 1.3 0 1 0 4.1 0a2.05 1.3 0 1 0 -4.1 0 M585.27 530.46a2.05 1.3 0 1 0 4.1 0a2.05 1.3 0 1 0 -4.1 0 M585.94 534.05a2.05 1.3 0 1 0 4.1 0a2.05 1.3 0 1 0 -4.1 0 M586.34 531.98a2.05 1.3 0 1 0 4.1 0a2.05 1.3 0 1 0 -4.1 0 M586.73 534.8a2.05 1.3 0 1 0 4.1 0a2.05 1.3 0 1 0 -4.1 0 M587.25 534.61a2.05 1.3 0 1 0 4.1 0a2.05 1.3 0 1 0 -4.1 0 M587.52 533.91a2.05 1.3 0 1 0 4.1 0a2.05 1.3 0 1 0 -4.1 0 M588.17 534.62a2.05 1.3 0 1 0 4.1 0a2.05 1.3 0 1 0 -4.1 0 M588.52 535.26a2.05 1.3 0 1 0 4.1 0a2.05 1.3 0 1 0 -4.1 0 M588.4 534.84a2.05 1.3 0 1 0 4.1 0a2.05 1.3 0 1 0 -4.1 0 M589.07 531.1a2.05 1.3 0 1 0 4.1 0a2.05 1.3 0 1 0 -4.1 0 M589.66 532.42a2.05 1.3 0 1 0 4.1 0a2.05 1.3 0 1 0 -4.1 0 M590.07 534.42a2.05 1.3 0 1 0 4.1 0a2.05 1.3 0 1 0 -4.1 0 M590.41 531.81a2.05 1.3 0 1 0 4.1 0a2.05 1.3 0 1 0 -4.1 0 M590.62 534.31a2.05 1.3 0 1 0 4.1 0a2.05 1.3 0 1 0 -4.1 0 M591.06 535.04a2.05 1.3 0 1 0 4.1 0a2.05 1.3 0 1 0 -4.1 0 M591.21 535.25a2.05 1.3 0 1 0 4.1 0a2.05 1.3 0 1 0 -4.1 0 M591.99 535.39a2.05 1.3 0 1 0 4.1 0a2.05 1.3 0 1 0 -4.1 0 M592.28 534.86a2.05 1.3 0 1 0 4.1 0a2.05 1.3 0 1 0 -4.1 0 M592.85 534.44a2.05 1.3 0 1 0 4.1 0a2.05 1.3 0 1 0 -4.1 0 M593.1 534.43a2.05 1.3 0 1 0 4.1 0a2.05 1.3 0 1 0 -4.1 0 M593.56 533.41a2.05 1.3 0 1 0 4.1 0a2.05 1.3 0 1 0 -4.1 0 M594.39 533.03a2.05 1.3 0 1 0 4.1 0a2.05 1.3 0 1 0 -4.1 0 M594.66 535.38a2.05 1.3 0 1 0 4.1 0a2.05 1.3 0 1 0 -4.1 0 M594.82 534.47a2.05 1.3 0 1 0 4.1 0a2.05 1.3 0 1 0 -4.1 0 M595.1 534.72a2.05 1.3 0 1 0 4.1 0a2.05 1.3 0 1 0 -4.1 0 M595.48 531.75a2.05 1.3 0 1 0 4.1 0a2.05 1.3 0 1 0 -4.1 0 M596.12 535.24a2.05 1.3 0 1 0 4.1 0a2.05 1.3 0 1 0 -4.1 0 M596.54 530.78a2.05 1.3 0 1 0 4.1 0a2.05 1.3 0 1 0 -4.1 0 M596.37 533.96a2.05 1.3 0 1 0 4.1 0a2.05 1.3 0 1 0 -4.1 0 M597.14 534.33a2.05 1.3 0 1 0 4.1 0a2.05 1.3 0 1 0 -4.1 0 M597.66 534.83a2.05 1.3 0 1 0 4.1 0a2.05 1.3 0 1 0 -4.1 0 M597.81 534.13a2.05 1.3 0 1 0 4.1 0a2.05 1.3 0 1 0 -4.1 0 M598.25 531.51a2.05 1.3 0 1 0 4.1 0a2.05 1.3 0 1 0 -4.1 0 M598.81 533.76a2.05 1.3 0 1 0 4.1 0a2.05 1.3 0 1 0 -4.1 0 M599.48 531.33a2.05 1.3 0 1 0 4.1 0a2.05 1.3 0 1 0 -4.1 0 M599.62 535.02a2.05 1.3 0 1 0 4.1 0a2.05 1.3 0 1 0 -4.1 0 M600.15 534.77a2.05 1.3 0 1 0 4.1 0a2.05 1.3 0 1 0 -4.1 0 M600.86 534.99a2.05 1.3 0 1 0 4.1 0a2.05 1.3 0 1 0 -4.1 0 M601.37 535.18a2.05 1.3 0 1 0 4.1 0a2.05 1.3 0 1 0 -4.1 0 M601.54 535a2.05 1.3 0 1 0 4.1 0a2.05 1.3 0 1 0 -4.1 0 M602.09 534.23a2.05 1.3 0 1 0 4.1 0a2.05 1.3 0 1 0 -4.1 0 M602.27 532.18a2.05 1.3 0 1 0 4.1 0a2.05 1.3 0 1 0 -4.1 0 M602.56 534.53a2.05 1.3 0 1 0 4.1 0a2.05 1.3 0 1 0 -4.1 0 M602.5 535.07a2.05 1.3 0 1 0 4.1 0a2.05 1.3 0 1 0 -4.1 0 M603.01 533.4a2.05 1.3 0 1 0 4.1 0a2.05 1.3 0 1 0 -4.1 0 M603.51 534.98a2.05 1.3 0 1 0 4.1 0a2.05 1.3 0 1 0 -4.1 0 M603.44 533.99a2.05 1.3 0 1 0 4.1 0a2.05 1.3 0 1 0 -4.1 0 M604.07 534.99a2.05 1.3 0 1 0 4.1 0a2.05 1.3 0 1 0 -4.1 0 M604.57 535.07a2.05 1.3 0 1 0 4.1 0a2.05 1.3 0 1 0 -4.1 0 M604.98 534.09a2.05 1.3 0 1 0 4.1 0a2.05 1.3 0 1 0 -4.1 0 M605.23 534.41a2.05 1.3 0 1 0 4.1 0a2.05 1.3 0 1 0 -4.1 0 M605.87 532.08a2.05 1.3 0 1 0 4.1 0a2.05 1.3 0 1 0 -4.1 0 M606.5 534.87a2.05 1.3 0 1 0 4.1 0a2.05 1.3 0 1 0 -4.1 0 M606.93 534.98a2.05 1.3 0 1 0 4.1 0a2.05 1.3 0 1 0 -4.1 0 M607.47 534.68a2.05 1.3 0 1 0 4.1 0a2.05 1.3 0 1 0 -4.1 0 M607.83 535.07a2.05 1.3 0 1 0 4.1 0a2.05 1.3 0 1 0 -4.1 0 M608.24 533.17a2.05 1.3 0 1 0 4.1 0a2.05 1.3 0 1 0 -4.1 0 M608.81 534.13a2.05 1.3 0 1 0 4.1 0a2.05 1.3 0 1 0 -4.1 0 M608.69 534.3a2.05 1.3 0 1 0 4.1 0a2.05 1.3 0 1 0 -4.1 0 M609.14 534.4a2.05 1.3 0 1 0 4.1 0a2.05 1.3 0 1 0 -4.1 0 M609.49 532.46a2.05 1.3 0 1 0 4.1 0a2.05 1.3 0 1 0 -4.1 0 M610.1 532.98a2.05 1.3 0 1 0 4.1 0a2.05 1.3 0 1 0 -4.1 0 M610.23 534.79a2.05 1.3 0 1 0 4.1 0a2.05 1.3 0 1 0 -4.1 0 M610.74 534.08a2.05 1.3 0 1 0 4.1 0a2.05 1.3 0 1 0 -4.1 0 M610.93 533.07a2.05 1.3 0 1 0 4.1 0a2.05 1.3 0 1 0 -4.1 0 M611.57 533.48a2.05 1.3 0 1 0 4.1 0a2.05 1.3 0 1 0 -4.1 0 M611.47 534.67a2.05 1.3 0 1 0 4.1 0a2.05 1.3 0 1 0 -4.1 0 M612.02 534.91a2.05 1.3 0 1 0 4.1 0a2.05 1.3 0 1 0 -4.1 0 M612.25 534.58a2.05 1.3 0 1 0 4.1 0a2.05 1.3 0 1 0 -4.1 0 M612.97 534.75a2.05 1.3 0 1 0 4.1 0a2.05 1.3 0 1 0 -4.1 0 M613.22 534.55a2.05 1.3 0 1 0 4.1 0a2.05 1.3 0 1 0 -4.1 0 M613.65 533.95a2.05 1.3 0 1 0 4.1 0a2.05 1.3 0 1 0 -4.1 0 M614.16 534.29a2.05 1.3 0 1 0 4.1 0a2.05 1.3 0 1 0 -4.1 0 M614.14 534.21a2.05 1.3 0 1 0 4.1 0a2.05 1.3 0 1 0 -4.1 0 M614.91 534.1a2.05 1.3 0 1 0 4.1 0a2.05 1.3 0 1 0 -4.1 0 M614.75 531.97a2.05 1.3 0 1 0 4.1 0a2.05 1.3 0 1 0 -4.1 0 M615.12 535.28a2.05 1.3 0 1 0 4.1 0a2.05 1.3 0 1 0 -4.1 0 M615.53 530.6a2.05 1.3 0 1 0 4.1 0a2.05 1.3 0 1 0 -4.1 0 M616.12 534.3a2.05 1.3 0 1 0 4.1 0a2.05 1.3 0 1 0 -4.1 0 M616.49 530.46a2.05 1.3 0 1 0 4.1 0a2.05 1.3 0 1 0 -4.1 0 M616.96 534.19a2.05 1.3 0 1 0 4.1 0a2.05 1.3 0 1 0 -4.1 0 M617.66 530.46a2.05 1.3 0 1 0 4.1 0a2.05 1.3 0 1 0 -4.1 0 M617.85 531.46a2.05 1.3 0 1 0 4.1 0a2.05 1.3 0 1 0 -4.1 0 M618.37 533.05a2.05 1.3 0 1 0 4.1 0a2.05 1.3 0 1 0 -4.1 0 M618.88 530.46a2.05 1.3 0 1 0 4.1 0a2.05 1.3 0 1 0 -4.1 0 M619.48 535.09a2.05 1.3 0 1 0 4.1 0a2.05 1.3 0 1 0 -4.1 0 M619.83 534.2a2.05 1.3 0 1 0 4.1 0a2.05 1.3 0 1 0 -4.1 0 M620.35 533.09a2.05 1.3 0 1 0 4.1 0a2.05 1.3 0 1 0 -4.1 0 M620.94 534.46a2.05 1.3 0 1 0 4.1 0a2.05 1.3 0 1 0 -4.1 0 M621.32 534.07a2.05 1.3 0 1 0 4.1 0a2.05 1.3 0 1 0 -4.1 0 M621.62 535.32a2.05 1.3 0 1 0 4.1 0a2.05 1.3 0 1 0 -4.1 0 M622.32 535a2.05 1.3 0 1 0 4.1 0a2.05 1.3 0 1 0 -4.1 0 M622.82 530.46a2.05 1.3 0 1 0 4.1 0a2.05 1.3 0 1 0 -4.1 0 M622.97 534.61a2.05 1.3 0 1 0 4.1 0a2.05 1.3 0 1 0 -4.1 0 M623.79 533.08a2.05 1.3 0 1 0 4.1 0a2.05 1.3 0 1 0 -4.1 0 M624.28 535.11a2.05 1.3 0 1 0 4.1 0a2.05 1.3 0 1 0 -4.1 0 M624.65 534.28a2.05 1.3 0 1 0 4.1 0a2.05 1.3 0 1 0 -4.1 0 M625.09 534.07a2.05 1.3 0 1 0 4.1 0a2.05 1.3 0 1 0 -4.1 0 M624.88 533.83a2.05 1.3 0 1 0 4.1 0a2.05 1.3 0 1 0 -4.1 0 M625.64 533.74a2.05 1.3 0 1 0 4.1 0a2.05 1.3 0 1 0 -4.1 0 M625.29 535.15a2.05 1.3 0 1 0 4.1 0a2.05 1.3 0 1 0 -4.1 0 M625.91 532.8a2.05 1.3 0 1 0 4.1 0a2.05 1.3 0 1 0 -4.1 0 M626.15 534.37a2.05 1.3 0 1 0 4.1 0a2.05 1.3 0 1 0 -4.1 0 M626.5 534.88a2.05 1.3 0 1 0 4.1 0a2.05 1.3 0 1 0 -4.1 0 M626.97 534.84a2.05 1.3 0 1 0 4.1 0a2.05 1.3 0 1 0 -4.1 0 M626.7 535.08a2.05 1.3 0 1 0 4.1 0a2.05 1.3 0 1 0 -4.1 0 M627.54 534.73a2.05 1.3 0 1 0 4.1 0a2.05 1.3 0 1 0 -4.1 0 M627.78 532.66a2.05 1.3 0 1 0 4.1 0a2.05 1.3 0 1 0 -4.1 0 M627.8 532.63a2.05 1.3 0 1 0 4.1 0a2.05 1.3 0 1 0 -4.1 0 M628.18 534.73a2.05 1.3 0 1 0 4.1 0a2.05 1.3 0 1 0 -4.1 0 M628.69 532.68a2.05 1.3 0 1 0 4.1 0a2.05 1.3 0 1 0 -4.1 0 M629.06 534.49a2.05 1.3 0 1 0 4.1 0a2.05 1.3 0 1 0 -4.1 0 M629.71 533.96a2.05 1.3 0 1 0 4.1 0a2.05 1.3 0 1 0 -4.1 0" fill="none" stroke="#dc4a68" stroke-width="0.6"/>
<path d="M438.15 410.1a2.05 1.3 0 1 0 4.1 0a2.05 1.3 0 1 0 -4.1 0 M442.35 416a2.05 1.3 0 1 0 4.1 0a2.05 1.3 0 1 0 -4.1 0 M439.85 418.2a2.05 1.3 0 1 0 4.1 0a2.05 1.3 0 1 0 -4.1 0 M454.05 411.8a2.05 1.3 0 1 0 4.1 0a2.05 1.3 0 1 0 -4.1 0 M456.55 411.8a2.05 1.3 0 1 0 4.1 0a2.05 1.3 0 1 0 -4.1 0 M459.15 412.6a2.05 1.3 0 1 0 4.1 0a2.05 1.3 0 1 0 -4.1 0 M457.45 415.1a2.05 1.3 0 1 0 4.1 0a2.05 1.3 0 1 0 -4.1 0 M460.75 416.5a2.05 1.3 0 1 0 4.1 0a2.05 1.3 0 1 0 -4.1 0 M458.25 418.5a2.05 1.3 0 1 0 4.1 0a2.05 1.3 0 1 0 -4.1 0 M456.25 421.9a2.05 1.3 0 1 0 4.1 0a2.05 1.3 0 1 0 -4.1 0 M460.25 425.2a2.05 1.3 0 1 0 4.1 0a2.05 1.3 0 1 0 -4.1 0 M466.65 414.8a2.05 1.3 0 1 0 4.1 0a2.05 1.3 0 1 0 -4.1 0 M469.65 421.9a2.05 1.3 0 1 0 4.1 0a2.05 1.3 0 1 0 -4.1 0 M471.75 411.3a2.05 1.3 0 1 0 4.1 0a2.05 1.3 0 1 0 -4.1 0 M476.45 413.1a2.05 1.3 0 1 0 4.1 0a2.05 1.3 0 1 0 -4.1 0 M490.15 411.8a2.05 1.3 0 1 0 4.1 0a2.05 1.3 0 1 0 -4.1 0 M496.05 413.1a2.05 1.3 0 1 0 4.1 0a2.05 1.3 0 1 0 -4.1 0 M500.55 412.6a2.05 1.3 0 1 0 4.1 0a2.05 1.3 0 1 0 -4.1 0 M498.25 420.2a2.05 1.3 0 1 0 4.1 0a2.05 1.3 0 1 0 -4.1 0 M511.95 416.8a2.05 1.3 0 1 0 4.1 0a2.05 1.3 0 1 0 -4.1 0 M522.95 420.2a2.05 1.3 0 1 0 4.1 0a2.05 1.3 0 1 0 -4.1 0 M483.75 429.4a2.05 1.3 0 1 0 4.1 0a2.05 1.3 0 1 0 -4.1 0 M493.85 427.2a2.05 1.3 0 1 0 4.1 0a2.05 1.3 0 1 0 -4.1 0 M509.45 427.2a2.05 1.3 0 1 0 4.1 0a2.05 1.3 0 1 0 -4.1 0 M517.85 426.9a2.05 1.3 0 1 0 4.1 0a2.05 1.3 0 1 0 -4.1 0 M499.95 432.4a2.05 1.3 0 1 0 4.1 0a2.05 1.3 0 1 0 -4.1 0 M432.75 430.6a2.05 1.3 0 1 0 4.1 0a2.05 1.3 0 1 0 -4.1 0 M434.75 439.5a2.05 1.3 0 1 0 4.1 0a2.05 1.3 0 1 0 -4.1 0 M481.45 439.5a2.05 1.3 0 1 0 4.1 0a2.05 1.3 0 1 0 -4.1 0 M473.75 441.2a2.05 1.3 0 1 0 4.1 0a2.05 1.3 0 1 0 -4.1 0 M500.25 438.6a2.05 1.3 0 1 0 4.1 0a2.05 1.3 0 1 0 -4.1 0 M512.85 439a2.05 1.3 0 1 0 4.1 0a2.05 1.3 0 1 0 -4.1 0 M436.15 448.7a2.05 1.3 0 1 0 4.1 0a2.05 1.3 0 1 0 -4.1 0 M443.65 451.2a2.05 1.3 0 1 0 4.1 0a2.05 1.3 0 1 0 -4.1 0 M451.55 448.7a2.05 1.3 0 1 0 4.1 0a2.05 1.3 0 1 0 -4.1 0 M449.05 455.8a2.05 1.3 0 1 0 4.1 0a2.05 1.3 0 1 0 -4.1 0 M429.75 460.5a2.05 1.3 0 1 0 4.1 0a2.05 1.3 0 1 0 -4.1 0 M429.75 535a2.05 1.3 0 1 0 4.1 0a2.05 1.3 0 1 0 -4.1 0 M425.55 534.6a2.05 1.3 0 1 0 4.1 0a2.05 1.3 0 1 0 -4.1 0 M428.05 529.2a2.05 1.3 0 1 0 4.1 0a2.05 1.3 0 1 0 -4.1 0 M428.95 524a2.05 1.3 0 1 0 4.1 0a2.05 1.3 0 1 0 -4.1 0 M433.95 526.2a2.05 1.3 0 1 0 4.1 0a2.05 1.3 0 1 0 -4.1 0 M428.35 502.7a2.05 1.3 0 1 0 4.1 0a2.05 1.3 0 1 0 -4.1 0 M429.75 500.2a2.05 1.3 0 1 0 4.1 0a2.05 1.3 0 1 0 -4.1 0 M433.05 493.1a2.05 1.3 0 1 0 4.1 0a2.05 1.3 0 1 0 -4.1 0 M426.05 488.8a2.05 1.3 0 1 0 4.1 0a2.05 1.3 0 1 0 -4.1 0 M426.35 480.9a2.05 1.3 0 1 0 4.1 0a2.05 1.3 0 1 0 -4.1 0 M427.25 475a2.05 1.3 0 1 0 4.1 0a2.05 1.3 0 1 0 -4.1 0 M450.75 475a2.05 1.3 0 1 0 4.1 0a2.05 1.3 0 1 0 -4.1 0 M525.45 506.5a2.05 1.3 0 1 0 4.1 0a2.05 1.3 0 1 0 -4.1 0 M526.35 411.8a2.05 1.3 0 1 0 4.1 0a2.05 1.3 0 1 0 -4.1 0 M538.95 413.5a2.05 1.3 0 1 0 4.1 0a2.05 1.3 0 1 0 -4.1 0 M546.45 413.1a2.05 1.3 0 1 0 4.1 0a2.05 1.3 0 1 0 -4.1 0 M549.85 413.1a2.05 1.3 0 1 0 4.1 0a2.05 1.3 0 1 0 -4.1 0 M558.25 411.5a2.05 1.3 0 1 0 4.1 0a2.05 1.3 0 1 0 -4.1 0 M563.25 411.8a2.05 1.3 0 1 0 4.1 0a2.05 1.3 0 1 0 -4.1 0 M567.45 411.8a2.05 1.3 0 1 0 4.1 0a2.05 1.3 0 1 0 -4.1 0 M571.65 411.8a2.05 1.3 0 1 0 4.1 0a2.05 1.3 0 1 0 -4.1 0 M562.35 414.8a2.05 1.3 0 1 0 4.1 0a2.05 1.3 0 1 0 -4.1 0 M565.75 414.3a2.05 1.3 0 1 0 4.1 0a2.05 1.3 0 1 0 -4.1 0 M582.55 411a2.05 1.3 0 1 0 4.1 0a2.05 1.3 0 1 0 -4.1 0 M599.35 411.3a2.05 1.3 0 1 0 4.1 0a2.05 1.3 0 1 0 -4.1 0 M616.15 412.6a2.05 1.3 0 1 0 4.1 0a2.05 1.3 0 1 0 -4.1 0 M625.65 411.3a2.05 1.3 0 1 0 4.1 0a2.05 1.3 0 1 0 -4.1 0 M523.75 420.2a2.05 1.3 0 1 0 4.1 0a2.05 1.3 0 1 0 -4.1 0 M530.55 420.7a2.05 1.3 0 1 0 4.1 0a2.05 1.3 0 1 0 -4.1 0 M541.75 420.2a2.05 1.3 0 1 0 4.1 0a2.05 1.3 0 1 0 -4.1 0 M551.85 417.3a2.05 1.3 0 1 0 4.1 0a2.05 1.3 0 1 0 -4.1 0 M566.25 419.8a2.05 1.3 0 1 0 4.1 0a2.05 1.3 0 1 0 -4.1 0 M576.95 416a2.05 1.3 0 1 0 4.1 0a2.05 1.3 0 1 0 -4.1 0 M595.95 416.8a2.05 1.3 0 1 0 4.1 0a2.05 1.3 0 1 0 -4.1 0 M597.15 416.5a2.05 1.3 0 1 0 4.1 0a2.05 1.3 0 1 0 -4.1 0 M607.25 416a2.05 1.3 0 1 0 4.1 0a2.05 1.3 0 1 0 -4.1 0 M613.55 418.2a2.05 1.3 0 1 0 4.1 0a2.05 1.3 0 1 0 -4.1 0 M608.55 420.5a2.05 1.3 0 1 0 4.1 0a2.05 1.3 0 1 0 -4.1 0 M621.15 421.5a2.05 1.3 0 1 0 4.1 0a2.05 1.3 0 1 0 -4.1 0 M575.35 425.7a2.05 1.3 0 1 0 4.1 0a2.05 1.3 0 1 0 -4.1 0 M598.15 424.9a2.05 1.3 0 1 0 4.1 0a2.05 1.3 0 1 0 -4.1 0 M604.85 425.2a2.05 1.3 0 1 0 4.1 0a2.05 1.3 0 1 0 -4.1 0 M627.85 426.1a2.05 1.3 0 1 0 4.1 0a2.05 1.3 0 1 0 -4.1 0 M614.45 429.4a2.05 1.3 0 1 0 4.1 0a2.05 1.3 0 1 0 -4.1 0 M545.65 433.3a2.05 1.3 0 1 0 4.1 0a2.05 1.3 0 1 0 -4.1 0 M547.25 432.8a2.05 1.3 0 1 0 4.1 0a2.05 1.3 0 1 0 -4.1 0 M604.35 434.4a2.05 1.3 0 1 0 4.1 0a2.05 1.3 0 1 0 -4.1 0 M581.35 443.2a2.05 1.3 0 1 0 4.1 0a2.05 1.3 0 1 0 -4.1 0 M583.05 450.7a2.05 1.3 0 1 0 4.1 0a2.05 1.3 0 1 0 -4.1 0 M571.65 456.6a2.05 1.3 0 1 0 4.1 0a2.05 1.3 0 1 0 -4.1 0 M622.85 466.8a2.05 1.3 0 1 0 4.1 0a2.05 1.3 0 1 0 -4.1 0 M569.95 508.2a2.05 1.3 0 1 0 4.1 0a2.05 1.3 0 1 0 -4.1 0 M573.35 503.5a2.05 1.3 0 1 0 4.1 0a2.05 1.3 0 1 0 -4.1 0 M570.75 473.7a2.05 1.3 0 1 0 4.1 0a2.05 1.3 0 1 0 -4.1 0 M588.05 474.7a2.05 1.3 0 1 0 4.1 0a2.05 1.3 0 1 0 -4.1 0 M430.55 534.7a2.05 1.3 0 1 0 4.1 0a2.05 1.3 0 1 0 -4.1 0 M433.05 535a2.05 1.3 0 1 0 4.1 0a2.05 1.3 0 1 0 -4.1 0 M434.9 406.53a2.05 1.3 0 1 0 4.1 0a2.05 1.3 0 1 0 -4.1 0 M435.24 406.86a2.05 1.3 0 1 0 4.1 0a2.05 1.3 0 1 0 -4.1 0 M435.79 408.27a2.05 1.3 0 1 0 4.1 0a2.05 1.3 0 1 0 -4.1 0 M436.08 405.65a2.05 1.3 0 1 0 4.1 0a2.05 1.3 0 1 0 -4.1 0 M436.34 408.26a2.05 1.3 0 1 0 4.1 0a2.05 1.3 0 1 0 -4.1 0 M436.87 405.48a2.05 1.3 0 1 0 4.1 0a2.05 1.3 0 1 0 -4.1 0 M437.38 406.45a2.05 1.3 0 1 0 4.1 0a2.05 1.3 0 1 0 -4.1 0 M437.86 405.31a2.05 1.3 0 1 0 4.1 0a2.05 1.3 0 1 0 -4.1 0 M438.03 405.81a2.05 1.3 0 1 0 4.1 0a2.05 1.3 0 1 0 -4.1 0 M438.77 406.28a2.05 1.3 0 1 0 4.1 0a2.05 1.3 0 1 0 -4.1 0 M439.32 407.32a2.05 1.3 0 1 0 4.1 0a2.05 1.3 0 1 0 -4.1 0 M439.6 407.93a2.05 1.3 0 1 0 4.1 0a2.05 1.3 0 1 0 -4.1 0 M439.93 408.77a2.05 1.3 0 1 0 4.1 0a2.05 1.3 0 1 0 -4.1 0 M440.74 405.61a2.05 1.3 0 1 0 4.1 0a2.05 1.3 0 1 0 -4.1 0 M440.6 406.17a2.05 1.3 0 1 0 4.1 0a2.05 1.3 0 1 0 -4.1 0 M440.98 406.4a2.05 1.3 0 1 0 4.1 0a2.05 1.3 0 1 0 -4.1 0 M441.52 406.69a2.05 1.3 0 1 0 4.1 0a2.05 1.3 0 1 0 -4.1 0 M442.13 407.14a2.05 1.3 0 1 0 4.1 0a2.05 1.3 0 1 0 -4.1 0 M442.49 410.14a2.05 1.3 0 1 0 4.1 0a2.05 1.3 0 1 0 -4.1 0 M443.07 408.53a2.05 1.3 0 1 0 4.1 0a2.05 1.3 0 1 0 -4.1 0 M443.44 406.62a2.05 1.3 0 1 0 4.1 0a2.05 1.3 0 1 0 -4.1 0 M443.85 408.21a2.05 1.3 0 1 0 4.1 0a2.05 1.3 0 1 0 -4.1 0 M444.43 405.31a2.05 1.3 0 1 0 4.1 0a2.05 1.3 0 1 0 -4.1 0 M444.88 405.36a2.05 1.3 0 1 0 4.1 0a2.05 1.3 0 1 0 -4.1 0 M445.14 405.48a2.05 1.3 0 1 0 4.1 0a2.05 1.3 0 1 0 -4.1 0 M445.51 408.69a2.05 1.3 0 1 0 4.1 0a2.05 1.3 0 1 0 -4.1 0 M446.25 405.28a2.05 1.3 0 1 0 4.1 0a2.05 1.3 0 1 0 -4.1 0 M446.82 408.8a2.05 1.3 0 1 0 4.1 0a2.05 1.3 0 1 0 -4.1 0 M447.02 410.14a2.05 1.3 0 1 0 4.1 0a2.05 1.3 0 1 0 -4.1 0 M447.37 406.75a2.05 1.3 0 1 0 4.1 0a2.05 1.3 0 1 0 -4.1 0 M447.52 405.57a2.05 1.3 0 1 0 4.1 0a2.05 1.3 0 1 0 -4.1 0 M447.84 405.49a2.05 1.3 0 1 0 4.1 0a2.05 1.3 0 1 0 -4.1 0 M448.68 405.84a2.05 1.3 0 1 0 4.1 0a2.05 1.3 0 1 0 -4.1 0 M448.94 406a2.05 1.3 0 1 0 4.1 0a2.05 1.3 0 1 0 -4.1 0 M449.47 406.95a2.05 1.3 0 1 0 4.1 0a2.05 1.3 0 1 0 -4.1 0 M450.07 406.84a2.05 1.3 0 1 0 4.1 0a2.05 1.3 0 1 0 -4.1 0 M450.45 406.15a2.05 1.3 0 1 0 4.1 0a2.05 1.3 0 1 0 -4.1 0 M451.02 405.81a2.05 1.3 0 1 0 4.1 0a2.05 1.3 0 1 0 -4.1 0 M451.1 406.54a2.05 1.3 0 1 0 4.1 0a2.05 1.3 0 1 0 -4.1 0 M451.57 406.67a2.05 1.3 0 1 0 4.1 0a2.05 1.3 0 1 0 -4.1 0 M452.05 406.89a2.05 1.3 0 1 0 4.1 0a2.05 1.3 0 1 0 -4.1 0 M452.77 406.26a2.05 1.3 0 1 0 4.1 0a2.05 1.3 0 1 0 -4.1 0 M453.26 407.28a2.05 1.3 0 1 0 4.1 0a2.05 1.3 0 1 0 -4.1 0 M453.7 405.31a2.05 1.3 0 1 0 4.1 0a2.05 1.3 0 1 0 -4.1 0 M453.53 410.14a2.05 1.3 0 1 0 4.1 0a2.05 1.3 0 1 0 -4.1 0 M454.03 406.72a2.05 1.3 0 1 0 4.1 0a2.05 1.3 0 1 0 -4.1 0 M454.51 405.83a2.05 1.3 0 1 0 4.1 0a2.05 1.3 0 1 0 -4.1 0 M454.98 405.8a2.05 1.3 0 1 0 4.1 0a2.05 1.3 0 1 0 -4.1 0 M455.53 405.25a2.05 1.3 0 1 0 4.1 0a2.05 1.3 0 1 0 -4.1 0 M455.85 405.83a2.05 1.3 0 1 0 4.1 0a2.05 1.3 0 1 0 -4.1 0 M456.31 405.66a2.05 1.3 0 1 0 4.1 0a2.05 1.3 0 1 0 -4.1 0 M456.74 407.23a2.05 1.3 0 1 0 4.1 0a2.05 1.3 0 1 0 -4.1 0 M457.5 405.89a2.05 1.3 0 1 0 4.1 0a2.05 1.3 0 1 0 -4.1 0 M457.7 408.47a2.05 1.3 0 1 0 4.1 0a2.05 1.3 0 1 0 -4.1 0 M458.45 406.98a2.05 1.3 0 1 0 4.1 0a2.05 1.3 0 1 0 -4.1 0 M458.62 405.63a2.05 1.3 0 1 0 4.1 0a2.05 1.3 0 1 0 -4.1 0 M459.36 405.56a2.05 1.3 0 1 0 4.1 0a2.05 1.3 0 1 0 -4.1 0 M459.61 405.54a2.05 1.3 0 1 0 4.1 0a2.05 1.3 0 1 0 -4.1 0 M460.29 406.94a2.05 1.3 0 1 0 4.1 0a2.05 1.3 0 1 0 -4.1 0 M460.55 405.43a2.05 1.3 0 1 0 4.1 0a2.05 1.3 0 1 0 -4.1 0 M461.04 405.73a2.05 1.3 0 1 0 4.1 0a2.05 1.3 0 1 0 -4.1 0 M461.53 406.12a2.05 1.3 0 1 0 4.1 0a2.05 1.3 0 1 0 -4.1 0 M461.84 405.49a2.05 1.3 0 1 0 4.1 0a2.05 1.3 0 1 0 -4.1 0 M462.7 408.79a2.05 1.3 0 1 0 4.1 0a2.05 1.3 0 1 0 -4.1 0 M463.14 410.14a2.05 1.3 0 1 0 4.1 0a2.05 1.3 0 1 0 -4.1 0 M463.57 407.51a2.05 1.3 0 1 0 4.1 0a2.05 1.3 0 1 0 -4.1 0 M463.82 406.44a2.05 1.3 0 1 0 4.1 0a2.05 1.3 0 1 0 -4.1 0 M464.2 405.64a2.05 1.3 0 1 0 4.1 0a2.05 1.3 0 1 0 -4.1 0 M464.96 405.77a2.05 1.3 0 1 0 4.1 0a2.05 1.3 0 1 0 -4.1 0 M465.38 409.16a2.05 1.3 0 1 0 4.1 0a2.05 1.3 0 1 0 -4.1 0 M465.46 409.56a2.05 1.3 0 1 0 4.1 0a2.05 1.3 0 1 0 -4.1 0 M465.58 406.65a2.05 1.3 0 1 0 4.1 0a2.05 1.3 0 1 0 -4.1 0 M466.16 405.52a2.05 1.3 0 1 0 4.1 0a2.05 1.3 0 1 0 -4.1 0 M466.67 406.46a2.05 1.3 0 1 0 4.1 0a2.05 1.3 0 1 0 -4.1 0 M467.11 406.8a2.05 1.3 0 1 0 4.1 0a2.05 1.3 0 1 0 -4.1 0 M467.63 408.55a2.05 1.3 0 1 0 4.1 0a2.05 1.3 0 1 0 -4.1 0 M467.99 405.93a2.05 1.3 0 1 0 4.1 0a2.05 1.3 0 1 0 -4.1 0 M468.44 408.07a2.05 1.3 0 1 0 4.1 0a2.05 1.3 0 1 0 -4.1 0 M469.16 409.51a2.05 1.3 0 1 0 4.1 0a2.05 1.3 0 1 0 -4.1 0 M469.56 405.21a2.05 1.3 0 1 0 4.1 0a2.05 1.3 0 1 0 -4.1 0 M469.88 405.29a2.05 1.3 0 1 0 4.1 0a2.05 1.3 0 1 0 -4.1 0 M470.41 406.47a2.05 1.3 0 1 0 4.1 0a2.05 1.3 0 1 0 -4.1 0 M470.71 407.73a2.05 1.3 0 1 0 4.1 0a2.05 1.3 0 1 0 -4.1 0 M471.23 405.43a2.05 1.3 0 1 0 4.1 0a2.05 1.3 0 1 0 -4.1 0 M471.57 405.32a2.05 1.3 0 1 0 4.1 0a2.05 1.3 0 1 0 -4.1 0 M471.84 405.35a2.05 1.3 0 1 0 4.1 0a2.05 1.3 0 1 0 -4.1 0 M472.25 405.84a2.05 1.3 0 1 0 4.1 0a2.05 1.3 0 1 0 -4.1 0 M472.72 406.69a2.05 1.3 0 1 0 4.1 0a2.05 1.3 0 1 0 -4.1 0 M473.09 405.87a2.05 1.3 0 1 0 4.1 0a2.05 1.3 0 1 0 -4.1 0 M473.66 407.33a2.05 1.3 0 1 0 4.1 0a2.05 1.3 0 1 0 -4.1 0 M474.13 405.53a2.05 1.3 0 1 0 4.1 0a2.05 1.3 0 1 0 -4.1 0 M474.29 406.77a2.05 1.3 0 1 0 4.1 0a2.05 1.3 0 1 0 -4.1 0 M474.69 407.93a2.05 1.3 0 1 0 4.1 0a2.05 1.3 0 1 0 -4.1 0 M475.11 405.99a2.05 1.3 0 1 0 4.1 0a2.05 1.3 0 1 0 -4.1 0 M475.66 406.12a2.05 1.3 0 1 0 4.1 0a2.05 1.3 0 1 0 -4.1 0 M476.06 405.68a2.05 1.3 0 1 0 4.1 0a2.05 1.3 0 1 0 -4.1 0 M476.48 405.33a2.05 1.3 0 1 0 4.1 0a2.05 1.3 0 1 0 -4.1 0 M477.15 408.78a2.05 1.3 0 1 0 4.1 0a2.05 1.3 0 1 0 -4.1 0 M477.56 409.06a2.05 1.3 0 1 0 4.1 0a2.05 1.3 0 1 0 -4.1 0 M477.76 406.26a2.05 1.3 0 1 0 4.1 0a2.05 1.3 0 1 0 -4.1 0 M478.54 407.04a2.05 1.3 0 1 0 4.1 0a2.05 1.3 0 1 0 -4.1 0 M478.94 407.06a2.05 1.3 0 1 0 4.1 0a2.05 1.3 0 1 0 -4.1 0 M479.35 405.38a2.05 1.3 0 1 0 4.1 0a2.05 1.3 0 1 0 -4.1 0 M479.89 405.46a2.05 1.3 0 1 0 4.1 0a2.05 1.3 0 1 0 -4.1 0 M479.62 405.28a2.05 1.3 0 1 0 4.1 0a2.05 1.3 0 1 0 -4.1 0 M480.12 408.79a2.05 1.3 0 1 0 4.1 0a2.05 1.3 0 1 0 -4.1 0 M480.39 405.24a2.05 1.3 0 1 0 4.1 0a2.05 1.3 0 1 0 -4.1 0 M480.79 408.34a2.05 1.3 0 1 0 4.1 0a2.05 1.3 0 1 0 -4.1 0 M480.9 408.26a2.05 1.3 0 1 0 4.1 0a2.05 1.3 0 1 0 -4.1 0 M481 407.91a2.05 1.3 0 1 0 4.1 0a2.05 1.3 0 1 0 -4.1 0 M481.74 406.41a2.05 1.3 0 1 0 4.1 0a2.05 1.3 0 1 0 -4.1 0 M482.29 407.54a2.05 1.3 0 1 0 4.1 0a2.05 1.3 0 1 0 -4.1 0 M482.05 405.31a2.05 1.3 0 1 0 4.1 0a2.05 1.3 0 1 0 -4.1 0 M482.48 408.18a2.05 1.3 0 1 0 4.1 0a2.05 1.3 0 1 0 -4.1 0 M483.1 405.69a2.05 1.3 0 1 0 4.1 0a2.05 1.3 0 1 0 -4.1 0 M483.46 406.05a2.05 1.3 0 1 0 4.1 0a2.05 1.3 0 1 0 -4.1 0 M483.95 405.93a2.05 1.3 0 1 0 4.1 0a2.05 1.3 0 1 0 -4.1 0 M484.64 406.37a2.05 1.3 0 1 0 4.1 0a2.05 1.3 0 1 0 -4.1 0 M484.55 406.1a2.05 1.3 0 1 0 4.1 0a2.05 1.3 0 1 0 -4.1 0 M485.02 407.19a2.05 1.3 0 1 0 4.1 0a2.05 1.3 0 1 0 -4.1 0 M485.38 406.43a2.05 1.3 0 1 0 4.1 0a2.05 1.3 0 1 0 -4.1 0 M485.71 409.05a2.05 1.3 0 1 0 4.1 0a2.05 1.3 0 1 0 -4.1 0 M486.49 407.53a2.05 1.3 0 1 0 4.1 0a2.05 1.3 0 1 0 -4.1 0 M486.3 406.43a2.05 1.3 0 1 0 4.1 0a2.05 1.3 0 1 0 -4.1 0 M486.69 405.55a2.05 1.3 0 1 0 4.1 0a2.05 1.3 0 1 0 -4.1 0 M487.18 406.69a2.05 1.3 0 1 0 4.1 0a2.05 1.3 0 1 0 -4.1 0 M487.9 407.19a2.05 1.3 0 1 0 4.1 0a2.05 1.3 0 1 0 -4.1 0 M488.15 407.27a2.05 1.3 0 1 0 4.1 0a2.05 1.3 0 1 0 -4.1 0 M488.56 406.69a2.05 1.3 0 1 0 4.1 0a2.05 1.3 0 1 0 -4.1 0 M489.11 405.24a2.05 1.3 0 1 0 4.1 0a2.05 1.3 0 1 0 -4.1 0 M489.53 405.52a2.05 1.3 0 1 0 4.1 0a2.05 1.3 0 1 0 -4.1 0 M489.91 407.72a2.05 1.3 0 1 0 4.1 0a2.05 1.3 0 1 0 -4.1 0 M490.56 406.3a2.05 1.3 0 1 0 4.1 0a2.05 1.3 0 1 0 -4.1 0 M491.12 408.24a2.05 1.3 0 1 0 4.1 0a2.05 1.3 0 1 0 -4.1 0 M491.55 406.31a2.05 1.3 0 1 0 4.1 0a2.05 1.3 0 1 0 -4.1 0 M492.02 406.06a2.05 1.3 0 1 0 4.1 0a2.05 1.3 0 1 0 -4.1 0 M492.28 406.27a2.05 1.3 0 1 0 4.1 0a2.05 1.3 0 1 0 -4.1 0 M492.93 407.34a2.05 1.3 0 1 0 4.1 0a2.05 1.3 0 1 0 -4.1 0 M493.22 408.45a2.05 1.3 0 1 0 4.1 0a2.05 1.3 0 1 0 -4.1 0 M493.67 405.71a2.05 1.3 0 1 0 4.1 0a2.05 1.3 0 1 0 -4.1 0 M494.42 408.51a2.05 1.3 0 1 0 4.1 0a2.05 1.3 0 1 0 -4.1 0 M494.65 408.59a2.05 1.3 0 1 0 4.1 0a2.05 1.3 0 1 0 -4.1 0 M495.03 407.41a2.05 1.3 0 1 0 4.1 0a2.05 1.3 0 1 0 -4.1 0 M495.58 408.24a2.05 1.3 0 1 0 4.1 0a2.05 1.3 0 1 0 -4.1 0 M495.69 405.95a2.05 1.3 0 1 0 4.1 0a2.05 1.3 0 1 0 -4.1 0 M496.06 405.21a2.05 1.3 0 1 0 4.1 0a2.05 1.3 0 1 0 -4.1 0 M496.48 406.33a2.05 1.3 0 1 0 4.1 0a2.05 1.3 0 1 0 -4.1 0 M497.02 410.14a2.05 1.3 0 1 0 4.1 0a2.05 1.3 0 1 0 -4.1 0 M497.44 405.41a2.05 1.3 0 1 0 4.1 0a2.05 1.3 0 1 0 -4.1 0 M498.15 405.4a2.05 1.3 0 1 0 4.1 0a2.05 1.3 0 1 0 -4.1 0 M498.64 405.37a2.05 1.3 0 1 0 4.1 0a2.05 1.3 0 1 0 -4.1 0 M499.03 407.7a2.05 1.3 0 1 0 4.1 0a2.05 1.3 0 1 0 -4.1 0 M499.46 407.11a2.05 1.3 0 1 0 4.1 0a2.05 1.3 0 1 0 -4.1 0 M499.96 405.72a2.05 1.3 0 1 0 4.1 0a2.05 1.3 0 1 0 -4.1 0 M500.34 407.09a2.05 1.3 0 1 0 4.1 0a2.05 1.3 0 1 0 -4.1 0 M500.74 406.35a2.05 1.3 0 1 0 4.1 0a2.05 1.3 0 1 0 -4.1 0 M500.87 407.34a2.05 1.3 0 1 0 4.1 0a2.05 1.3 0 1 0 -4.1 0 M501.32 405.54a2.05 1.3 0 1 0 4.1 0a2.05 1.3 0 1 0 -4.1 0 M501.89 405.53a2.05 1.3 0 1 0 4.1 0a2.05 1.3 0 1 0 -4.1 0 M502.37 405.42a2.05 1.3 0 1 0 4.1 0a2.05 1.3 0 1 0 -4.1 0 M502.75 405.88a2.05 1.3 0 1 0 4.1 0a2.05 1.3 0 1 0 -4.1 0 M502.69 406.74a2.05 1.3 0 1 0 4.1 0a2.05 1.3 0 1 0 -4.1 0 M503.06 406.23a2.05 1.3 0 1 0 4.1 0a2.05 1.3 0 1 0 -4.1 0 M503.69 405.32a2.05 1.3 0 1 0 4.1 0a2.05 1.3 0 1 0 -4.1 0 M504.16 406.52a2.05 1.3 0 1 0 4.1 0a2.05 1.3 0 1 0 -4.1 0 M504.49 405.72a2.05 1.3 0 1 0 4.1 0a2.05 1.3 0 1 0 -4.1 0 M505 405.27a2.05 1.3 0 1 0 4.1 0a2.05 1.3 0 1 0 -4.1 0 M505.41 407.68a2.05 1.3 0 1 0 4.1 0a2.05 1.3 0 1 0 -4.1 0 M505.95 406.07a2.05 1.3 0 1 0 4.1 0a2.05 1.3 0 1 0 -4.1 0 M506.54 405.94a2.05 1.3 0 1 0 4.1 0a2.05 1.3 0 1 0 -4.1 0 M506.71 405.73a2.05 1.3 0 1 0 4.1 0a2.05 1.3 0 1 0 -4.1 0 M506.98 405.4a2.05 1.3 0 1 0 4.1 0a2.05 1.3 0 1 0 -4.1 0 M507.21 405.55a2.05 1.3 0 1 0 4.1 0a2.05 1.3 0 1 0 -4.1 0 M507.93 407.5a2.05 1.3 0 1 0 4.1 0a2.05 1.3 0 1 0 -4.1 0 M508.13 406.72a2.05 1.3 0 1 0 4.1 0a2.05 1.3 0 1 0 -4.1 0 M508.75 405.56a2.05 1.3 0 1 0 4.1 0a2.05 1.3 0 1 0 -4.1 0 M509.1 405.58a2.05 1.3 0 1 0 4.1 0a2.05 1.3 0 1 0 -4.1 0 M509.79 405.25a2.05 1.3 0 1 0 4.1 0a2.05 1.3 0 1 0 -4.1 0 M510.09 410.14a2.05 1.3 0 1 0 4.1 0a2.05 1.3 0 1 0 -4.1 0 M510.66 406.68a2.05 1.3 0 1 0 4.1 0a2.05 1.3 0 1 0 -4.1 0 M510.99 407.16a2.05 1.3 0 1 0 4.1 0a2.05 1.3 0 1 0 -4.1 0 M511.58 406.32a2.05 1.3 0 1 0 4.1 0a2.05 1.3 0 1 0 -4.1 0 M512.11 405.2a2.05 1.3 0 1 0 4.1 0a2.05 1.3 0 1 0 -4.1 0 M512.48 406.35a2.05 1.3 0 1 0 4.1 0a2.05 1.3 0 1 0 -4.1 0 M512.95 405.56a2.05 1.3 0 1 0 4.1 0a2.05 1.3 0 1 0 -4.1 0 M513.46 406.37a2.05 1.3 0 1 0 4.1 0a2.05 1.3 0 1 0 -4.1 0 M513.43 406.19a2.05 1.3 0 1 0 4.1 0a2.05 1.3 0 1 0 -4.1 0 M513.73 408.96a2.05 1.3 0 1 0 4.1 0a2.05 1.3 0 1 0 -4.1 0 M514.16 406.85a2.05 1.3 0 1 0 4.1 0a2.05 1.3 0 1 0 -4.1 0 M514.64 405.65a2.05 1.3 0 1 0 4.1 0a2.05 1.3 0 1 0 -4.1 0 M515.2 409.69a2.05 1.3 0 1 0 4.1 0a2.05 1.3 0 1 0 -4.1 0 M515.59 407.21a2.05 1.3 0 1 0 4.1 0a2.05 1.3 0 1 0 -4.1 0 M516.38 406.75a2.05 1.3 0 1 0 4.1 0a2.05 1.3 0 1 0 -4.1 0 M516.61 407.48a2.05 1.3 0 1 0 4.1 0a2.05 1.3 0 1 0 -4.1 0 M517.29 409.74a2.05 1.3 0 1 0 4.1 0a2.05 1.3 0 1 0 -4.1 0 M517.6 407.59a2.05 1.3 0 1 0 4.1 0a2.05 1.3 0 1 0 -4.1 0 M517.91 405.27a2.05 1.3 0 1 0 4.1 0a2.05 1.3 0 1 0 -4.1 0 M517.94 405.58a2.05 1.3 0 1 0 4.1 0a2.05 1.3 0 1 0 -4.1 0 M518.56 407.23a2.05 1.3 0 1 0 4.1 0a2.05 1.3 0 1 0 -4.1 0 M518.93 406.97a2.05 1.3 0 1 0 4.1 0a2.05 1.3 0 1 0 -4.1 0 M519.44 407.59a2.05 1.3 0 1 0 4.1 0a2.05 1.3 0 1 0 -4.1 0 M520.03 409.08a2.05 1.3 0 1 0 4.1 0a2.05 1.3 0 1 0 -4.1 0 M520.42 405.98a2.05 1.3 0 1 0 4.1 0a2.05 1.3 0 1 0 -4.1 0 M520.68 405.63a2.05 1.3 0 1 0 4.1 0a2.05 1.3 0 1 0 -4.1 0 M521.2 407.79a2.05 1.3 0 1 0 4.1 0a2.05 1.3 0 1 0 -4.1 0 M521.7 405.57a2.05 1.3 0 1 0 4.1 0a2.05 1.3 0 1 0 -4.1 0 M522.15 406.07a2.05 1.3 0 1 0 4.1 0a2.05 1.3 0 1 0 -4.1 0 M522.61 405.4a2.05 1.3 0 1 0 4.1 0a2.05 1.3 0 1 0 -4.1 0 M522.57 406.34a2.05 1.3 0 1 0 4.1 0a2.05 1.3 0 1 0 -4.1 0 M523.18 406.21a2.05 1.3 0 1 0 4.1 0a2.05 1.3 0 1 0 -4.1 0 M523.03 407.26a2.05 1.3 0 1 0 4.1 0a2.05 1.3 0 1 0 -4.1 0 M523.49 406.05a2.05 1.3 0 1 0 4.1 0a2.05 1.3 0 1 0 -4.1 0 M523.98 405.62a2.05 1.3 0 1 0 4.1 0a2.05 1.3 0 1 0 -4.1 0 M524.66 405.5a2.05 1.3 0 1 0 4.1 0a2.05 1.3 0 1 0 -4.1 0 M524.9 405.42a2.05 1.3 0 1 0 4.1 0a2.05 1.3 0 1 0 -4.1 0 M525.66 405.74a2.05 1.3 0 1 0 4.1 0a2.05 1.3 0 1 0 -4.1 0 M525.94 409.77a2.05 1.3 0 1 0 4.1 0a2.05 1.3 0 1 0 -4.1 0 M526.61 405.72a2.05 1.3 0 1 0 4.1 0a2.05 1.3 0 1 0 -4.1 0 M526.79 405.91a2.05 1.3 0 1 0 4.1 0a2.05 1.3 0 1 0 -4.1 0 M527.45 410.14a2.05 1.3 0 1 0 4.1 0a2.05 1.3 0 1 0 -4.1 0 M527.72 405.25a2.05 1.3 0 1 0 4.1 0a2.05 1.3 0 1 0 -4.1 0 M527.7 405.52a2.05 1.3 0 1 0 4.1 0a2.05 1.3 0 1 0 -4.1 0 M528.51 407a2.05 1.3 0 1 0 4.1 0a2.05 1.3 0 1 0 -4.1 0 M528.54 405.58a2.05 1.3 0 1 0 4.1 0a2.05 1.3 0 1 0 -4.1 0 M528.98 407.95a2.05 1.3 0 1 0 4.1 0a2.05 1.3 0 1 0 -4.1 0 M529.21 405.26a2.05 1.3 0 1 0 4.1 0a2.05 1.3 0 1 0 -4.1 0 M529.59 410.14a2.05 1.3 0 1 0 4.1 0a2.05 1.3 0 1 0 -4.1 0 M530.06 408.41a2.05 1.3 0 1 0 4.1 0a2.05 1.3 0 1 0 -4.1 0 M530.76 405.89a2.05 1.3 0 1 0 4.1 0a2.05 1.3 0 1 0 -4.1 0 M531.25 405.52a2.05 1.3 0 1 0 4.1 0a2.05 1.3 0 1 0 -4.1 0 M531.64 408.25a2.05 1.3 0 1 0 4.1 0a2.05 1.3 0 1 0 -4.1 0 M532.05 405.96a2.05 1.3 0 1 0 4.1 0a2.05 1.3 0 1 0 -4.1 0 M532.55 407.76a2.05 1.3 0 1 0 4.1 0a2.05 1.3 0 1 0 -4.1 0 M533.11 405.51a2.05 1.3 0 1 0 4.1 0a2.05 1.3 0 1 0 -4.1 0 M533.44 407.3a2.05 1.3 0 1 0 4.1 0a2.05 1.3 0 1 0 -4.1 0 M534.04 405.48a2.05 1.3 0 1 0 4.1 0a2.05 1.3 0 1 0 -4.1 0 M534.52 406.26a2.05 1.3 0 1 0 4.1 0a2.05 1.3 0 1 0 -4.1 0 M534.26 407.11a2.05 1.3 0 1 0 4.1 0a2.05 1.3 0 1 0 -4.1 0 M534.94 408.34a2.05 1.3 0 1 0 4.1 0a2.05 1.3 0 1 0 -4.1 0 M535.33 408.68a2.05 1.3 0 1 0 4.1 0a2.05 1.3 0 1 0 -4.1 0 M535.76 407.43a2.05 1.3 0 1 0 4.1 0a2.05 1.3 0 1 0 -4.1 0 M536.25 405.33a2.05 1.3 0 1 0 4.1 0a2.05 1.3 0 1 0 -4.1 0 M536.78 405.39a2.05 1.3 0 1 0 4.1 0a2.05 1.3 0 1 0 -4.1 0 M537.28 405.34a2.05 1.3 0 1 0 4.1 0a2.05 1.3 0 1 0 -4.1 0 M537.04 405.67a2.05 1.3 0 1 0 4.1 0a2.05 1.3 0 1 0 -4.1 0 M537.72 406.95a2.05 1.3 0 1 0 4.1 0a2.05 1.3 0 1 0 -4.1 0 M538.34 405.64a2.05 1.3 0 1 0 4.1 0a2.05 1.3 0 1 0 -4.1 0 M538.18 405.62a2.05 1.3 0 1 0 4.1 0a2.05 1.3 0 1 0 -4.1 0 M538.67 407.77a2.05 1.3 0 1 0 4.1 0a2.05 1.3 0 1 0 -4.1 0 M538.97 406.5a2.05 1.3 0 1 0 4.1 0a2.05 1.3 0 1 0 -4.1 0 M539.69 405.34a2.05 1.3 0 1 0 4.1 0a2.05 1.3 0 1 0 -4.1 0 M540.21 405.24a2.05 1.3 0 1 0 4.1 0a2.05 1.3 0 1 0 -4.1 0 M540.18 405.58a2.05 1.3 0 1 0 4.1 0a2.05 1.3 0 1 0 -4.1 0 M540.38 406.26a2.05 1.3 0 1 0 4.1 0a2.05 1.3 0 1 0 -4.1 0 M540.54 408.19a2.05 1.3 0 1 0 4.1 0a2.05 1.3 0 1 0 -4.1 0 M541.11 407.62a2.05 1.3 0 1 0 4.1 0a2.05 1.3 0 1 0 -4.1 0 M541.4 406.76a2.05 1.3 0 1 0 4.1 0a2.05 1.3 0 1 0 -4.1 0 M541.93 408.25a2.05 1.3 0 1 0 4.1 0a2.05 1.3 0 1 0 -4.1 0 M541.78 408.05a2.05 1.3 0 1 0 4.1 0a2.05 1.3 0 1 0 -4.1 0 M542.45 406.26a2.05 1.3 0 1 0 4.1 0a2.05 1.3 0 1 0 -4.1 0 M542.82 405.92a2.05 1.3 0 1 0 4.1 0a2.05 1.3 0 1 0 -4.1 0 M542.85 405.33a2.05 1.3 0 1 0 4.1 0a2.05 1.3 0 1 0 -4.1 0 M543.35 406.13a2.05 1.3 0 1 0 4.1 0a2.05 1.3 0 1 0 -4.1 0 M543.7 405.61a2.05 1.3 0 1 0 4.1 0a2.05 1.3 0 1 0 -4.1 0 M544.2 405.89a2.05 1.3 0 1 0 4.1 0a2.05 1.3 0 1 0 -4.1 0 M544.56 405.62a2.05 1.3 0 1 0 4.1 0a2.05 1.3 0 1 0 -4.1 0 M544.79 409.72a2.05 1.3 0 1 0 4.1 0a2.05 1.3 0 1 0 -4.1 0 M545.21 410.14a2.05 1.3 0 1 0 4.1 0a2.05 1.3 0 1 0 -4.1 0 M545.6 406.5a2.05 1.3 0 1 0 4.1 0a2.05 1.3 0 1 0 -4.1 0 M546.28 409.15a2.05 1.3 0 1 0 4.1 0a2.05 1.3 0 1 0 -4.1 0 M546.53 407.71a2.05 1.3 0 1 0 4.1 0a2.05 1.3 0 1 0 -4.1 0 M546.95 409.48a2.05 1.3 0 1 0 4.1 0a2.05 1.3 0 1 0 -4.1 0 M547.34 405.55a2.05 1.3 0 1 0 4.1 0a2.05 1.3 0 1 0 -4.1 0 M547.97 405.79a2.05 1.3 0 1 0 4.1 0a2.05 1.3 0 1 0 -4.1 0 M548.53 405.27a2.05 1.3 0 1 0 4.1 0a2.05 1.3 0 1 0 -4.1 0 M548.84 406.16a2.05 1.3 0 1 0 4.1 0a2.05 1.3 0 1 0 -4.1 0 M549.28 407.52a2.05 1.3 0 1 0 4.1 0a2.05 1.3 0 1 0 -4.1 0 M549.8 405.8a2.05 1.3 0 1 0 4.1 0a2.05 1.3 0 1 0 -4.1 0 M549.69 405.34a2.05 1.3 0 1 0 4.1 0a2.05 1.3 0 1 0 -4.1 0 M550.49 407.24a2.05 1.3 0 1 0 4.1 0a2.05 1.3 0 1 0 -4.1 0 M550.72 408.73a2.05 1.3 0 1 0 4.1 0a2.05 1.3 0 1 0 -4.1 0 M551.22 405.83a2.05 1.3 0 1 0 4.1 0a2.05 1.3 0 1 0 -4.1 0 M551.64 406.52a2.05 1.3 0 1 0 4.1 0a2.05 1.3 0 1 0 -4.1 0 M552.15 405.77a2.05 1.3 0 1 0 4.1 0a2.05 1.3 0 1 0 -4.1 0 M552.55 407.98a2.05 1.3 0 1 0 4.1 0a2.05 1.3 0 1 0 -4.1 0 M552.91 407.98a2.05 1.3 0 1 0 4.1 0a2.05 1.3 0 1 0 -4.1 0 M553.58 406.48a2.05 1.3 0 1 0 4.1 0a2.05 1.3 0 1 0 -4.1 0 M553.39 405.51a2.05 1.3 0 1 0 4.1 0a2.05 1.3 0 1 0 -4.1 0 M554.02 407.69a2.05 1.3 0 1 0 4.1 0a2.05 1.3 0 1 0 -4.1 0 M554.69 407.8a2.05 1.3 0 1 0 4.1 0a2.05 1.3 0 1 0 -4.1 0 M554.77 405.55a2.05 1.3 0 1 0 4.1 0a2.05 1.3 0 1 0 -4.1 0 M554.9 406.16a2.05 1.3 0 1 0 4.1 0a2.05 1.3 0 1 0 -4.1 0 M555.27 406.54a2.05 1.3 0 1 0 4.1 0a2.05 1.3 0 1 0 -4.1 0 M555.33 405.83a2.05 1.3 0 1 0 4.1 0a2.05 1.3 0 1 0 -4.1 0 M555.81 406.12a2.05 1.3 0 1 0 4.1 0a2.05 1.3 0 1 0 -4.1 0 M556.42 406.15a2.05 1.3 0 1 0 4.1 0a2.05 1.3 0 1 0 -4.1 0 M556.54 407.1a2.05 1.3 0 1 0 4.1 0a2.05 1.3 0 1 0 -4.1 0 M556.69 405.68a2.05 1.3 0 1 0 4.1 0a2.05 1.3 0 1 0 -4.1 0 M557.31 407.84a2.05 1.3 0 1 0 4.1 0a2.05 1.3 0 1 0 -4.1 0 M557.68 406.56a2.05 1.3 0 1 0 4.1 0a2.05 1.3 0 1 0 -4.1 0 M558.3 405.23a2.05 1.3 0 1 0 4.1 0a2.05 1.3 0 1 0 -4.1 0 M558.69 409.2a2.05 1.3 0 1 0 4.1 0a2.05 1.3 0 1 0 -4.1 0 M559.3 409.66a2.05 1.3 0 1 0 4.1 0a2.05 1.3 0 1 0 -4.1 0 M559.65 406.11a2.05 1.3 0 1 0 4.1 0a2.05 1.3 0 1 0 -4.1 0 M560.18 405.54a2.05 1.3 0 1 0 4.1 0a2.05 1.3 0 1 0 -4.1 0 M560.54 406.54a2.05 1.3 0 1 0 4.1 0a2.05 1.3 0 1 0 -4.1 0 M561.16 406.23a2.05 1.3 0 1 0 4.1 0a2.05 1.3 0 1 0 -4.1 0 M561.37 410.14a2.05 1.3 0 1 0 4.1 0a2.05 1.3 0 1 0 -4.1 0 M561.94 406.45a2.05 1.3 0 1 0 4.1 0a2.05 1.3 0 1 0 -4.1 0 M562.61 408.17a2.05 1.3 0 1 0 4.1 0a2.05 1.3 0 1 0 -4.1 0 M562.94 405.25a2.05 1.3 0 1 0 4.1 0a2.05 1.3 0 1 0 -4.1 0 M563.29 406.33a2.05 1.3 0 1 0 4.1 0a2.05 1.3 0 1 0 -4.1 0 M563.68 409.3a2.05 1.3 0 1 0 4.1 0a2.05 1.3 0 1 0 -4.1 0 M564.31 405.98a2.05 1.3 0 1 0 4.1 0a2.05 1.3 0 1 0 -4.1 0 M564.83 410.14a2.05 1.3 0 1 0 4.1 0a2.05 1.3 0 1 0 -4.1 0 M565.12 409.49a2.05 1.3 0 1 0 4.1 0a2.05 1.3 0 1 0 -4.1 0 M565.64 408.18a2.05 1.3 0 1 0 4.1 0a2.05 1.3 0 1 0 -4.1 0 M566.35 410.14a2.05 1.3 0 1 0 4.1 0a2.05 1.3 0 1 0 -4.1 0 M566.56 406.04a2.05 1.3 0 1 0 4.1 0a2.05 1.3 0 1 0 -4.1 0 M567.3 405.69a2.05 1.3 0 1 0 4.1 0a2.05 1.3 0 1 0 -4.1 0 M567 405.34a2.05 1.3 0 1 0 4.1 0a2.05 1.3 0 1 0 -4.1 0 M567.59 405.34a2.05 1.3 0 1 0 4.1 0a2.05 1.3 0 1 0 -4.1 0 M568.1 408.28a2.05 1.3 0 1 0 4.1 0a2.05 1.3 0 1 0 -4.1 0 M568.42 405.21a2.05 1.3 0 1 0 4.1 0a2.05 1.3 0 1 0 -4.1 0 M568.89 405.32a2.05 1.3 0 1 0 4.1 0a2.05 1.3 0 1 0 -4.1 0 M569.46 405.73a2.05 1.3 0 1 0 4.1 0a2.05 1.3 0 1 0 -4.1 0 M570.1 405.66a2.05 1.3 0 1 0 4.1 0a2.05 1.3 0 1 0 -4.1 0 M570.08 405.46a2.05 1.3 0 1 0 4.1 0a2.05 1.3 0 1 0 -4.1 0 M570.45 410.14a2.05 1.3 0 1 0 4.1 0a2.05 1.3 0 1 0 -4.1 0 M570.67 405.46a2.05 1.3 0 1 0 4.1 0a2.05 1.3 0 1 0 -4.1 0 M571.19 405.53a2.05 1.3 0 1 0 4.1 0a2.05 1.3 0 1 0 -4.1 0 M571.6 408.71a2.05 1.3 0 1 0 4.1 0a2.05 1.3 0 1 0 -4.1 0 M572.2 406.49a2.05 1.3 0 1 0 4.1 0a2.05 1.3 0 1 0 -4.1 0 M572.91 406.04a2.05 1.3 0 1 0 4.1 0a2.05 1.3 0 1 0 -4.1 0 M572.57 405.76a2.05 1.3 0 1 0 4.1 0a2.05 1.3 0 1 0 -4.1 0 M573.12 405.43a2.05 1.3 0 1 0 4.1 0a2.05 1.3 0 1 0 -4.1 0 M573.01 409.37a2.05 1.3 0 1 0 4.1 0a2.05 1.3 0 1 0 -4.1 0 M573.85 409.94a2.05 1.3 0 1 0 4.1 0a2.05 1.3 0 1 0 -4.1 0 M574.06 405.68a2.05 1.3 0 1 0 4.1 0a2.05 1.3 0 1 0 -4.1 0 M574.66 406.32a2.05 1.3 0 1 0 4.1 0a2.05 1.3 0 1 0 -4.1 0 M574.99 405.24a2.05 1.3 0 1 0 4.1 0a2.05 1.3 0 1 0 -4.1 0 M575.54 407.78a2.05 1.3 0 1 0 4.1 0a2.05 1.3 0 1 0 -4.1 0 M575.96 406.51a2.05 1.3 0 1 0 4.1 0a2.05 1.3 0 1 0 -4.1 0 M576.33 408.23a2.05 1.3 0 1 0 4.1 0a2.05 1.3 0 1 0 -4.1 0 M577.06 409.77a2.05 1.3 0 1 0 4.1 0a2.05 1.3 0 1 0 -4.1 0 M577.52 410.14a2.05 1.3 0 1 0 4.1 0a2.05 1.3 0 1 0 -4.1 0 M577.73 405.72a2.05 1.3 0 1 0 4.1 0a2.05 1.3 0 1 0 -4.1 0 M578.28 410.14a2.05 1.3 0 1 0 4.1 0a2.05 1.3 0 1 0 -4.1 0 M578.16 408.69a2.05 1.3 0 1 0 4.1 0a2.05 1.3 0 1 0 -4.1 0 M578.9 408.65a2.05 1.3 0 1 0 4.1 0a2.05 1.3 0 1 0 -4.1 0 M578.86 410.14a2.05 1.3 0 1 0 4.1 0a2.05 1.3 0 1 0 -4.1 0 M579.09 407.66a2.05 1.3 0 1 0 4.1 0a2.05 1.3 0 1 0 -4.1 0 M579.58 406.18a2.05 1.3 0 1 0 4.1 0a2.05 1.3 0 1 0 -4.1 0 M580.19 405.86a2.05 1.3 0 1 0 4.1 0a2.05 1.3 0 1 0 -4.1 0 M580.6 405.85a2.05 1.3 0 1 0 4.1 0a2.05 1.3 0 1 0 -4.1 0 M581.3 410.14a2.05 1.3 0 1 0 4.1 0a2.05 1.3 0 1 0 -4.1 0 M581.5 408.25a2.05 1.3 0 1 0 4.1 0a2.05 1.3 0 1 0 -4.1 0 M581.9 405.73a2.05 1.3 0 1 0 4.1 0a2.05 1.3 0 1 0 -4.1 0 M582.46 407.43a2.05 1.3 0 1 0 4.1 0a2.05 1.3 0 1 0 -4.1 0 M583.18 405.76a2.05 1.3 0 1 0 4.1 0a2.05 1.3 0 1 0 -4.1 0 M583.47 406.3a2.05 1.3 0 1 0 4.1 0a2.05 1.3 0 1 0 -4.1 0 M583.93 410.14a2.05 1.3 0 1 0 4.1 0a2.05 1.3 0 1 0 -4.1 0 M584.22 406.83a2.05 1.3 0 1 0 4.1 0a2.05 1.3 0 1 0 -4.1 0 M584.97 408.38a2.05 1.3 0 1 0 4.1 0a2.05 1.3 0 1 0 -4.1 0 M585.28 408.46a2.05 1.3 0 1 0 4.1 0a2.05 1.3 0 1 0 -4.1 0 M585.27 410.14a2.05 1.3 0 1 0 4.1 0a2.05 1.3 0 1 0 -4.1 0 M585.94 406.55a2.05 1.3 0 1 0 4.1 0a2.05 1.3 0 1 0 -4.1 0 M586.34 408.62a2.05 1.3 0 1 0 4.1 0a2.05 1.3 0 1 0 -4.1 0 M586.73 405.8a2.05 1.3 0 1 0 4.1 0a2.05 1.3 0 1 0 -4.1 0 M587.25 405.99a2.05 1.3 0 1 0 4.1 0a2.05 1.3 0 1 0 -4.1 0 M587.52 406.69a2.05 1.3 0 1 0 4.1 0a2.05 1.3 0 1 0 -4.1 0 M588.17 405.98a2.05 1.3 0 1 0 4.1 0a2.05 1.3 0 1 0 -4.1 0 M588.52 405.34a2.05 1.3 0 1 0 4.1 0a2.05 1.3 0 1 0 -4.1 0 M588.4 405.76a2.05 1.3 0 1 0 4.1 0a2.05 1.3 0 1 0 -4.1 0 M589.07 409.5a2.05 1.3 0 1 0 4.1 0a2.05 1.3 0 1 0 -4.1 0 M589.66 408.18a2.05 1.3 0 1 0 4.1 0a2.05 1.3 0 1 0 -4.1 0 M590.07 406.18a2.05 1.3 0 1 0 4.1 0a2.05 1.3 0 1 0 -4.1 0 M590.41 408.79a2.05 1.3 0 1 0 4.1 0a2.05 1.3 0 1 0 -4.1 0 M590.62 406.29a2.05 1.3 0 1 0 4.1 0a2.05 1.3 0 1 0 -4.1 0 M591.06 405.56a2.05 1.3 0 1 0 4.1 0a2.05 1.3 0 1 0 -4.1 0 M591.21 405.35a2.05 1.3 0 1 0 4.1 0a2.05 1.3 0 1 0 -4.1 0 M591.99 405.21a2.05 1.3 0 1 0 4.1 0a2.05 1.3 0 1 0 -4.1 0 M592.28 405.74a2.05 1.3 0 1 0 4.1 0a2.05 1.3 0 1 0 -4.1 0 M592.85 406.16a2.05 1.3 0 1 0 4.1 0a2.05 1.3 0 1 0 -4.1 0 M593.1 406.17a2.05 1.3 0 1 0 4.1 0a2.05 1.3 0 1 0 -4.1 0 M593.56 407.19a2.05 1.3 0 1 0 4.1 0a2.05 1.3 0 1 0 -4.1 0 M594.39 407.57a2.05 1.3 0 1 0 4.1 0a2.05 1.3 0 1 0 -4.1 0 M594.66 405.22a2.05 1.3 0 1 0 4.1 0a2.05 1.3 0 1 0 -4.1 0 M594.82 406.13a2.05 1.3 0 1 0 4.1 0a2.05 1.3 0 1 0 -4.1 0 M595.1 405.88a2.05 1.3 0 1 0 4.1 0a2.05 1.3 0 1 0 -4.1 0 M595.48 408.85a2.05 1.3 0 1 0 4.1 0a2.05 1.3 0 1 0 -4.1 0 M596.12 405.36a2.05 1.3 0 1 0 4.1 0a2.05 1.3 0 1 0 -4.1 0 M596.54 409.82a2.05 1.3 0 1 0 4.1 0a2.05 1.3 0 1 0 -4.1 0 M596.37 406.64a2.05 1.3 0 1 0 4.1 0a2.05 1.3 0 1 0 -4.1 0 M597.14 406.27a2.05 1.3 0 1 0 4.1 0a2.05 1.3 0 1 0 -4.1 0 M597.66 405.77a2.05 1.3 0 1 0 4.1 0a2.05 1.3 0 1 0 -4.1 0 M597.81 406.47a2.05 1.3 0 1 0 4.1 0a2.05 1.3 0 1 0 -4.1 0 M598.25 409.09a2.05 1.3 0 1 0 4.1 0a2.05 1.3 0 1 0 -4.1 0 M598.81 406.84a2.05 1.3 0 1 0 4.1 0a2.05 1.3 0 1 0 -4.1 0 M599.48 409.27a2.05 1.3 0 1 0 4.1 0a2.05 1.3 0 1 0 -4.1 0 M599.62 405.58a2.05 1.3 0 1 0 4.1 0a2.05 1.3 0 1 0 -4.1 0 M600.15 405.83a2.05 1.3 0 1 0 4.1 0a2.05 1.3 0 1 0 -4.1 0 M600.86 405.61a2.05 1.3 0 1 0 4.1 0a2.05 1.3 0 1 0 -4.1 0 M601.37 405.42a2.05 1.3 0 1 0 4.1 0a2.05 1.3 0 1 0 -4.1 0 M601.54 405.6a2.05 1.3 0 1 0 4.1 0a2.05 1.3 0 1 0 -4.1 0 M602.09 406.37a2.05 1.3 0 1 0 4.1 0a2.05 1.3 0 1 0 -4.1 0 M602.27 408.42a2.05 1.3 0 1 0 4.1 0a2.05 1.3 0 1 0 -4.1 0 M602.56 406.07a2.05 1.3 0 1 0 4.1 0a2.05 1.3 0 1 0 -4.1 0 M602.5 405.53a2.05 1.3 0 1 0 4.1 0a2.05 1.3 0 1 0 -4.1 0 M603.01 407.2a2.05 1.3 0 1 0 4.1 0a2.05 1.3 0 1 0 -4.1 0 M603.51 405.62a2.05 1.3 0 1 0 4.1 0a2.05 1.3 0 1 0 -4.1 0 M603.44 406.61a2.05 1.3 0 1 0 4.1 0a2.05 1.3 0 1 0 -4.1 0 M604.07 405.61a2.05 1.3 0 1 0 4.1 0a2.05 1.3 0 1 0 -4.1 0 M604.57 405.53a2.05 1.3 0 1 0 4.1 0a2.05 1.3 0 1 0 -4.1 0 M604.98 406.51a2.05 1.3 0 1 0 4.1 0a2.05 1.3 0 1 0 -4.1 0 M605.23 406.19a2.05 1.3 0 1 0 4.1 0a2.05 1.3 0 1 0 -4.1 0 M605.87 408.52a2.05 1.3 0 1 0 4.1 0a2.05 1.3 0 1 0 -4.1 0 M606.5 405.73a2.05 1.3 0 1 0 4.1 0a2.05 1.3 0 1 0 -4.1 0 M606.93 405.62a2.05 1.3 0 1 0 4.1 0a2.05 1.3 0 1 0 -4.1 0 M607.47 405.92a2.05 1.3 0 1 0 4.1 0a2.05 1.3 0 1 0 -4.1 0 M607.83 405.53a2.05 1.3 0 1 0 4.1 0a2.05 1.3 0 1 0 -4.1 0 M608.24 407.43a2.05 1.3 0 1 0 4.1 0a2.05 1.3 0 1 0 -4.1 0 M608.81 406.47a2.05 1.3 0 1 0 4.1 0a2.05 1.3 0 1 0 -4.1 0 M608.69 406.3a2.05 1.3 0 1 0 4.1 0a2.05 1.3 0 1 0 -4.1 0 M609.14 406.2a2.05 1.3 0 1 0 4.1 0a2.05 1.3 0 1 0 -4.1 0 M609.49 408.14a2.05 1.3 0 1 0 4.1 0a2.05 1.3 0 1 0 -4.1 0 M610.1 407.62a2.05 1.3 0 1 0 4.1 0a2.05 1.3 0 1 0 -4.1 0 M610.23 405.81a2.05 1.3 0 1 0 4.1 0a2.05 1.3 0 1 0 -4.1 0 M610.74 406.52a2.05 1.3 0 1 0 4.1 0a2.05 1.3 0 1 0 -4.1 0 M610.93 407.53a2.05 1.3 0 1 0 4.1 0a2.05 1.3 0 1 0 -4.1 0 M611.57 407.12a2.05 1.3 0 1 0 4.1 0a2.05 1.3 0 1 0 -4.1 0 M611.47 405.93a2.05 1.3 0 1 0 4.1 0a2.05 1.3 0 1 0 -4.1 0 M612.02 405.69a2.05 1.3 0 1 0 4.1 0a2.05 1.3 0 1 0 -4.1 0 M612.25 406.02a2.05 1.3 0 1 0 4.1 0a2.05 1.3 0 1 0 -4.1 0 M612.97 405.85a2.05 1.3 0 1 0 4.1 0a2.05 1.3 0 1 0 -4.1 0 M613.22 406.05a2.05 1.3 0 1 0 4.1 0a2.05 1.3 0 1 0 -4.1 0 M613.65 406.65a2.05 1.3 0 1 0 4.1 0a2.05 1.3 0 1 0 -4.1 0 M614.16 406.31a2.05 1.3 0 1 0 4.1 0a2.05 1.3 0 1 0 -4.1 0 M614.14 406.39a2.05 1.3 0 1 0 4.1 0a2.05 1.3 0 1 0 -4.1 0 M614.91 406.5a2.05 1.3 0 1 0 4.1 0a2.05 1.3 0 1 0 -4.1 0 M614.75 408.63a2.05 1.3 0 1 0 4.1 0a2.05 1.3 0 1 0 -4.1 0 M615.12 405.32a2.05 1.3 0 1 0 4.1 0a2.05 1.3 0 1 0 -4.1 0 M615.53 410a2.05 1.3 0 1 0 4.1 0a2.05 1.3 0 1 0 -4.1 0 M616.12 406.3a2.05 1.3 0 1 0 4.1 0a2.05 1.3 0 1 0 -4.1 0 M616.49 410.14a2.05 1.3 0 1 0 4.1 0a2.05 1.3 0 1 0 -4.1 0 M616.96 406.41a2.05 1.3 0 1 0 4.1 0a2.05 1.3 0 1 0 -4.1 0 M617.66 410.14a2.05 1.3 0 1 0 4.1 0a2.05 1.3 0 1 0 -4.1 0 M617.85 409.14a2.05 1.3 0 1 0 4.1 0a2.05 1.3 0 1 0 -4.1 0 M618.37 407.55a2.05 1.3 0 1 0 4.1 0a2.05 1.3 0 1 0 -4.1 0 M618.88 410.14a2.05 1.3 0 1 0 4.1 0a2.05 1.3 0 1 0 -4.1 0 M619.48 405.51a2.05 1.3 0 1 0 4.1 0a2.05 1.3 0 1 0 -4.1 0 M619.83 406.4a2.05 1.3 0 1 0 4.1 0a2.05 1.3 0 1 0 -4.1 0 M620.35 407.51a2.05 1.3 0 1 0 4.1 0a2.05 1.3 0 1 0 -4.1 0 M620.94 406.14a2.05 1.3 0 1 0 4.1 0a2.05 1.3 0 1 0 -4.1 0 M621.32 406.53a2.05 1.3 0 1 0 4.1 0a2.05 1.3 0 1 0 -4.1 0 M621.62 405.28a2.05 1.3 0 1 0 4.1 0a2.05 1.3 0 1 0 -4.1 0 M622.32 405.6a2.05 1.3 0 1 0 4.1 0a2.05 1.3 0 1 0 -4.1 0 M622.82 410.14a2.05 1.3 0 1 0 4.1 0a2.05 1.3 0 1 0 -4.1 0 M622.97 405.99a2.05 1.3 0 1 0 4.1 0a2.05 1.3 0 1 0 -4.1 0 M623.79 407.52a2.05 1.3 0 1 0 4.1 0a2.05 1.3 0 1 0 -4.1 0 M624.28 405.49a2.05 1.3 0 1 0 4.1 0a2.05 1.3 0 1 0 -4.1 0 M624.65 406.32a2.05 1.3 0 1 0 4.1 0a2.05 1.3 0 1 0 -4.1 0 M625.09 406.53a2.05 1.3 0 1 0 4.1 0a2.05 1.3 0 1 0 -4.1 0 M624.88 406.77a2.05 1.3 0 1 0 4.1 0a2.05 1.3 0 1 0 -4.1 0 M625.64 406.86a2.05 1.3 0 1 0 4.1 0a2.05 1.3 0 1 0 -4.1 0 M625.29 405.45a2.05 1.3 0 1 0 4.1 0a2.05 1.3 0 1 0 -4.1 0 M625.91 407.8a2.05 1.3 0 1 0 4.1 0a2.05 1.3 0 1 0 -4.1 0 M626.15 406.23a2.05 1.3 0 1 0 4.1 0a2.05 1.3 0 1 0 -4.1 0 M626.5 405.72a2.05 1.3 0 1 0 4.1 0a2.05 1.3 0 1 0 -4.1 0 M626.97 405.76a2.05 1.3 0 1 0 4.1 0a2.05 1.3 0 1 0 -4.1 0 M626.7 405.52a2.05 1.3 0 1 0 4.1 0a2.05 1.3 0 1 0 -4.1 0 M627.54 405.87a2.05 1.3 0 1 0 4.1 0a2.05 1.3 0 1 0 -4.1 0 M627.78 407.94a2.05 1.3 0 1 0 4.1 0a2.05 1.3 0 1 0 -4.1 0 M627.8 407.97a2.05 1.3 0 1 0 4.1 0a2.05 1.3 0 1 0 -4.1 0 M628.18 405.87a2.05 1.3 0 1 0 4.1 0a2.05 1.3 0 1 0 -4.1 0 M628.69 407.92a2.05 1.3 0 1 0 4.1 0a2.05 1.3 0 1 0 -4.1 0 M629.06 406.11a2.05 1.3 0 1 0 4.1 0a2.05 1.3 0 1 0 -4.1 0 M629.71 406.64a2.05 1.3 0 1 0 4.1 0a2.05 1.3 0 1 0 -4.1 0" fill="none" stroke="#62d04e" stroke-width="0.6"/>
<line x1="419.6" y1="405.2" x2="638.7" y2="405.2" stroke="#222" stroke-width="0.9" opacity="0.8"/>
<line x1="436.4" y1="374.3" x2="436.4" y2="542.2" stroke="#111" stroke-width="0.7" stroke-dasharray="1.2,1.2"/>
<text transform="translate(533.4,404) rotate(0.05)" font-size="3.5" text-anchor="middle" fill="#62d04e">1</text>
<line x1="98.4" y1="570.6" x2="98.4" y2="716" stroke="#222" stroke-width="0.8"/>
<line x1="96.6" y1="716" x2="98.4" y2="716" stroke="#222" stroke-width="0.7"/>
<text transform="translate(94.6,717.8) rotate(0.05)" font-size="5" text-anchor="end" fill="#222">0</text>
<line x1="96.6" y1="704.35" x2="98.4" y2="704.35" stroke="#222" stroke-width="0.7"/>
<text transform="translate(94.6,706.15) rotate(0.05)" font-size="5" text-anchor="end" fill="#222">5</text>
<line x1="96.6" y1="692.7" x2="98.4" y2="692.7" stroke="#222" stroke-width="0.7"/>
<text transform="translate(94.6,694.5) rotate(0.05)" font-size="5" text-anchor="end" fill="#222">10</text>
<line x1="96.6" y1="681.05" x2="98.4" y2="681.05" stroke="#222" stroke-width="0.7"/>
<text transform="translate(94.6,682.85) rotate(0.05)" font-size="5" text-anchor="end" fill="#222">15</text>
<line x1="96.6" y1="669.4" x2="98.4" y2="669.4" stroke="#222" stroke-width="0.7"/>
<text transform="translate(94.6,671.2) rotate(0.05)" font-size="5" text-anchor="end" fill="#222">20</text>
<line x1="96.6" y1="657.75" x2="98.4" y2="657.75" stroke="#222" stroke-width="0.7"/>
<text transform="translate(94.6,659.55) rotate(0.05)" font-size="5" text-anchor="end" fill="#222">25</text>
<line x1="96.6" y1="646.1" x2="98.4" y2="646.1" stroke="#222" stroke-width="0.7"/>
<text transform="translate(94.6,647.9) rotate(0.05)" font-size="5" text-anchor="end" fill="#222">30</text>
<line x1="96.6" y1="634.45" x2="98.4" y2="634.45" stroke="#222" stroke-width="0.7"/>
<text transform="translate(94.6,636.25) rotate(0.05)" font-size="5" text-anchor="end" fill="#222">35</text>
<line x1="96.6" y1="622.8" x2="98.4" y2="622.8" stroke="#222" stroke-width="0.7"/>
<text transform="translate(94.6,624.6) rotate(0.05)" font-size="5" text-anchor="end" fill="#222">40</text>
<line x1="96.6" y1="611.15" x2="98.4" y2="611.15" stroke="#222" stroke-width="0.7"/>
<text transform="translate(94.6,612.95) rotate(0.05)" font-size="5" text-anchor="end" fill="#222">45</text>
<line x1="96.6" y1="599.5" x2="98.4" y2="599.5" stroke="#222" stroke-width="0.7"/>
<text transform="translate(94.6,601.3) rotate(0.05)" font-size="5" text-anchor="end" fill="#222">50</text>
<line x1="96.6" y1="587.85" x2="98.4" y2="587.85" stroke="#222" stroke-width="0.7"/>
<text transform="translate(94.6,589.65) rotate(0.05)" font-size="5" text-anchor="end" fill="#222">55</text>
<line x1="96.6" y1="576.2" x2="98.4" y2="576.2" stroke="#222" stroke-width="0.7"/>
<text transform="translate(94.6,578) rotate(0.05)" font-size="5" text-anchor="end" fill="#222">60</text>
<text transform="translate(84.6,643.7) rotate(-90) scale(0.97,1)" font-size="6.3" text-anchor="middle" fill="#222">Intersection Size</text>
<rect x="98.9" y="571.54" width="6.2" height="144.46" fill="#c8c8c8" stroke="none" stroke-width="1"/>
<rect x="107.42" y="685.71" width="6.2" height="30.29" fill="#c8c8c8" stroke="none" stroke-width="1"/>
<rect x="115.94" y="692.7" width="6.2" height="23.3" fill="#c8c8c8" stroke="none" stroke-width="1"/>
<rect x="124.46" y="697.36" width="6.2" height="18.64" fill="#c8c8c8" stroke="none" stroke-width="1"/>
<rect x="132.98" y="702.02" width="6.2" height="13.98" fill="#c8c8c8" stroke="none" stroke-width="1"/>
<rect x="141.5" y="704.35" width="6.2" height="11.65" fill="#c8c8c8" stroke="none" stroke-width="1"/>
<rect x="150.02" y="706.68" width="6.2" height="9.32" fill="#c8c8c8" stroke="none" stroke-width="1"/>
<rect x="158.54" y="706.68" width="6.2" height="9.32" fill="#c8c8c8" stroke="none" stroke-width="1"/>
<rect x="167.06" y="706.68" width="6.2" height="9.32" fill="#c8c8c8" stroke="none" stroke-width="1"/>
<rect x="175.58" y="711.34" width="6.2" height="4.66" fill="#c8c8c8" stroke="none" stroke-width="1"/>
<rect x="184.1" y="713.67" width="6.2" height="2.33" fill="#c8c8c8" stroke="none" stroke-width="1"/>
<rect x="192.62" y="713.67" width="6.2" height="2.33" fill="#c8c8c8" stroke="none" stroke-width="1"/>
<rect x="201.14" y="713.67" width="6.2" height="2.33" fill="#c8c8c8" stroke="none" stroke-width="1"/>
<rect x="209.66" y="713.67" width="6.2" height="2.33" fill="#c8c8c8" stroke="none" stroke-width="1"/>
<rect x="218.18" y="713.67" width="6.2" height="2.33" fill="#c8c8c8" stroke="none" stroke-width="1"/>
<rect x="226.7" y="713.67" width="6.2" height="2.33" fill="#c8c8c8" stroke="none" stroke-width="1"/>
<rect x="235.22" y="713.67" width="6.2" height="2.33" fill="#c8c8c8" stroke="none" stroke-width="1"/>
<rect x="243.74" y="713.67" width="6.2" height="2.33" fill="#c8c8c8" stroke="none" stroke-width="1"/>
<rect x="252.26" y="713.67" width="6.2" height="2.33" fill="#c8c8c8" stroke="none" stroke-width="1"/>
<rect x="260.78" y="713.67" width="6.2" height="2.33" fill="#c8c8c8" stroke="none" stroke-width="1"/>
<rect x="269.3" y="713.67" width="6.2" height="2.33" fill="#c8c8c8" stroke="none" stroke-width="1"/>
<rect x="277.82" y="713.67" width="6.2" height="2.33" fill="#c8c8c8" stroke="none" stroke-width="1"/>
<rect x="286.34" y="713.67" width="6.2" height="2.33" fill="#c8c8c8" stroke="none" stroke-width="1"/>
<rect x="294.86" y="713.67" width="6.2" height="2.33" fill="#c8c8c8" stroke="none" stroke-width="1"/>
<rect x="303.38" y="713.67" width="6.2" height="2.33" fill="#c8c8c8" stroke="none" stroke-width="1"/>
<rect x="311.9" y="713.67" width="6.2" height="2.33" fill="#c8c8c8" stroke="none" stroke-width="1"/>
<rect x="320.42" y="713.67" width="6.2" height="2.33" fill="#c8c8c8" stroke="none" stroke-width="1"/>
<line x1="98.4" y1="716" x2="327.5" y2="716" stroke="#555" stroke-width="0.8"/>
<rect x="97.8" y="726.72" width="229.5" height="10.6" fill="#f1f1f1" stroke="none" stroke-width="1"/>
<rect x="97.8" y="747.96" width="229.5" height="10.6" fill="#f1f1f1" stroke="none" stroke-width="1"/>
<rect x="97.8" y="769.2" width="229.5" height="10.6" fill="#f1f1f1" stroke="none" stroke-width="1"/>
<circle cx="102" cy="721.4" r="1.75" fill="#cdcdcd"/>
<circle cx="102" cy="732.02" r="1.75" fill="#cdcdcd"/>
<circle cx="102" cy="742.64" r="1.75" fill="#cdcdcd"/>
<circle cx="102" cy="753.26" r="1.75" fill="#cdcdcd"/>
<circle cx="102" cy="763.88" r="1.75" fill="#cdcdcd"/>
<circle cx="110.52" cy="721.4" r="1.75" fill="#cdcdcd"/>
<circle cx="110.52" cy="732.02" r="1.75" fill="#cdcdcd"/>
<circle cx="110.52" cy="763.88" r="1.75" fill="#cdcdcd"/>
<circle cx="119.04" cy="721.4" r="1.75" fill="#cdcdcd"/>
<circle cx="119.04" cy="732.02" r="1.75" fill="#cdcdcd"/>
<circle cx="119.04" cy="742.64" r="1.75" fill="#cdcdcd"/>
<circle cx="119.04" cy="753.26" r="1.75" fill="#cdcdcd"/>
<circle cx="127.56" cy="721.4" r="1.75" fill="#cdcdcd"/>
<circle cx="127.56" cy="732.02" r="1.75" fill="#cdcdcd"/>
<circle cx="127.56" cy="742.64" r="1.75" fill="#cdcdcd"/>
<circle cx="127.56" cy="753.26" r="1.75" fill="#cdcdcd"/>
<circle cx="127.56" cy="774.5" r="1.75" fill="#cdcdcd"/>
<circle cx="136.08" cy="721.4" r="1.75" fill="#cdcdcd"/>
<circle cx="136.08" cy="742.64" r="1.75" fill="#cdcdcd"/>
<circle cx="136.08" cy="753.26" r="1.75" fill="#cdcdcd"/>
<circle cx="136.08" cy="763.88" r="1.75" fill="#cdcdcd"/>
<circle cx="144.6" cy="721.4" r="1.75" fill="#cdcdcd"/>
<circle cx="144.6" cy="763.88" r="1.75" fill="#cdcdcd"/>
<circle cx="161.64" cy="732.02" r="1.75" fill="#cdcdcd"/>
<circle cx="161.64" cy="742.64" r="1.75" fill="#cdcdcd"/>
<circle cx="161.64" cy="753.26" r="1.75" fill="#cdcdcd"/>
<circle cx="170.16" cy="721.4" r="1.75" fill="#cdcdcd"/>
<circle cx="170.16" cy="732.02" r="1.75" fill="#cdcdcd"/>
<circle cx="170.16" cy="742.64" r="1.75" fill="#cdcdcd"/>
<circle cx="170.16" cy="763.88" r="1.75" fill="#cdcdcd"/>
<circle cx="178.68" cy="721.4" r="1.75" fill="#cdcdcd"/>
<circle cx="178.68" cy="732.02" r="1.75" fill="#cdcdcd"/>
<circle cx="178.68" cy="742.64" r="1.75" fill="#cdcdcd"/>
<circle cx="187.2" cy="732.02" r="1.75" fill="#cdcdcd"/>
<circle cx="195.72" cy="753.26" r="1.75" fill="#cdcdcd"/>
<circle cx="204.24" cy="763.88" r="1.75" fill="#cdcdcd"/>
<circle cx="212.76" cy="721.4" r="1.75" fill="#cdcdcd"/>
<circle cx="212.76" cy="732.02" r="1.75" fill="#cdcdcd"/>
<circle cx="221.28" cy="732.02" r="1.75" fill="#cdcdcd"/>
<circle cx="221.28" cy="763.88" r="1.75" fill="#cdcdcd"/>
<circle cx="229.8" cy="742.64" r="1.75" fill="#cdcdcd"/>
<circle cx="229.8" cy="753.26" r="1.75" fill="#cdcdcd"/>
<circle cx="238.32" cy="721.4" r="1.75" fill="#cdcdcd"/>
<circle cx="238.32" cy="732.02" r="1.75" fill="#cdcdcd"/>
<circle cx="238.32" cy="774.5" r="1.75" fill="#cdcdcd"/>
<circle cx="246.84" cy="721.4" r="1.75" fill="#cdcdcd"/>
<circle cx="246.84" cy="732.02" r="1.75" fill="#cdcdcd"/>
<circle cx="246.84" cy="753.26" r="1.75" fill="#cdcdcd"/>
<circle cx="255.36" cy="721.4" r="1.75" fill="#cdcdcd"/>
<circle cx="255.36" cy="742.64" r="1.75" fill="#cdcdcd"/>
<circle cx="255.36" cy="753.26" r="1.75" fill="#cdcdcd"/>
<circle cx="263.88" cy="742.64" r="1.75" fill="#cdcdcd"/>
<circle cx="263.88" cy="753.26" r="1.75" fill="#cdcdcd"/>
<circle cx="263.88" cy="763.88" r="1.75" fill="#cdcdcd"/>
<circle cx="272.4" cy="721.4" r="1.75" fill="#cdcdcd"/>
<circle cx="272.4" cy="742.64" r="1.75" fill="#cdcdcd"/>
<circle cx="272.4" cy="763.88" r="1.75" fill="#cdcdcd"/>
<circle cx="280.92" cy="732.02" r="1.75" fill="#cdcdcd"/>
<circle cx="280.92" cy="742.64" r="1.75" fill="#cdcdcd"/>
<circle cx="280.92" cy="753.26" r="1.75" fill="#cdcdcd"/>
<circle cx="280.92" cy="774.5" r="1.75" fill="#cdcdcd"/>
<circle cx="289.44" cy="721.4" r="1.75" fill="#cdcdcd"/>
<circle cx="289.44" cy="732.02" r="1.75" fill="#cdcdcd"/>
<circle cx="289.44" cy="742.64" r="1.75" fill="#cdcdcd"/>
<circle cx="289.44" cy="774.5" r="1.75" fill="#cdcdcd"/>
<circle cx="297.96" cy="721.4" r="1.75" fill="#cdcdcd"/>
<circle cx="297.96" cy="732.02" r="1.75" fill="#cdcdcd"/>
<circle cx="297.96" cy="753.26" r="1.75" fill="#cdcdcd"/>
<circle cx="297.96" cy="763.88" r="1.75" fill="#cdcdcd"/>
<circle cx="306.48" cy="732.02" r="1.75" fill="#cdcdcd"/>
<circle cx="306.48" cy="742.64" r="1.75" fill="#cdcdcd"/>
<circle cx="306.48" cy="753.26" r="1.75" fill="#cdcdcd"/>
<circle cx="306.48" cy="763.88" r="1.75" fill="#cdcdcd"/>
<circle cx="306.48" cy="774.5" r="1.75" fill="#cdcdcd"/>
<circle cx="315" cy="721.4" r="1.75" fill="#cdcdcd"/>
<circle cx="315" cy="732.02" r="1.75" fill="#cdcdcd"/>
<circle cx="315" cy="742.64" r="1.75" fill="#cdcdcd"/>
<circle cx="315" cy="763.88" r="1.75" fill="#cdcdcd"/>
<circle cx="315" cy="774.5" r="1.75" fill="#cdcdcd"/>
<circle cx="323.52" cy="721.4" r="1.75" fill="#cdcdcd"/>
<circle cx="323.52" cy="742.64" r="1.75" fill="#cdcdcd"/>
<circle cx="323.52" cy="753.26" r="1.75" fill="#cdcdcd"/>
<circle cx="323.52" cy="763.88" r="1.75" fill="#cdcdcd"/>
<circle cx="323.52" cy="774.5" r="1.75" fill="#cdcdcd"/>
<circle cx="102" cy="774.5" r="1.95" fill="#000"/>
<line x1="110.52" y1="742.64" x2="110.52" y2="774.5" stroke="#111" stroke-width="0.8"/>
<circle cx="110.52" cy="742.64" r="1.95" fill="#000"/>
<circle cx="110.52" cy="753.26" r="1.95" fill="#000"/>
<circle cx="110.52" cy="774.5" r="1.95" fill="#000"/>
<line x1="119.04" y1="763.88" x2="119.04" y2="774.5" stroke="#999" stroke-width="1.3"/>
<circle cx="119.04" cy="763.88" r="1.95" fill="#000"/>
<circle cx="119.04" cy="774.5" r="1.95" fill="#000"/>
<circle cx="127.56" cy="763.88" r="1.95" fill="#000"/>
<line x1="136.08" y1="732.02" x2="136.08" y2="774.5" stroke="#999" stroke-width="1.3"/>
<circle cx="136.08" cy="732.02" r="1.95" fill="#000"/>
<circle cx="136.08" cy="774.5" r="1.95" fill="#000"/>
<line x1="144.6" y1="732.02" x2="144.6" y2="774.5" stroke="#111" stroke-width="0.8"/>
<circle cx="144.6" cy="732.02" r="1.95" fill="#000"/>
<circle cx="144.6" cy="742.64" r="1.95" fill="#000"/>
<circle cx="144.6" cy="753.26" r="1.95" fill="#000"/>
<circle cx="144.6" cy="774.5" r="1.95" fill="#000"/>
<line x1="153.12" y1="721.4" x2="153.12" y2="774.5" stroke="#999" stroke-width="1.3"/>
<circle cx="153.12" cy="721.4" r="1.95" fill="#000"/>
<circle cx="153.12" cy="732.02" r="1.95" fill="#000"/>
<circle cx="153.12" cy="742.64" r="1.95" fill="#000"/>
<circle cx="153.12" cy="753.26" r="1.95" fill="#000"/>
<circle cx="153.12" cy="763.88" r="1.95" fill="#000"/>
<circle cx="153.12" cy="774.5" r="1.95" fill="#000"/>
<line x1="161.64" y1="721.4" x2="161.64" y2="774.5" stroke="#111" stroke-width="0.8"/>
<circle cx="161.64" cy="721.4" r="1.95" fill="#000"/>
<circle cx="161.64" cy="763.88" r="1.95" fill="#000"/>
<circle cx="161.64" cy="774.5" r="1.95" fill="#000"/>
<line x1="170.16" y1="753.26" x2="170.16" y2="774.5" stroke="#999" stroke-width="1.3"/>
<circle cx="170.16" cy="753.26" r="1.95" fill="#000"/>
<circle cx="170.16" cy="774.5" r="1.95" fill="#000"/>
<line x1="178.68" y1="753.26" x2="178.68" y2="774.5" stroke="#111" stroke-width="0.8"/>
<circle cx="178.68" cy="753.26" r="1.95" fill="#000"/>
<circle cx="178.68" cy="763.88" r="1.95" fill="#000"/>
<circle cx="178.68" cy="774.5" r="1.95" fill="#000"/>
<line x1="187.2" y1="721.4" x2="187.2" y2="774.5" stroke="#999" stroke-width="1.3"/>
<circle cx="187.2" cy="721.4" r="1.95" fill="#000"/>
<circle cx="187.2" cy="742.64" r="1.95" fill="#000"/>
<circle cx="187.2" cy="753.26" r="1.95" fill="#000"/>
<circle cx="187.2" cy="763.88" r="1.95" fill="#000"/>
<circle cx="187.2" cy="774.5" r="1.95" fill="#000"/>
<line x1="195.72" y1="721.4" x2="195.72" y2="774.5" stroke="#111" stroke-width="0.8"/>
<circle cx="195.72" cy="721.4" r="1.95" fill="#000"/>
<circle cx="195.72" cy="732.02" r="1.95" fill="#000"/>
<circle cx="195.72" cy="742.64" r="1.95" fill="#000"/>
<circle cx="195.72" cy="763.88" r="1.95" fill="#000"/>
<circle cx="195.72" cy="774.5" r="1.95" fill="#000"/>
<line x1="204.24" y1="721.4" x2="204.24" y2="774.5" stroke="#999" stroke-width="1.3"/>
<circle cx="204.24" cy="721.4" r="1.95" fill="#000"/>
<circle cx="204.24" cy="732.02" r="1.95" fill="#000"/>
<circle cx="204.24" cy="742.64" r="1.95" fill="#000"/>
<circle cx="204.24" cy="753.26" r="1.95" fill="#000"/>
<circle cx="204.24" cy="774.5" r="1.95" fill="#000"/>
<line x1="212.76" y1="742.64" x2="212.76" y2="774.5" stroke="#111" stroke-width="0.8"/>
<circle cx="212.76" cy="742.64" r="1.95" fill="#000"/>
<circle cx="212.76" cy="753.26" r="1.95" fill="#000"/>
<circle cx="212.76" cy="763.88" r="1.95" fill="#000"/>
<circle cx="212.76" cy="774.5" r="1.95" fill="#000"/>
<line x1="221.28" y1="721.4" x2="221.28" y2="774.5" stroke="#999" stroke-width="1.3"/>
<circle cx="221.28" cy="721.4" r="1.95" fill="#000"/>
<circle cx="221.28" cy="742.64" r="1.95" fill="#000"/>
<circle cx="221.28" cy="753.26" r="1.95" fill="#000"/>
<circle cx="221.28" cy="774.5" r="1.95" fill="#000"/>
<line x1="229.8" y1="721.4" x2="229.8" y2="774.5" stroke="#111" stroke-width="0.8"/>
<circle cx="229.8" cy="721.4" r="1.95" fill="#000"/>
<circle cx="229.8" cy="732.02" r="1.95" fill="#000"/>
<circle cx="229.8" cy="763.88" r="1.95" fill="#000"/>
<circle cx="229.8" cy="774.5" r="1.95" fill="#000"/>
<line x1="238.32" y1="742.64" x2="238.32" y2="763.88" stroke="#999" stroke-width="1.3"/>
<circle cx="238.32" cy="742.64" r="1.95" fill="#000"/>
<circle cx="238.32" cy="753.26" r="1.95" fill="#000"/>
<circle cx="238.32" cy="763.88" r="1.95" fill="#000"/>
<line x1="246.84" y1="742.64" x2="246.84" y2="774.5" stroke="#111" stroke-width="0.8"/>
<circle cx="246.84" cy="742.64" r="1.95" fill="#000"/>
<circle cx="246.84" cy="763.88" r="1.95" fill="#000"/>
<circle cx="246.84" cy="774.5" r="1.95" fill="#000"/>
<line x1="255.36" y1="732.02" x2="255.36" y2="774.5" stroke="#999" stroke-width="1.3"/>
<circle cx="255.36" cy="732.02" r="1.95" fill="#000"/>
<circle cx="255.36" cy="763.88" r="1.95" fill="#000"/>
<circle cx="255.36" cy="774.5" r="1.95" fill="#000"/>
<line x1="263.88" y1="721.4" x2="263.88" y2="774.5" stroke="#111" stroke-width="0.8"/>
<circle cx="263.88" cy="721.4" r="1.95" fill="#000"/>
<circle cx="263.88" cy="732.02" r="1.95" fill="#000"/>
<circle cx="263.88" cy="774.5" r="1.95" fill="#000"/>
<line x1="272.4" y1="732.02" x2="272.4" y2="774.5" stroke="#999" stroke-width="1.3"/>
<circle cx="272.4" cy="732.02" r="1.95" fill="#000"/>
<circle cx="272.4" cy="753.26" r="1.95" fill="#000"/>
<circle cx="272.4" cy="774.5" r="1.95" fill="#000"/>
<line x1="280.92" y1="721.4" x2="280.92" y2="763.88" stroke="#111" stroke-width="0.8"/>
<circle cx="280.92" cy="721.4" r="1.95" fill="#000"/>
<circle cx="280.92" cy="763.88" r="1.95" fill="#000"/>
<line x1="289.44" y1="753.26" x2="289.44" y2="763.88" stroke="#999" stroke-width="1.3"/>
<circle cx="289.44" cy="753.26" r="1.95" fill="#000"/>
<circle cx="289.44" cy="763.88" r="1.95" fill="#000"/>
<line x1="297.96" y1="742.64" x2="297.96" y2="774.5" stroke="#111" stroke-width="0.8"/>
<circle cx="297.96" cy="742.64" r="1.95" fill="#000"/>
<circle cx="297.96" cy="774.5" r="1.95" fill="#000"/>
<circle cx="306.48" cy="721.4" r="1.95" fill="#000"/>
<circle cx="315" cy="753.26" r="1.95" fill="#000"/>
<circle cx="323.52" cy="732.02" r="1.95" fill="#000"/>
<text transform="translate(95.4,723.7) rotate(0.05) scale(0.92,1)" font-size="6.4" text-anchor="end" fill="#222">LASSO</text>
<rect x="60.35" y="717.6" width="6.45" height="7.4" fill="#3eae86" stroke="none" stroke-width="1"/>
<text transform="translate(60.95,723.7) rotate(0.05) scale(0.95,1)" font-size="6.4" text-anchor="start" fill="#222">16</text>
<text transform="translate(95.4,734.32) rotate(0.05) scale(0.92,1)" font-size="6.4" text-anchor="end" fill="#222">XGBoost</text>
<rect x="57.93" y="728.22" width="8.87" height="7.4" fill="#8c9ecb" stroke="none" stroke-width="1"/>
<text transform="translate(58.53,734.32) rotate(0.05) scale(0.95,1)" font-size="6.4" text-anchor="start" fill="#222">22</text>
<text transform="translate(95.4,744.94) rotate(0.05) scale(0.92,1)" font-size="6.4" text-anchor="end" fill="#222">Boruta</text>
<rect x="54.71" y="738.84" width="12.09" height="7.4" fill="#e9533e" stroke="none" stroke-width="1"/>
<text transform="translate(55.31,744.94) rotate(0.05) scale(0.95,1)" font-size="6.4" text-anchor="start" fill="#222">30</text>
<text transform="translate(95.4,755.56) rotate(0.05) scale(0.92,1)" font-size="6.4" text-anchor="end" fill="#222">PAMR</text>
<rect x="52.29" y="749.46" width="14.51" height="7.4" fill="#374f86" stroke="none" stroke-width="1"/>
<text transform="translate(52.89,755.56) rotate(0.05) scale(0.95,1)" font-size="6.4" text-anchor="start" fill="#222">36</text>
<text transform="translate(95.4,766.18) rotate(0.05) scale(0.92,1)" font-size="6.4" text-anchor="end" fill="#222">SVM-RFE</text>
<rect x="51.89" y="760.08" width="14.91" height="7.4" fill="#6cc7d3" stroke="none" stroke-width="1"/>
<text transform="translate(52.49,766.18) rotate(0.05) scale(0.95,1)" font-size="6.4" text-anchor="start" fill="#222">37</text>
<text transform="translate(95.4,776.8) rotate(0.05) scale(0.92,1)" font-size="6.4" text-anchor="end" fill="#222">RF</text>
<rect x="18.04" y="770.7" width="48.76" height="7.4" fill="#e8967e" stroke="none" stroke-width="1"/>
<text transform="translate(18.64,776.8) rotate(0.05) scale(0.95,1)" font-size="6.4" text-anchor="start" fill="#222">121</text>
<line x1="18.1" y1="780.3" x2="66.8" y2="780.3" stroke="#222" stroke-width="0.7"/>
<line x1="26.5" y1="780.3" x2="26.5" y2="782" stroke="#222" stroke-width="0.7"/>
<text transform="translate(26.5,788.4) rotate(0.05)" font-size="4.6" text-anchor="middle" fill="#222">100</text>
<line x1="46.65" y1="780.3" x2="46.65" y2="782" stroke="#222" stroke-width="0.7"/>
<text transform="translate(46.65,788.4) rotate(0.05)" font-size="4.6" text-anchor="middle" fill="#222">50</text>
<line x1="66.8" y1="780.3" x2="66.8" y2="782" stroke="#222" stroke-width="0.7"/>
<text transform="translate(66.8,788.4) rotate(0.05)" font-size="4.6" text-anchor="middle" fill="#222">0</text>
<line x1="18.1" y1="780.3" x2="18.1" y2="782" stroke="#222" stroke-width="0.7"/>
<text transform="translate(44.8,796.6) rotate(0.05) scale(0.95,1)" font-size="6" text-anchor="middle" fill="#222">Set Size</text>
<text transform="translate(349.4,579.2) rotate(0.05) scale(0.86,1)" font-size="7" text-anchor="start" fill="#111" font-weight="bold">Gene</text>
<text transform="translate(433.3,579.2) rotate(0.05) scale(0.86,1)" font-size="7" text-anchor="middle" fill="#111" font-weight="bold">p.value</text>
<text transform="translate(683.3,579.2) rotate(0.05) scale(0.86,1)" font-size="7" text-anchor="end" fill="#111" font-weight="bold">HR (95% CI for HR)</text>
<line x1="349.4" y1="584.1" x2="683.5" y2="584.1" stroke="#666" stroke-width="1.1"/>
<line x1="581.3" y1="584.6" x2="581.3" y2="770" stroke="#222" stroke-width="0.8" stroke-dasharray="1.0,1.9"/>
<text transform="translate(349.4,596.6) rotate(0.05) scale(0.86,1)" font-size="7" text-anchor="start" fill="#111">CNTD1</text>
<text transform="translate(432.9,596.6) rotate(0.05) scale(0.86,1)" font-size="7" text-anchor="middle" fill="#111">0.0055</text>
<text transform="translate(655.7,596.6) rotate(0.05) scale(0.86,1)" font-size="7" text-anchor="middle" fill="#111">0.43 (0.23-0.78)</text>
<line x1="461.18" y1="592.7" x2="546.98" y2="592.7" stroke="#111" stroke-width="0.75" stroke-dasharray="0.9,1.35"/>
<line x1="461.18" y1="590.4" x2="461.18" y2="595" stroke="#333" stroke-width="0.8"/>
<line x1="546.98" y1="590.4" x2="546.98" y2="595" stroke="#333" stroke-width="0.8"/>
<ellipse cx="492.38" cy="592.7" rx="2.5" ry="2.3" fill="#f00"/>
<text transform="translate(349.4,613.54) rotate(0.05) scale(0.86,1)" font-size="7" text-anchor="start" fill="#111">PYCR1</text>
<text transform="translate(432.9,613.54) rotate(0.05) scale(0.86,1)" font-size="7" text-anchor="middle" fill="#111">0.014</text>
<text transform="translate(655.7,613.54) rotate(0.05) scale(0.86,1)" font-size="7" text-anchor="middle" fill="#111">1.2 (1-1.3)</text>
<line x1="581.3" y1="609.64" x2="628.1" y2="609.64" stroke="#111" stroke-width="0.75" stroke-dasharray="0.9,1.35"/>
<line x1="581.3" y1="607.34" x2="581.3" y2="611.94" stroke="#333" stroke-width="0.8"/>
<line x1="628.1" y1="607.34" x2="628.1" y2="611.94" stroke="#333" stroke-width="0.8"/>
<ellipse cx="612.5" cy="609.64" rx="2.5" ry="2.3" fill="#f00"/>
<text transform="translate(349.4,630.48) rotate(0.05) scale(0.86,1)" font-size="7" text-anchor="start" fill="#111">C1QTNF6</text>
<text transform="translate(432.9,630.48) rotate(0.05) scale(0.86,1)" font-size="7" text-anchor="middle" fill="#111">0.033</text>
<text transform="translate(655.7,630.48) rotate(0.05) scale(0.86,1)" font-size="7" text-anchor="middle" fill="#111">1.2 (1-1.3)</text>
<line x1="581.3" y1="626.58" x2="628.1" y2="626.58" stroke="#111" stroke-width="0.75" stroke-dasharray="0.9,1.35"/>
<line x1="581.3" y1="624.28" x2="581.3" y2="628.88" stroke="#333" stroke-width="0.8"/>
<line x1="628.1" y1="624.28" x2="628.1" y2="628.88" stroke="#333" stroke-width="0.8"/>
<ellipse cx="612.5" cy="626.58" rx="2.5" ry="2.3" fill="#f00"/>
<text transform="translate(349.4,647.42) rotate(0.05) scale(0.86,1)" font-size="7" text-anchor="start" fill="#111">PITX1</text>
<text transform="translate(432.9,647.42) rotate(0.05) scale(0.86,1)" font-size="7" text-anchor="middle" fill="#111">0.016</text>
<text transform="translate(655.7,647.42) rotate(0.05) scale(0.86,1)" font-size="7" text-anchor="middle" fill="#111">1.1 (1-1.3)</text>
<line x1="581.3" y1="643.52" x2="628.1" y2="643.52" stroke="#111" stroke-width="0.75" stroke-dasharray="0.9,1.35"/>
<line x1="581.3" y1="641.22" x2="581.3" y2="645.82" stroke="#333" stroke-width="0.8"/>
<line x1="628.1" y1="641.22" x2="628.1" y2="645.82" stroke="#333" stroke-width="0.8"/>
<ellipse cx="596.9" cy="643.52" rx="2.5" ry="2.3" fill="#f00"/>
<text transform="translate(349.4,664.36) rotate(0.05) scale(0.86,1)" font-size="7" text-anchor="start" fill="#111">GEMIN6</text>
<text transform="translate(432.9,664.36) rotate(0.05) scale(0.86,1)" font-size="7" text-anchor="middle" fill="#111">0.047</text>
<text transform="translate(655.7,664.36) rotate(0.05) scale(0.86,1)" font-size="7" text-anchor="middle" fill="#111">0.69 (0.48-1)</text>
<line x1="500.18" y1="660.46" x2="581.3" y2="660.46" stroke="#111" stroke-width="0.75" stroke-dasharray="0.9,1.35"/>
<line x1="500.18" y1="658.16" x2="500.18" y2="662.76" stroke="#333" stroke-width="0.8"/>
<line x1="581.3" y1="658.16" x2="581.3" y2="662.76" stroke="#333" stroke-width="0.8"/>
<ellipse cx="532.94" cy="660.46" rx="2.5" ry="2.3" fill="#f00"/>
<text transform="translate(349.4,681.3) rotate(0.05) scale(0.86,1)" font-size="7" text-anchor="start" fill="#111">GPS2</text>
<text transform="translate(432.9,681.3) rotate(0.05) scale(0.86,1)" font-size="7" text-anchor="middle" fill="#111">0.00066</text>
<text transform="translate(655.7,681.3) rotate(0.05) scale(0.86,1)" font-size="7" text-anchor="middle" fill="#111">0.56 (0.4-0.78)</text>
<line x1="487.7" y1="677.4" x2="546.98" y2="677.4" stroke="#111" stroke-width="0.75" stroke-dasharray="0.9,1.35"/>
<line x1="487.7" y1="675.1" x2="487.7" y2="679.7" stroke="#333" stroke-width="0.8"/>
<line x1="546.98" y1="675.1" x2="546.98" y2="679.7" stroke="#333" stroke-width="0.8"/>
<ellipse cx="512.66" cy="677.4" rx="2.5" ry="2.3" fill="#f00"/>
<text transform="translate(349.4,698.24) rotate(0.05) scale(0.86,1)" font-size="7" text-anchor="start" fill="#111">RPP21</text>
<text transform="translate(432.9,698.24) rotate(0.05) scale(0.86,1)" font-size="7" text-anchor="middle" fill="#111">8.30E-05</text>
<text transform="translate(655.7,698.24) rotate(0.05) scale(0.86,1)" font-size="7" text-anchor="middle" fill="#111">0.58 (0.45-0.76)</text>
<line x1="495.5" y1="694.34" x2="543.86" y2="694.34" stroke="#111" stroke-width="0.75" stroke-dasharray="0.9,1.35"/>
<line x1="495.5" y1="692.04" x2="495.5" y2="696.64" stroke="#333" stroke-width="0.8"/>
<line x1="543.86" y1="692.04" x2="543.86" y2="696.64" stroke="#333" stroke-width="0.8"/>
<ellipse cx="515.78" cy="694.34" rx="2.5" ry="2.3" fill="#f00"/>
<text transform="translate(349.4,715.18) rotate(0.05) scale(0.86,1)" font-size="7" text-anchor="start" fill="#111">PLS1</text>
<text transform="translate(432.9,715.18) rotate(0.05) scale(0.86,1)" font-size="7" text-anchor="middle" fill="#111">0.044</text>
<text transform="translate(655.7,715.18) rotate(0.05) scale(0.86,1)" font-size="7" text-anchor="middle" fill="#111">0.87 (0.76-1)</text>
<line x1="543.86" y1="711.28" x2="581.3" y2="711.28" stroke="#111" stroke-width="0.75" stroke-dasharray="0.9,1.35"/>
<line x1="543.86" y1="708.98" x2="543.86" y2="713.58" stroke="#333" stroke-width="0.8"/>
<line x1="581.3" y1="708.98" x2="581.3" y2="713.58" stroke="#333" stroke-width="0.8"/>
<ellipse cx="561.02" cy="711.28" rx="2.5" ry="2.3" fill="#f00"/>
<text transform="translate(349.4,732.12) rotate(0.05) scale(0.86,1)" font-size="7" text-anchor="start" fill="#111">COMMD7</text>
<text transform="translate(432.9,732.12) rotate(0.05) scale(0.86,1)" font-size="7" text-anchor="middle" fill="#111">0.04</text>
<text transform="translate(655.7,732.12) rotate(0.05) scale(0.86,1)" font-size="7" text-anchor="middle" fill="#111">0.77 (0.6-0.99)</text>
<line x1="518.9" y1="728.22" x2="579.74" y2="728.22" stroke="#111" stroke-width="0.75" stroke-dasharray="0.9,1.35"/>
<line x1="518.9" y1="725.92" x2="518.9" y2="730.52" stroke="#333" stroke-width="0.8"/>
<line x1="579.74" y1="725.92" x2="579.74" y2="730.52" stroke="#333" stroke-width="0.8"/>
<ellipse cx="545.42" cy="728.22" rx="2.5" ry="2.3" fill="#f00"/>
<text transform="translate(349.4,749.06) rotate(0.05) scale(0.86,1)" font-size="7" text-anchor="start" fill="#111">CTHRC1</text>
<text transform="translate(432.9,749.06) rotate(0.05) scale(0.86,1)" font-size="7" text-anchor="middle" fill="#111">0.0019</text>
<text transform="translate(655.7,749.06) rotate(0.05) scale(0.86,1)" font-size="7" text-anchor="middle" fill="#111">1.1 (1-1.2)</text>
<line x1="581.3" y1="745.16" x2="612.5" y2="745.16" stroke="#111" stroke-width="0.75" stroke-dasharray="0.9,1.35"/>
<line x1="581.3" y1="742.86" x2="581.3" y2="747.46" stroke="#333" stroke-width="0.8"/>
<line x1="612.5" y1="742.86" x2="612.5" y2="747.46" stroke="#333" stroke-width="0.8"/>
<ellipse cx="596.9" cy="745.16" rx="2.5" ry="2.3" fill="#f00"/>
<text transform="translate(349.4,766) rotate(0.05) scale(0.86,1)" font-size="7" text-anchor="start" fill="#111">RPS6KA1</text>
<text transform="translate(432.9,766) rotate(0.05) scale(0.86,1)" font-size="7" text-anchor="middle" fill="#111">0.0012</text>
<text transform="translate(655.7,766) rotate(0.05) scale(0.86,1)" font-size="7" text-anchor="middle" fill="#111">0.69 (0.55-0.86)</text>
<line x1="511.1" y1="762.1" x2="559.46" y2="762.1" stroke="#111" stroke-width="0.75" stroke-dasharray="0.9,1.35"/>
<line x1="511.1" y1="759.8" x2="511.1" y2="764.4" stroke="#333" stroke-width="0.8"/>
<line x1="559.46" y1="759.8" x2="559.46" y2="764.4" stroke="#333" stroke-width="0.8"/>
<ellipse cx="532.94" cy="762.1" rx="2.5" ry="2.3" fill="#f00"/>
<line x1="349.4" y1="770.2" x2="683.5" y2="770.2" stroke="#111" stroke-width="1.1"/>
<line x1="461.18" y1="770.2" x2="461.18" y2="773.4" stroke="#222" stroke-width="0.8"/>
<line x1="472.1" y1="770.2" x2="472.1" y2="773.4" stroke="#222" stroke-width="0.8"/>
<line x1="487.7" y1="770.2" x2="487.7" y2="773.4" stroke="#222" stroke-width="0.8"/>
<line x1="503.3" y1="770.2" x2="503.3" y2="773.4" stroke="#222" stroke-width="0.8"/>
<line x1="518.9" y1="770.2" x2="518.9" y2="773.4" stroke="#222" stroke-width="0.8"/>
<line x1="534.5" y1="770.2" x2="534.5" y2="773.4" stroke="#222" stroke-width="0.8"/>
<line x1="550.1" y1="770.2" x2="550.1" y2="773.4" stroke="#222" stroke-width="0.8"/>
<line x1="565.7" y1="770.2" x2="565.7" y2="773.4" stroke="#222" stroke-width="0.8"/>
<line x1="581.3" y1="770.2" x2="581.3" y2="773.4" stroke="#222" stroke-width="0.8"/>
<line x1="596.9" y1="770.2" x2="596.9" y2="773.4" stroke="#222" stroke-width="0.8"/>
<line x1="612.5" y1="770.2" x2="612.5" y2="773.4" stroke="#222" stroke-width="0.8"/>
<line x1="628.1" y1="770.2" x2="628.1" y2="773.4" stroke="#222" stroke-width="0.8"/>
<text transform="translate(472.1,780.9) rotate(0.05) scale(0.86,1)" font-size="6" text-anchor="middle" fill="#111">0.3</text>
<text transform="translate(487.7,780.9) rotate(0.05) scale(0.86,1)" font-size="6" text-anchor="middle" fill="#111">0.4</text>
<text transform="translate(503.3,780.9) rotate(0.05) scale(0.86,1)" font-size="6" text-anchor="middle" fill="#111">0.5</text>
<text transform="translate(518.9,780.9) rotate(0.05) scale(0.86,1)" font-size="6" text-anchor="middle" fill="#111">0.6</text>
<text transform="translate(534.5,780.9) rotate(0.05) scale(0.86,1)" font-size="6" text-anchor="middle" fill="#111">0.7</text>
<text transform="translate(550.1,780.9) rotate(0.05) scale(0.86,1)" font-size="6" text-anchor="middle" fill="#111">0.8</text>
<text transform="translate(565.7,780.9) rotate(0.05) scale(0.86,1)" font-size="6" text-anchor="middle" fill="#111">0.9</text>
<text transform="translate(581.3,780.9) rotate(0.05) scale(0.86,1)" font-size="6" text-anchor="middle" fill="#111">1.0</text>
<text transform="translate(596.9,780.9) rotate(0.05) scale(0.86,1)" font-size="6" text-anchor="middle" fill="#111">1.1</text>
<text transform="translate(612.5,780.9) rotate(0.05) scale(0.86,1)" font-size="6" text-anchor="middle" fill="#111">1.2</text>
<text transform="translate(628.1,780.9) rotate(0.05) scale(0.86,1)" font-size="6" text-anchor="middle" fill="#111">1.3</text>
<text transform="translate(544.3,789.6) rotate(0.05) scale(0.86,1)" font-size="7" text-anchor="middle" fill="#111">Hazard Ratio(95%CI)</text>
</svg></body></html>
